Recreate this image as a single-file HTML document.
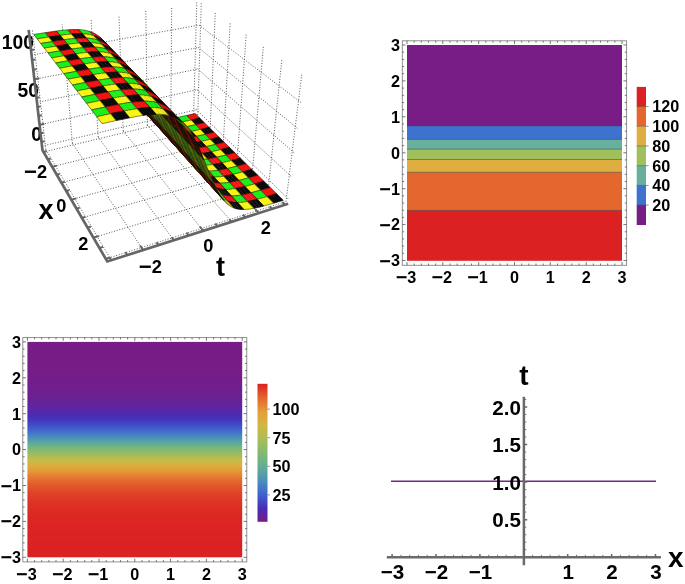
<!DOCTYPE html><html><head><meta charset="utf-8"><title>plots</title><style>html,body{margin:0;padding:0;background:#fff}svg{display:block}text{font-family:"Liberation Sans",Arial,sans-serif;font-weight:bold;fill:#000}</style></head><body>
<svg width="685" height="584" viewBox="0 0 685 584">
<rect width="685" height="584" fill="#fff"/>
<g id="p3d">
<g font-size="19.3" text-anchor="end">
<text x="34" y="48.6">100</text><text x="39" y="96.8">50</text><text x="42" y="141">0</text></g>
<path d="M45.8 149.5L111.3 260.3M43.5 152.0L197.7 115.0M45.8 149.5L32.3 29.2M197.7 115.0L201.3 3.0M72.4 143.2L143.2 250.1M52.1 166.8L210.2 127.2M72.4 143.2L62.2 24.3M210.2 127.2L215.3 12.8M98.2 137.0L173.8 240.3M61.4 182.7L223.4 140.3M98.2 137.0L91.1 19.6M223.4 140.3L230.2 23.2M123.2 131.0L203.3 230.9M71.3 199.6L237.6 154.1M123.2 131.0L118.9 15.1M237.6 154.1L246.2 34.4M147.4 125.3L231.6 221.8M81.9 217.9L252.6 168.9M147.4 125.3L145.8 10.7M252.6 168.9L263.4 46.5M170.8 119.7L258.9 213.1M93.4 237.6L268.7 184.7M170.8 119.7L171.7 6.5M268.7 184.7L281.9 59.5M193.6 114.2L285.1 204.7M105.8 258.9L286.0 201.6M193.6 114.2L196.8 2.4M286.0 201.6L301.9 73.5M42.0 146.1L196.4 109.7M196.4 109.7L288.7 199.3M39.6 124.8L197.0 89.7M197.0 89.7L291.6 176.8M37.0 102.5L197.6 69.0M197.6 69.0L294.6 153.2M34.4 79.3L198.3 47.5M198.3 47.5L297.7 128.4M31.6 55.1L199.0 25.1M199.0 25.1L301.0 102.5" fill="none" stroke="#3a3a3a" stroke-width="0.85" stroke-dasharray="1 1.7"/>
<path d="M186.6 115.5 L195.1 113.6 L199.7 118.1 L191.1 120.1Z" fill="#f41313" stroke="#f41313" stroke-width=".4"/>
<path d="M186.6 115.5L195.1 113.6M191.1 120.1L199.7 118.1M186.6 115.5L191.1 120.1M195.1 113.6L199.7 118.1" stroke="#000" stroke-width=".45" fill="none"/>
<path d="M178.0 117.3 L186.6 115.5 L191.1 120.1 L182.5 121.9Z" fill="#1def1d" stroke="#1def1d" stroke-width=".4"/>
<path d="M178.0 117.3L186.6 115.5M182.5 121.9L191.1 120.1M178.0 117.3L182.5 121.9M186.6 115.5L191.1 120.1" stroke="#000" stroke-width=".45" fill="none"/>
<path d="M175.1 117.8 L178.0 117.3 L182.5 121.9 L179.6 122.4Z" fill="#f41313" stroke="#f41313" stroke-width=".4"/>
<path d="M175.1 117.8L178.0 117.3M179.6 122.4L182.5 121.9M178.0 117.3L182.5 121.9" stroke="#000" stroke-width=".45" fill="none"/>
<path d="M191.1 120.1 L199.7 118.1 L204.3 122.7 L195.7 124.7Z" fill="#0b0b0b" stroke="#0b0b0b" stroke-width=".4"/>
<path d="M191.1 120.1L199.7 118.1M195.7 124.7L204.3 122.7M191.1 120.1L195.7 124.7M199.7 118.1L204.3 122.7" stroke="#000" stroke-width=".45" fill="none"/>
<path d="M172.2 118.2 L175.1 117.8 L179.6 122.4 L176.6 122.8Z" fill="#f41313" stroke="#f41313" stroke-width=".4"/>
<path d="M172.2 118.2L175.1 117.8M176.6 122.8L179.6 122.4" stroke="#000" stroke-width=".45" fill="none"/>
<path d="M169.3 118.6 L172.2 118.2 L176.6 122.8 L173.7 123.2Z" fill="#f41313" stroke="#f41313" stroke-width=".4"/>
<path d="M169.3 118.6L172.2 118.2M173.7 123.2L176.6 122.8M169.3 118.6L173.7 123.2" stroke="#000" stroke-width=".45" fill="none"/>
<path d="M166.4 118.8 L169.3 118.6 L173.7 123.2 L170.8 123.5Z" fill="#1dee1d" stroke="#1dee1d" stroke-width=".4"/>
<path d="M166.4 118.8L169.3 118.6M170.8 123.5L173.7 123.2M169.3 118.6L173.7 123.2" stroke="#000" stroke-width=".45" fill="none"/>
<path d="M182.5 121.9 L191.1 120.1 L195.7 124.7 L187.0 126.6Z" fill="#f9f413" stroke="#f9f413" stroke-width=".4"/>
<path d="M182.5 121.9L191.1 120.1M187.0 126.6L195.7 124.7M182.5 121.9L187.0 126.6M191.1 120.1L195.7 124.7" stroke="#000" stroke-width=".45" fill="none"/>
<path d="M163.5 118.9 L166.4 118.8 L170.8 123.5 L167.8 123.6Z" fill="#1ded1d" stroke="#1ded1d" stroke-width=".4"/>
<path d="M163.5 118.9L166.4 118.8M167.8 123.6L170.8 123.5" stroke="#000" stroke-width=".45" fill="none"/>
<path d="M179.6 122.4 L182.5 121.9 L187.0 126.6 L184.1 127.1Z" fill="#0b0b0b" stroke="#0b0b0b" stroke-width=".4"/>
<path d="M179.6 122.4L182.5 121.9M184.1 127.1L187.0 126.6M182.5 121.9L187.0 126.6" stroke="#000" stroke-width=".45" fill="none"/>
<path d="M160.5 118.8 L163.5 118.9 L167.8 123.6 L164.8 123.5Z" fill="#1deb1d" stroke="#1deb1d" stroke-width=".4"/>
<path d="M160.5 118.8L163.5 118.9M164.8 123.5L167.8 123.6M160.5 118.8L164.8 123.5" stroke="#000" stroke-width=".45" fill="none"/>
<path d="M195.7 124.7 L204.3 122.7 L209.1 127.4 L200.4 129.5Z" fill="#f41313" stroke="#f41313" stroke-width=".4"/>
<path d="M195.7 124.7L204.3 122.7M200.4 129.5L209.1 127.4M195.7 124.7L200.4 129.5M204.3 122.7L209.1 127.4" stroke="#000" stroke-width=".45" fill="none"/>
<path d="M176.6 122.8 L179.6 122.4 L184.1 127.1 L181.1 127.6Z" fill="#0b0b0b" stroke="#0b0b0b" stroke-width=".4"/>
<path d="M176.6 122.8L179.6 122.4M181.1 127.6L184.1 127.1" stroke="#000" stroke-width=".45" fill="none"/>
<path d="M157.6 118.5 L160.5 118.8 L164.8 123.5 L161.9 123.2Z" fill="#ed1313" stroke="#ed1313" stroke-width=".4"/>
<path d="M157.6 118.5L160.5 118.8M161.9 123.2L164.8 123.5M160.5 118.8L164.8 123.5" stroke="#000" stroke-width=".45" fill="none"/>
<path d="M173.7 123.2 L176.6 122.8 L181.1 127.6 L178.2 128.0Z" fill="#0b0b0b" stroke="#0b0b0b" stroke-width=".4"/>
<path d="M173.7 123.2L176.6 122.8M178.2 128.0L181.1 127.6M173.7 123.2L178.2 128.0" stroke="#000" stroke-width=".45" fill="none"/>
<path d="M154.6 117.8 L157.6 118.5 L161.9 123.2 L158.9 122.5Z" fill="#e71212" stroke="#e71212" stroke-width=".4"/>
<path d="M154.6 117.8L157.6 118.5M158.9 122.5L161.9 123.2" stroke="#000" stroke-width=".45" fill="none"/>
<path d="M170.8 123.5 L173.7 123.2 L178.2 128.0 L175.2 128.3Z" fill="#f8f313" stroke="#f8f313" stroke-width=".4"/>
<path d="M170.8 123.5L173.7 123.2M175.2 128.3L178.2 128.0M173.7 123.2L178.2 128.0" stroke="#000" stroke-width=".45" fill="none"/>
<path d="M187.0 126.6 L195.7 124.7 L200.4 129.5 L191.6 131.4Z" fill="#1def1d" stroke="#1def1d" stroke-width=".4"/>
<path d="M187.0 126.6L195.7 124.7M191.6 131.4L200.4 129.5M187.0 126.6L191.6 131.4M195.7 124.7L200.4 129.5" stroke="#000" stroke-width=".45" fill="none"/>
<path d="M167.8 123.6 L170.8 123.5 L175.2 128.3 L172.2 128.4Z" fill="#f7f213" stroke="#f7f213" stroke-width=".4"/>
<path d="M167.8 123.6L170.8 123.5M172.2 128.4L175.2 128.3" stroke="#000" stroke-width=".45" fill="none"/>
<path d="M151.6 116.6 L154.6 117.8 L158.9 122.5 L155.8 121.4Z" fill="#df1212" stroke="#df1212" stroke-width=".4"/>
<path d="M151.6 116.6L154.6 117.8M155.8 121.4L158.9 122.5M151.6 116.6L155.8 121.4" stroke="#000" stroke-width=".45" fill="none"/>
<path d="M184.1 127.1 L187.0 126.6 L191.6 131.4 L188.7 131.9Z" fill="#f41313" stroke="#f41313" stroke-width=".4"/>
<path d="M184.1 127.1L187.0 126.6M188.7 131.9L191.6 131.4M187.0 126.6L191.6 131.4" stroke="#000" stroke-width=".45" fill="none"/>
<path d="M164.8 123.5 L167.8 123.6 L172.2 128.4 L169.2 128.3Z" fill="#f5f013" stroke="#f5f013" stroke-width=".4"/>
<path d="M164.8 123.5L167.8 123.6M169.2 128.3L172.2 128.4M164.8 123.5L169.2 128.3" stroke="#000" stroke-width=".45" fill="none"/>
<path d="M200.4 129.5 L209.1 127.4 L214.0 132.3 L205.3 134.4Z" fill="#0b0b0b" stroke="#0b0b0b" stroke-width=".4"/>
<path d="M200.4 129.5L209.1 127.4M205.3 134.4L214.0 132.3M200.4 129.5L205.3 134.4M209.1 127.4L214.0 132.3" stroke="#000" stroke-width=".45" fill="none"/>
<path d="M149.8 115.7 L151.6 116.6 L155.8 121.4 L154.0 120.4Z" fill="#1bcd1a" stroke="#1bcd1a" stroke-width=".4"/>
<path d="M149.8 115.7L151.6 116.6M154.0 120.4L155.8 121.4M151.6 116.6L155.8 121.4" stroke="#000" stroke-width=".45" fill="none"/>
<path d="M181.1 127.6 L184.1 127.1 L188.7 131.9 L185.7 132.4Z" fill="#f41313" stroke="#f41313" stroke-width=".4"/>
<path d="M181.1 127.6L184.1 127.1M185.7 132.4L188.7 131.9" stroke="#000" stroke-width=".45" fill="none"/>
<path d="M161.9 123.2 L164.8 123.5 L169.2 128.3 L166.2 128.0Z" fill="#0b0b0b" stroke="#0b0b0b" stroke-width=".4"/>
<path d="M161.9 123.2L164.8 123.5M166.2 128.0L169.2 128.3M164.8 123.5L169.2 128.3" stroke="#000" stroke-width=".45" fill="none"/>
<path d="M147.9 114.5 L149.8 115.7 L154.0 120.4 L152.2 119.2Z" fill="#1cc018" stroke="#1cc018" stroke-width=".4"/>
<path d="M147.9 114.5L149.8 115.7M152.2 119.2L154.0 120.4" stroke="#000" stroke-width=".45" fill="none"/>
<path d="M178.2 128.0 L181.1 127.6 L185.7 132.4 L182.8 132.8Z" fill="#f41313" stroke="#f41313" stroke-width=".4"/>
<path d="M178.2 128.0L181.1 127.6M182.8 132.8L185.7 132.4M178.2 128.0L182.8 132.8" stroke="#000" stroke-width=".45" fill="none"/>
<path d="M158.9 122.5 L161.9 123.2 L166.2 128.0 L163.2 127.3Z" fill="#0b0b0b" stroke="#0b0b0b" stroke-width=".4"/>
<path d="M158.9 122.5L161.9 123.2M163.2 127.3L166.2 128.0" stroke="#000" stroke-width=".45" fill="none"/>
<path d="M146.1 113.1 L147.9 114.5 L152.2 119.2 L150.3 117.8Z" fill="#1db217" stroke="#1db217" stroke-width=".4"/>
<path d="M146.1 113.1L147.9 114.5M150.3 117.8L152.2 119.2" stroke="#000" stroke-width=".45" fill="none"/>
<path d="M175.2 128.3 L178.2 128.0 L182.8 132.8 L179.8 133.1Z" fill="#1dee1d" stroke="#1dee1d" stroke-width=".4"/>
<path d="M175.2 128.3L178.2 128.0M179.8 133.1L182.8 132.8M178.2 128.0L182.8 132.8" stroke="#000" stroke-width=".45" fill="none"/>
<path d="M191.6 131.4 L200.4 129.5 L205.3 134.4 L196.4 136.3Z" fill="#f9f413" stroke="#f9f413" stroke-width=".4"/>
<path d="M191.6 131.4L200.4 129.5M196.4 136.3L205.3 134.4M191.6 131.4L196.4 136.3M200.4 129.5L205.3 134.4" stroke="#000" stroke-width=".45" fill="none"/>
<path d="M172.2 128.4 L175.2 128.3 L179.8 133.1 L176.8 133.3Z" fill="#1ded1d" stroke="#1ded1d" stroke-width=".4"/>
<path d="M172.2 128.4L175.2 128.3M176.8 133.3L179.8 133.1" stroke="#000" stroke-width=".45" fill="none"/>
<path d="M144.2 111.4 L146.1 113.1 L150.3 117.8 L148.4 116.1Z" fill="#1fa316" stroke="#1fa316" stroke-width=".4"/>
<path d="M144.2 111.4L146.1 113.1M148.4 116.1L150.3 117.8" stroke="#000" stroke-width=".45" fill="none"/>
<path d="M155.8 121.4 L158.9 122.5 L163.2 127.3 L160.2 126.2Z" fill="#0a0a0a" stroke="#0a0a0a" stroke-width=".4"/>
<path d="M155.8 121.4L158.9 122.5M160.2 126.2L163.2 127.3M155.8 121.4L160.2 126.2" stroke="#000" stroke-width=".45" fill="none"/>
<path d="M188.7 131.9 L191.6 131.4 L196.4 136.3 L193.4 136.9Z" fill="#0b0b0b" stroke="#0b0b0b" stroke-width=".4"/>
<path d="M188.7 131.9L191.6 131.4M193.4 136.9L196.4 136.3M191.6 131.4L196.4 136.3" stroke="#000" stroke-width=".45" fill="none"/>
<path d="M169.2 128.3 L172.2 128.4 L176.8 133.3 L173.8 133.2Z" fill="#1deb1d" stroke="#1deb1d" stroke-width=".4"/>
<path d="M169.2 128.3L172.2 128.4M173.8 133.2L176.8 133.3M169.2 128.3L173.8 133.2" stroke="#000" stroke-width=".45" fill="none"/>
<path d="M205.3 134.4 L214.0 132.3 L219.1 137.2 L210.2 139.4Z" fill="#f41313" stroke="#f41313" stroke-width=".4"/>
<path d="M205.3 134.4L214.0 132.3M210.2 139.4L219.1 137.2M205.3 134.4L210.2 139.4M214.0 132.3L219.1 137.2" stroke="#000" stroke-width=".45" fill="none"/>
<path d="M154.0 120.4 L155.8 121.4 L160.2 126.2 L158.3 125.2Z" fill="#d5d111" stroke="#d5d111" stroke-width=".4"/>
<path d="M154.0 120.4L155.8 121.4M158.3 125.2L160.2 126.2M155.8 121.4L160.2 126.2" stroke="#000" stroke-width=".45" fill="none"/>
<path d="M142.4 109.4 L144.2 111.4 L148.4 116.1 L146.6 114.1Z" fill="#219415" stroke="#219415" stroke-width=".4"/>
<path d="M142.4 109.4L144.2 111.4M146.6 114.1L148.4 116.1M142.4 109.4L146.6 114.1" stroke="#000" stroke-width=".3" fill="none"/>
<path d="M185.7 132.4 L188.7 131.9 L193.4 136.9 L190.4 137.4Z" fill="#0b0b0b" stroke="#0b0b0b" stroke-width=".4"/>
<path d="M185.7 132.4L188.7 131.9M190.4 137.4L193.4 136.9" stroke="#000" stroke-width=".45" fill="none"/>
<path d="M166.2 128.0 L169.2 128.3 L173.8 133.2 L170.7 132.9Z" fill="#ed1313" stroke="#ed1313" stroke-width=".4"/>
<path d="M166.2 128.0L169.2 128.3M170.7 132.9L173.8 133.2M169.2 128.3L173.8 133.2" stroke="#000" stroke-width=".45" fill="none"/>
<path d="M152.2 119.2 L154.0 120.4 L158.3 125.2 L156.5 124.1Z" fill="#c6c411" stroke="#c6c411" stroke-width=".4"/>
<path d="M152.2 119.2L154.0 120.4M156.5 124.1L158.3 125.2" stroke="#000" stroke-width=".45" fill="none"/>
<path d="M182.8 132.8 L185.7 132.4 L190.4 137.4 L187.4 137.8Z" fill="#0b0b0b" stroke="#0b0b0b" stroke-width=".4"/>
<path d="M182.8 132.8L185.7 132.4M187.4 137.8L190.4 137.4M182.8 132.8L187.4 137.8" stroke="#000" stroke-width=".45" fill="none"/>
<path d="M140.5 107.1 L142.4 109.4 L146.6 114.1 L144.6 111.7Z" fill="#80100c" stroke="#80100c" stroke-width=".4"/>
<path d="M140.5 107.1L142.4 109.4M144.6 111.7L146.6 114.1M142.4 109.4L146.6 114.1" stroke="#000" stroke-width=".3" fill="none"/>
<path d="M163.2 127.3 L166.2 128.0 L170.7 132.9 L167.7 132.2Z" fill="#e71212" stroke="#e71212" stroke-width=".4"/>
<path d="M163.2 127.3L166.2 128.0M167.7 132.2L170.7 132.9" stroke="#000" stroke-width=".45" fill="none"/>
<path d="M150.3 117.8 L152.2 119.2 L156.5 124.1 L154.6 122.6Z" fill="#b7b610" stroke="#b7b610" stroke-width=".4"/>
<path d="M150.3 117.8L152.2 119.2M154.6 122.6L156.5 124.1" stroke="#000" stroke-width=".45" fill="none"/>
<path d="M179.8 133.1 L182.8 132.8 L187.4 137.8 L184.4 138.1Z" fill="#f8f313" stroke="#f8f313" stroke-width=".4"/>
<path d="M179.8 133.1L182.8 132.8M184.4 138.1L187.4 137.8M182.8 132.8L187.4 137.8" stroke="#000" stroke-width=".45" fill="none"/>
<path d="M196.4 136.3 L205.3 134.4 L210.2 139.4 L201.3 141.4Z" fill="#1def1d" stroke="#1def1d" stroke-width=".4"/>
<path d="M196.4 136.3L205.3 134.4M201.3 141.4L210.2 139.4M196.4 136.3L201.3 141.4M205.3 134.4L210.2 139.4" stroke="#000" stroke-width=".45" fill="none"/>
<path d="M138.5 104.4 L140.5 107.1 L144.6 111.7 L142.7 109.0Z" fill="#72100b" stroke="#72100b" stroke-width=".4"/>
<path d="M138.5 104.4L140.5 107.1M142.7 109.0L144.6 111.7" stroke="#000" stroke-width=".3" fill="none"/>
<path d="M176.8 133.3 L179.8 133.1 L184.4 138.1 L181.4 138.3Z" fill="#f7f213" stroke="#f7f213" stroke-width=".4"/>
<path d="M176.8 133.3L179.8 133.1M181.4 138.3L184.4 138.1" stroke="#000" stroke-width=".45" fill="none"/>
<path d="M148.4 116.1 L150.3 117.8 L154.6 122.6 L152.7 120.9Z" fill="#a6a610" stroke="#a6a610" stroke-width=".4"/>
<path d="M148.4 116.1L150.3 117.8M152.7 120.9L154.6 122.6" stroke="#000" stroke-width=".45" fill="none"/>
<path d="M160.2 126.2 L163.2 127.3 L167.7 132.2 L164.6 131.1Z" fill="#df1212" stroke="#df1212" stroke-width=".4"/>
<path d="M160.2 126.2L163.2 127.3M164.6 131.1L167.7 132.2M160.2 126.2L164.6 131.1" stroke="#000" stroke-width=".45" fill="none"/>
<path d="M193.4 136.9 L196.4 136.3 L201.3 141.4 L198.3 142.0Z" fill="#f41313" stroke="#f41313" stroke-width=".4"/>
<path d="M193.4 136.9L196.4 136.3M198.3 142.0L201.3 141.4M196.4 136.3L201.3 141.4" stroke="#000" stroke-width=".45" fill="none"/>
<path d="M173.8 133.2 L176.8 133.3 L181.4 138.3 L178.4 138.3Z" fill="#f5f013" stroke="#f5f013" stroke-width=".4"/>
<path d="M173.8 133.2L176.8 133.3M178.4 138.3L181.4 138.3M173.8 133.2L178.4 138.3" stroke="#000" stroke-width=".45" fill="none"/>
<path d="M210.2 139.4 L219.1 137.2 L224.2 142.3 L215.3 144.5Z" fill="#0b0b0b" stroke="#0b0b0b" stroke-width=".4"/>
<path d="M210.2 139.4L219.1 137.2M215.3 144.5L224.2 142.3M210.2 139.4L215.3 144.5M219.1 137.2L224.2 142.3" stroke="#000" stroke-width=".45" fill="none"/>
<path d="M158.3 125.2 L160.2 126.2 L164.6 131.1 L162.8 130.2Z" fill="#1bcd1a" stroke="#1bcd1a" stroke-width=".4"/>
<path d="M158.3 125.2L160.2 126.2M162.8 130.2L164.6 131.1M160.2 126.2L164.6 131.1" stroke="#000" stroke-width=".45" fill="none"/>
<path d="M136.6 101.3 L138.5 104.4 L142.7 109.0 L140.8 106.0Z" fill="#65110a" stroke="#65110a" stroke-width=".4"/>
<path d="M136.6 101.3L138.5 104.4M140.8 106.0L142.7 109.0" stroke="#000" stroke-width=".3" fill="none"/>
<path d="M146.6 114.1 L148.4 116.1 L152.7 120.9 L150.8 118.9Z" fill="#95970f" stroke="#95970f" stroke-width=".4"/>
<path d="M146.6 114.1L148.4 116.1M150.8 118.9L152.7 120.9M146.6 114.1L150.8 118.9" stroke="#000" stroke-width=".3" fill="none"/>
<path d="M190.4 137.4 L193.4 136.9 L198.3 142.0 L195.3 142.5Z" fill="#f41313" stroke="#f41313" stroke-width=".4"/>
<path d="M190.4 137.4L193.4 136.9M195.3 142.5L198.3 142.0" stroke="#000" stroke-width=".45" fill="none"/>
<path d="M170.7 132.9 L173.8 133.2 L178.4 138.3 L175.3 137.9Z" fill="#0b0b0b" stroke="#0b0b0b" stroke-width=".4"/>
<path d="M170.7 132.9L173.8 133.2M175.3 137.9L178.4 138.3M173.8 133.2L178.4 138.3" stroke="#000" stroke-width=".45" fill="none"/>
<path d="M156.5 124.1 L158.3 125.2 L162.8 130.2 L160.9 129.0Z" fill="#1cc018" stroke="#1cc018" stroke-width=".4"/>
<path d="M156.5 124.1L158.3 125.2M160.9 129.0L162.8 130.2" stroke="#000" stroke-width=".45" fill="none"/>
<path d="M187.4 137.8 L190.4 137.4 L195.3 142.5 L192.2 142.9Z" fill="#f41313" stroke="#f41313" stroke-width=".4"/>
<path d="M187.4 137.8L190.4 137.4M192.2 142.9L195.3 142.5M187.4 137.8L192.2 142.9" stroke="#000" stroke-width=".45" fill="none"/>
<path d="M144.6 111.7 L146.6 114.1 L150.8 118.9 L148.9 116.5Z" fill="#190d08" stroke="#190d08" stroke-width=".4"/>
<path d="M144.6 111.7L146.6 114.1M148.9 116.5L150.8 118.9M146.6 114.1L150.8 118.9" stroke="#000" stroke-width=".3" fill="none"/>
<path d="M134.6 97.9 L136.6 101.3 L140.8 106.0 L138.8 102.6Z" fill="#5c110a" stroke="#5c110a" stroke-width=".4"/>
<path d="M134.6 97.9L136.6 101.3M138.8 102.6L140.8 106.0" stroke="#000" stroke-width=".3" fill="none"/>
<path d="M167.7 132.2 L170.7 132.9 L175.3 137.9 L172.3 137.3Z" fill="#0b0b0b" stroke="#0b0b0b" stroke-width=".4"/>
<path d="M167.7 132.2L170.7 132.9M172.3 137.3L175.3 137.9" stroke="#000" stroke-width=".45" fill="none"/>
<path d="M154.6 122.6 L156.5 124.1 L160.9 129.0 L159.0 127.6Z" fill="#1db217" stroke="#1db217" stroke-width=".4"/>
<path d="M154.6 122.6L156.5 124.1M159.0 127.6L160.9 129.0" stroke="#000" stroke-width=".45" fill="none"/>
<path d="M184.4 138.1 L187.4 137.8 L192.2 142.9 L189.2 143.3Z" fill="#1dee1d" stroke="#1dee1d" stroke-width=".4"/>
<path d="M184.4 138.1L187.4 137.8M189.2 143.3L192.2 142.9M187.4 137.8L192.2 142.9" stroke="#000" stroke-width=".45" fill="none"/>
<path d="M201.3 141.4 L210.2 139.4 L215.3 144.5 L206.3 146.5Z" fill="#f9f413" stroke="#f9f413" stroke-width=".4"/>
<path d="M201.3 141.4L210.2 139.4M206.3 146.5L215.3 144.5M201.3 141.4L206.3 146.5M210.2 139.4L215.3 144.5" stroke="#000" stroke-width=".45" fill="none"/>
<path d="M142.7 109.0 L144.6 111.7 L148.9 116.5 L147.0 113.8Z" fill="#1c0d08" stroke="#1c0d08" stroke-width=".4"/>
<path d="M142.7 109.0L144.6 111.7M147.0 113.8L148.9 116.5" stroke="#000" stroke-width=".3" fill="none"/>
<path d="M181.4 138.3 L184.4 138.1 L189.2 143.3 L186.2 143.4Z" fill="#1ded1d" stroke="#1ded1d" stroke-width=".4"/>
<path d="M181.4 138.3L184.4 138.1M186.2 143.4L189.2 143.3" stroke="#000" stroke-width=".45" fill="none"/>
<path d="M152.7 120.9 L154.6 122.6 L159.0 127.6 L157.1 125.8Z" fill="#1fa316" stroke="#1fa316" stroke-width=".4"/>
<path d="M152.7 120.9L154.6 122.6M157.1 125.8L159.0 127.6" stroke="#000" stroke-width=".45" fill="none"/>
<path d="M164.6 131.1 L167.7 132.2 L172.3 137.3 L169.2 136.2Z" fill="#0a0a0a" stroke="#0a0a0a" stroke-width=".4"/>
<path d="M164.6 131.1L167.7 132.2M169.2 136.2L172.3 137.3M164.6 131.1L169.2 136.2" stroke="#000" stroke-width=".45" fill="none"/>
<path d="M132.6 94.2 L134.6 97.9 L138.8 102.6 L136.8 98.8Z" fill="#54110a" stroke="#54110a" stroke-width=".4"/>
<path d="M132.6 94.2L134.6 97.9M136.8 98.8L138.8 102.6M132.6 94.2L136.8 98.8" stroke="#000" stroke-width=".3" fill="none"/>
<path d="M198.3 142.0 L201.3 141.4 L206.3 146.5 L203.2 147.1Z" fill="#0b0b0b" stroke="#0b0b0b" stroke-width=".4"/>
<path d="M198.3 142.0L201.3 141.4M203.2 147.1L206.3 146.5M201.3 141.4L206.3 146.5" stroke="#000" stroke-width=".45" fill="none"/>
<path d="M178.4 138.3 L181.4 138.3 L186.2 143.4 L183.1 143.4Z" fill="#1deb1d" stroke="#1deb1d" stroke-width=".4"/>
<path d="M178.4 138.3L181.4 138.3M183.1 143.4L186.2 143.4M178.4 138.3L183.1 143.4" stroke="#000" stroke-width=".45" fill="none"/>
<path d="M215.3 144.5 L224.2 142.3 L229.5 147.4 L220.5 149.7Z" fill="#f41313" stroke="#f41313" stroke-width=".4"/>
<path d="M215.3 144.5L224.2 142.3M220.5 149.7L229.5 147.4M215.3 144.5L220.5 149.7M224.2 142.3L229.5 147.4" stroke="#000" stroke-width=".45" fill="none"/>
<path d="M162.8 130.2 L164.6 131.1 L169.2 136.2 L167.3 135.2Z" fill="#d5d111" stroke="#d5d111" stroke-width=".4"/>
<path d="M162.8 130.2L164.6 131.1M167.3 135.2L169.2 136.2M164.6 131.1L169.2 136.2" stroke="#000" stroke-width=".45" fill="none"/>
<path d="M140.8 106.0 L142.7 109.0 L147.0 113.8 L145.1 110.7Z" fill="#1f0e08" stroke="#1f0e08" stroke-width=".4"/>
<path d="M140.8 106.0L142.7 109.0M145.1 110.7L147.0 113.8" stroke="#000" stroke-width=".3" fill="none"/>
<path d="M150.8 118.9 L152.7 120.9 L157.1 125.8 L155.2 123.8Z" fill="#219415" stroke="#219415" stroke-width=".4"/>
<path d="M150.8 118.9L152.7 120.9M155.2 123.8L157.1 125.8M150.8 118.9L155.2 123.8" stroke="#000" stroke-width=".3" fill="none"/>
<path d="M195.3 142.5 L198.3 142.0 L203.2 147.1 L200.2 147.7Z" fill="#0b0b0b" stroke="#0b0b0b" stroke-width=".4"/>
<path d="M195.3 142.5L198.3 142.0M200.2 147.7L203.2 147.1" stroke="#000" stroke-width=".45" fill="none"/>
<path d="M175.3 137.9 L178.4 138.3 L183.1 143.4 L180.0 143.1Z" fill="#ed1313" stroke="#ed1313" stroke-width=".4"/>
<path d="M175.3 137.9L178.4 138.3M180.0 143.1L183.1 143.4M178.4 138.3L183.1 143.4" stroke="#000" stroke-width=".45" fill="none"/>
<path d="M130.6 90.2 L132.6 94.2 L136.8 98.8 L134.8 94.8Z" fill="#2e5e11" stroke="#2e5e11" stroke-width=".4"/>
<path d="M130.6 90.2L132.6 94.2M134.8 94.8L136.8 98.8M132.6 94.2L136.8 98.8" stroke="#000" stroke-width=".3" fill="none"/>
<path d="M160.9 129.0 L162.8 130.2 L167.3 135.2 L165.4 134.0Z" fill="#c6c411" stroke="#c6c411" stroke-width=".4"/>
<path d="M160.9 129.0L162.8 130.2M165.4 134.0L167.3 135.2" stroke="#000" stroke-width=".45" fill="none"/>
<path d="M192.2 142.9 L195.3 142.5 L200.2 147.7 L197.2 148.1Z" fill="#0b0b0b" stroke="#0b0b0b" stroke-width=".4"/>
<path d="M192.2 142.9L195.3 142.5M197.2 148.1L200.2 147.7M192.2 142.9L197.2 148.1" stroke="#000" stroke-width=".45" fill="none"/>
<path d="M148.9 116.5 L150.8 118.9 L155.2 123.8 L153.3 121.4Z" fill="#80100c" stroke="#80100c" stroke-width=".4"/>
<path d="M148.9 116.5L150.8 118.9M153.3 121.4L155.2 123.8M150.8 118.9L155.2 123.8" stroke="#000" stroke-width=".3" fill="none"/>
<path d="M138.8 102.6 L140.8 106.0 L145.1 110.7 L143.1 107.3Z" fill="#220f08" stroke="#220f08" stroke-width=".4"/>
<path d="M138.8 102.6L140.8 106.0M143.1 107.3L145.1 110.7" stroke="#000" stroke-width=".3" fill="none"/>
<path d="M172.3 137.3 L175.3 137.9 L180.0 143.1 L176.9 142.4Z" fill="#e71212" stroke="#e71212" stroke-width=".4"/>
<path d="M172.3 137.3L175.3 137.9M176.9 142.4L180.0 143.1" stroke="#000" stroke-width=".45" fill="none"/>
<path d="M159.0 127.6 L160.9 129.0 L165.4 134.0 L163.6 132.6Z" fill="#b7b610" stroke="#b7b610" stroke-width=".4"/>
<path d="M159.0 127.6L160.9 129.0M163.6 132.6L165.4 134.0" stroke="#000" stroke-width=".45" fill="none"/>
<path d="M189.2 143.3 L192.2 142.9 L197.2 148.1 L194.1 148.5Z" fill="#f8f313" stroke="#f8f313" stroke-width=".4"/>
<path d="M189.2 143.3L192.2 142.9M194.1 148.5L197.2 148.1M192.2 142.9L197.2 148.1" stroke="#000" stroke-width=".45" fill="none"/>
<path d="M206.3 146.5 L215.3 144.5 L220.5 149.7 L211.4 151.8Z" fill="#1def1d" stroke="#1def1d" stroke-width=".4"/>
<path d="M206.3 146.5L215.3 144.5M211.4 151.8L220.5 149.7M206.3 146.5L211.4 151.8M215.3 144.5L220.5 149.7" stroke="#000" stroke-width=".45" fill="none"/>
<path d="M147.0 113.8 L148.9 116.5 L153.3 121.4 L151.4 118.7Z" fill="#72100b" stroke="#72100b" stroke-width=".4"/>
<path d="M147.0 113.8L148.9 116.5M151.4 118.7L153.3 121.4" stroke="#000" stroke-width=".3" fill="none"/>
<path d="M128.6 85.9 L130.6 90.2 L134.8 94.8 L132.7 90.4Z" fill="#2f5d12" stroke="#2f5d12" stroke-width=".4"/>
<path d="M128.6 85.9L130.6 90.2M132.7 90.4L134.8 94.8" stroke="#000" stroke-width=".3" fill="none"/>
<path d="M186.2 143.4 L189.2 143.3 L194.1 148.5 L191.0 148.7Z" fill="#f7f213" stroke="#f7f213" stroke-width=".4"/>
<path d="M186.2 143.4L189.2 143.3M191.0 148.7L194.1 148.5" stroke="#000" stroke-width=".45" fill="none"/>
<path d="M157.1 125.8 L159.0 127.6 L163.6 132.6 L161.7 130.9Z" fill="#a6a610" stroke="#a6a610" stroke-width=".4"/>
<path d="M157.1 125.8L159.0 127.6M161.7 130.9L163.6 132.6" stroke="#000" stroke-width=".45" fill="none"/>
<path d="M169.2 136.2 L172.3 137.3 L176.9 142.4 L173.8 141.3Z" fill="#df1212" stroke="#df1212" stroke-width=".4"/>
<path d="M169.2 136.2L172.3 137.3M173.8 141.3L176.9 142.4M169.2 136.2L173.8 141.3" stroke="#000" stroke-width=".45" fill="none"/>
<path d="M136.8 98.8 L138.8 102.6 L143.1 107.3 L141.1 103.5Z" fill="#251008" stroke="#251008" stroke-width=".4"/>
<path d="M136.8 98.8L138.8 102.6M141.1 103.5L143.1 107.3M136.8 98.8L141.1 103.5" stroke="#000" stroke-width=".3" fill="none"/>
<path d="M203.2 147.1 L206.3 146.5 L211.4 151.8 L208.3 152.5Z" fill="#f41313" stroke="#f41313" stroke-width=".4"/>
<path d="M203.2 147.1L206.3 146.5M208.3 152.5L211.4 151.8M206.3 146.5L211.4 151.8" stroke="#000" stroke-width=".45" fill="none"/>
<path d="M183.1 143.4 L186.2 143.4 L191.0 148.7 L187.9 148.7Z" fill="#f5f013" stroke="#f5f013" stroke-width=".4"/>
<path d="M183.1 143.4L186.2 143.4M187.9 148.7L191.0 148.7M183.1 143.4L187.9 148.7" stroke="#000" stroke-width=".45" fill="none"/>
<path d="M220.5 149.7 L229.5 147.4 L234.8 152.7 L225.8 155.1Z" fill="#0b0b0b" stroke="#0b0b0b" stroke-width=".4"/>
<path d="M220.5 149.7L229.5 147.4M225.8 155.1L234.8 152.7M220.5 149.7L225.8 155.1M229.5 147.4L234.8 152.7" stroke="#000" stroke-width=".45" fill="none"/>
<path d="M167.3 135.2 L169.2 136.2 L173.8 141.3 L172.0 140.4Z" fill="#1bcd1a" stroke="#1bcd1a" stroke-width=".4"/>
<path d="M167.3 135.2L169.2 136.2M172.0 140.4L173.8 141.3M169.2 136.2L173.8 141.3" stroke="#000" stroke-width=".45" fill="none"/>
<path d="M145.1 110.7 L147.0 113.8 L151.4 118.7 L149.4 115.6Z" fill="#65110a" stroke="#65110a" stroke-width=".4"/>
<path d="M145.1 110.7L147.0 113.8M149.4 115.6L151.4 118.7" stroke="#000" stroke-width=".3" fill="none"/>
<path d="M155.2 123.8 L157.1 125.8 L161.7 130.9 L159.8 128.8Z" fill="#95970f" stroke="#95970f" stroke-width=".4"/>
<path d="M155.2 123.8L157.1 125.8M159.8 128.8L161.7 130.9M155.2 123.8L159.8 128.8" stroke="#000" stroke-width=".3" fill="none"/>
<path d="M200.2 147.7 L203.2 147.1 L208.3 152.5 L205.3 153.0Z" fill="#f41313" stroke="#f41313" stroke-width=".4"/>
<path d="M200.2 147.7L203.2 147.1M205.3 153.0L208.3 152.5" stroke="#000" stroke-width=".45" fill="none"/>
<path d="M126.5 81.4 L128.6 85.9 L132.7 90.4 L130.7 85.9Z" fill="#2f5d12" stroke="#2f5d12" stroke-width=".4"/>
<path d="M126.5 81.4L128.6 85.9M130.7 85.9L132.7 90.4" stroke="#000" stroke-width=".3" fill="none"/>
<path d="M180.0 143.1 L183.1 143.4 L187.9 148.7 L184.8 148.4Z" fill="#0b0b0b" stroke="#0b0b0b" stroke-width=".4"/>
<path d="M180.0 143.1L183.1 143.4M184.8 148.4L187.9 148.7M183.1 143.4L187.9 148.7" stroke="#000" stroke-width=".45" fill="none"/>
<path d="M134.8 94.8 L136.8 98.8 L141.1 103.5 L139.1 99.4Z" fill="#545f10" stroke="#545f10" stroke-width=".4"/>
<path d="M134.8 94.8L136.8 98.8M139.1 99.4L141.1 103.5M136.8 98.8L141.1 103.5" stroke="#000" stroke-width=".3" fill="none"/>
<path d="M165.4 134.0 L167.3 135.2 L172.0 140.4 L170.1 139.2Z" fill="#1cc018" stroke="#1cc018" stroke-width=".4"/>
<path d="M165.4 134.0L167.3 135.2M170.1 139.2L172.0 140.4" stroke="#000" stroke-width=".45" fill="none"/>
<path d="M197.2 148.1 L200.2 147.7 L205.3 153.0 L202.2 153.5Z" fill="#f41313" stroke="#f41313" stroke-width=".4"/>
<path d="M197.2 148.1L200.2 147.7M202.2 153.5L205.3 153.0M197.2 148.1L202.2 153.5" stroke="#000" stroke-width=".45" fill="none"/>
<path d="M153.3 121.4 L155.2 123.8 L159.8 128.8 L157.8 126.5Z" fill="#190d08" stroke="#190d08" stroke-width=".4"/>
<path d="M153.3 121.4L155.2 123.8M157.8 126.5L159.8 128.8M155.2 123.8L159.8 128.8" stroke="#000" stroke-width=".3" fill="none"/>
<path d="M143.1 107.3 L145.1 110.7 L149.4 115.6 L147.5 112.2Z" fill="#5c110a" stroke="#5c110a" stroke-width=".4"/>
<path d="M143.1 107.3L145.1 110.7M147.5 112.2L149.4 115.6" stroke="#000" stroke-width=".3" fill="none"/>
<path d="M176.9 142.4 L180.0 143.1 L184.8 148.4 L181.7 147.7Z" fill="#0b0b0b" stroke="#0b0b0b" stroke-width=".4"/>
<path d="M176.9 142.4L180.0 143.1M181.7 147.7L184.8 148.4" stroke="#000" stroke-width=".45" fill="none"/>
<path d="M163.6 132.6 L165.4 134.0 L170.1 139.2 L168.2 137.8Z" fill="#1db217" stroke="#1db217" stroke-width=".4"/>
<path d="M163.6 132.6L165.4 134.0M168.2 137.8L170.1 139.2" stroke="#000" stroke-width=".45" fill="none"/>
<path d="M194.1 148.5 L197.2 148.1 L202.2 153.5 L199.1 153.9Z" fill="#1dee1d" stroke="#1dee1d" stroke-width=".4"/>
<path d="M194.1 148.5L197.2 148.1M199.1 153.9L202.2 153.5M197.2 148.1L202.2 153.5" stroke="#000" stroke-width=".45" fill="none"/>
<path d="M211.4 151.8 L220.5 149.7 L225.8 155.1 L216.6 157.2Z" fill="#f9f413" stroke="#f9f413" stroke-width=".4"/>
<path d="M211.4 151.8L220.5 149.7M216.6 157.2L225.8 155.1M211.4 151.8L216.6 157.2M220.5 149.7L225.8 155.1" stroke="#000" stroke-width=".45" fill="none"/>
<path d="M124.4 76.8 L126.5 81.4 L130.7 85.9 L128.6 81.3Z" fill="#2f5d12" stroke="#2f5d12" stroke-width=".4"/>
<path d="M124.4 76.8L126.5 81.4M128.6 81.3L130.7 85.9" stroke="#000" stroke-width=".3" fill="none"/>
<path d="M151.4 118.7 L153.3 121.4 L157.8 126.5 L155.9 123.7Z" fill="#1c0d08" stroke="#1c0d08" stroke-width=".4"/>
<path d="M151.4 118.7L153.3 121.4M155.9 123.7L157.8 126.5" stroke="#000" stroke-width=".3" fill="none"/>
<path d="M132.7 90.4 L134.8 94.8 L139.1 99.4 L137.0 95.1Z" fill="#535e10" stroke="#535e10" stroke-width=".4"/>
<path d="M132.7 90.4L134.8 94.8M137.0 95.1L139.1 99.4" stroke="#000" stroke-width=".3" fill="none"/>
<path d="M191.0 148.7 L194.1 148.5 L199.1 153.9 L196.0 154.1Z" fill="#1ded1d" stroke="#1ded1d" stroke-width=".4"/>
<path d="M191.0 148.7L194.1 148.5M196.0 154.1L199.1 153.9" stroke="#000" stroke-width=".45" fill="none"/>
<path d="M161.7 130.9 L163.6 132.6 L168.2 137.8 L166.3 136.1Z" fill="#1fa316" stroke="#1fa316" stroke-width=".4"/>
<path d="M161.7 130.9L163.6 132.6M166.3 136.1L168.2 137.8" stroke="#000" stroke-width=".45" fill="none"/>
<path d="M173.8 141.3 L176.9 142.4 L181.7 147.7 L178.6 146.6Z" fill="#0a0a0a" stroke="#0a0a0a" stroke-width=".4"/>
<path d="M173.8 141.3L176.9 142.4M178.6 146.6L181.7 147.7M173.8 141.3L178.6 146.6" stroke="#000" stroke-width=".45" fill="none"/>
<path d="M141.1 103.5 L143.1 107.3 L147.5 112.2 L145.5 108.4Z" fill="#54110a" stroke="#54110a" stroke-width=".4"/>
<path d="M141.1 103.5L143.1 107.3M145.5 108.4L147.5 112.2M141.1 103.5L145.5 108.4" stroke="#000" stroke-width=".3" fill="none"/>
<path d="M208.3 152.5 L211.4 151.8 L216.6 157.2 L213.5 157.9Z" fill="#0b0b0b" stroke="#0b0b0b" stroke-width=".4"/>
<path d="M208.3 152.5L211.4 151.8M213.5 157.9L216.6 157.2M211.4 151.8L216.6 157.2" stroke="#000" stroke-width=".45" fill="none"/>
<path d="M187.9 148.7 L191.0 148.7 L196.0 154.1 L192.9 154.1Z" fill="#1deb1d" stroke="#1deb1d" stroke-width=".4"/>
<path d="M187.9 148.7L191.0 148.7M192.9 154.1L196.0 154.1M187.9 148.7L192.9 154.1" stroke="#000" stroke-width=".45" fill="none"/>
<path d="M225.8 155.1 L234.8 152.7 L240.4 158.2 L231.2 160.6Z" fill="#f41313" stroke="#f41313" stroke-width=".4"/>
<path d="M225.8 155.1L234.8 152.7M231.2 160.6L240.4 158.2M225.8 155.1L231.2 160.6M234.8 152.7L240.4 158.2" stroke="#000" stroke-width=".45" fill="none"/>
<path d="M172.0 140.4 L173.8 141.3 L178.6 146.6 L176.7 145.7Z" fill="#d5d111" stroke="#d5d111" stroke-width=".4"/>
<path d="M172.0 140.4L173.8 141.3M176.7 145.7L178.6 146.6M173.8 141.3L178.6 146.6" stroke="#000" stroke-width=".45" fill="none"/>
<path d="M149.4 115.6 L151.4 118.7 L155.9 123.7 L153.9 120.6Z" fill="#1f0e08" stroke="#1f0e08" stroke-width=".4"/>
<path d="M149.4 115.6L151.4 118.7M153.9 120.6L155.9 123.7" stroke="#000" stroke-width=".3" fill="none"/>
<path d="M159.8 128.8 L161.7 130.9 L166.3 136.1 L164.4 134.0Z" fill="#219415" stroke="#219415" stroke-width=".4"/>
<path d="M159.8 128.8L161.7 130.9M164.4 134.0L166.3 136.1M159.8 128.8L164.4 134.0" stroke="#000" stroke-width=".3" fill="none"/>
<path d="M122.3 72.2 L124.4 76.8 L128.6 81.3 L126.4 76.6Z" fill="#2f5d12" stroke="#2f5d12" stroke-width=".4"/>
<path d="M122.3 72.2L124.4 76.8M126.4 76.6L128.6 81.3M122.3 72.2L126.4 76.6" stroke="#000" stroke-width=".3" fill="none"/>
<path d="M205.3 153.0 L208.3 152.5 L213.5 157.9 L210.5 158.5Z" fill="#0b0b0b" stroke="#0b0b0b" stroke-width=".4"/>
<path d="M205.3 153.0L208.3 152.5M210.5 158.5L213.5 157.9" stroke="#000" stroke-width=".45" fill="none"/>
<path d="M130.7 85.9 L132.7 90.4 L137.0 95.1 L134.9 90.6Z" fill="#535e10" stroke="#535e10" stroke-width=".4"/>
<path d="M130.7 85.9L132.7 90.4M134.9 90.6L137.0 95.1" stroke="#000" stroke-width=".3" fill="none"/>
<path d="M184.8 148.4 L187.9 148.7 L192.9 154.1 L189.8 153.8Z" fill="#ed1313" stroke="#ed1313" stroke-width=".4"/>
<path d="M184.8 148.4L187.9 148.7M189.8 153.8L192.9 154.1M187.9 148.7L192.9 154.1" stroke="#000" stroke-width=".45" fill="none"/>
<path d="M139.1 99.4 L141.1 103.5 L145.5 108.4 L143.4 104.3Z" fill="#2e5e11" stroke="#2e5e11" stroke-width=".4"/>
<path d="M139.1 99.4L141.1 103.5M143.4 104.3L145.5 108.4M141.1 103.5L145.5 108.4" stroke="#000" stroke-width=".3" fill="none"/>
<path d="M170.1 139.2 L172.0 140.4 L176.7 145.7 L174.8 144.5Z" fill="#c6c411" stroke="#c6c411" stroke-width=".4"/>
<path d="M170.1 139.2L172.0 140.4M174.8 144.5L176.7 145.7" stroke="#000" stroke-width=".45" fill="none"/>
<path d="M202.2 153.5 L205.3 153.0 L210.5 158.5 L207.4 159.0Z" fill="#0b0b0b" stroke="#0b0b0b" stroke-width=".4"/>
<path d="M202.2 153.5L205.3 153.0M207.4 159.0L210.5 158.5M202.2 153.5L207.4 159.0" stroke="#000" stroke-width=".45" fill="none"/>
<path d="M157.8 126.5 L159.8 128.8 L164.4 134.0 L162.5 131.6Z" fill="#80100c" stroke="#80100c" stroke-width=".4"/>
<path d="M157.8 126.5L159.8 128.8M162.5 131.6L164.4 134.0M159.8 128.8L164.4 134.0" stroke="#000" stroke-width=".3" fill="none"/>
<path d="M147.5 112.2 L149.4 115.6 L153.9 120.6 L152.0 117.1Z" fill="#220f08" stroke="#220f08" stroke-width=".4"/>
<path d="M147.5 112.2L149.4 115.6M152.0 117.1L153.9 120.6" stroke="#000" stroke-width=".3" fill="none"/>
<path d="M181.7 147.7 L184.8 148.4 L189.8 153.8 L186.7 153.2Z" fill="#e71212" stroke="#e71212" stroke-width=".4"/>
<path d="M181.7 147.7L184.8 148.4M186.7 153.2L189.8 153.8" stroke="#000" stroke-width=".45" fill="none"/>
<path d="M168.2 137.8 L170.1 139.2 L174.8 144.5 L172.9 143.1Z" fill="#b7b610" stroke="#b7b610" stroke-width=".4"/>
<path d="M168.2 137.8L170.1 139.2M172.9 143.1L174.8 144.5" stroke="#000" stroke-width=".45" fill="none"/>
<path d="M199.1 153.9 L202.2 153.5 L207.4 159.0 L204.2 159.4Z" fill="#f8f313" stroke="#f8f313" stroke-width=".4"/>
<path d="M199.1 153.9L202.2 153.5M204.2 159.4L207.4 159.0M202.2 153.5L207.4 159.0" stroke="#000" stroke-width=".45" fill="none"/>
<path d="M216.6 157.2 L225.8 155.1 L231.2 160.6 L222.0 162.8Z" fill="#1def1d" stroke="#1def1d" stroke-width=".4"/>
<path d="M216.6 157.2L225.8 155.1M222.0 162.8L231.2 160.6M216.6 157.2L222.0 162.8M225.8 155.1L231.2 160.6" stroke="#000" stroke-width=".45" fill="none"/>
<path d="M120.1 67.6 L122.3 72.2 L126.4 76.6 L124.3 72.0Z" fill="#4e1209" stroke="#4e1209" stroke-width=".4"/>
<path d="M120.1 67.6L122.3 72.2M124.3 72.0L126.4 76.6M122.3 72.2L126.4 76.6" stroke="#000" stroke-width=".3" fill="none"/>
<path d="M128.6 81.3 L130.7 85.9 L134.9 90.6 L132.8 85.9Z" fill="#535e10" stroke="#535e10" stroke-width=".4"/>
<path d="M128.6 81.3L130.7 85.9M132.8 85.9L134.9 90.6" stroke="#000" stroke-width=".3" fill="none"/>
<path d="M155.9 123.7 L157.8 126.5 L162.5 131.6 L160.5 128.9Z" fill="#72100b" stroke="#72100b" stroke-width=".4"/>
<path d="M155.9 123.7L157.8 126.5M160.5 128.9L162.5 131.6" stroke="#000" stroke-width=".3" fill="none"/>
<path d="M137.0 95.1 L139.1 99.4 L143.4 104.3 L141.4 99.9Z" fill="#2f5d12" stroke="#2f5d12" stroke-width=".4"/>
<path d="M137.0 95.1L139.1 99.4M141.4 99.9L143.4 104.3" stroke="#000" stroke-width=".3" fill="none"/>
<path d="M196.0 154.1 L199.1 153.9 L204.2 159.4 L201.1 159.6Z" fill="#f7f213" stroke="#f7f213" stroke-width=".4"/>
<path d="M196.0 154.1L199.1 153.9M201.1 159.6L204.2 159.4" stroke="#000" stroke-width=".45" fill="none"/>
<path d="M166.3 136.1 L168.2 137.8 L172.9 143.1 L171.0 141.4Z" fill="#a6a610" stroke="#a6a610" stroke-width=".4"/>
<path d="M166.3 136.1L168.2 137.8M171.0 141.4L172.9 143.1" stroke="#000" stroke-width=".45" fill="none"/>
<path d="M178.6 146.6 L181.7 147.7 L186.7 153.2 L183.5 152.1Z" fill="#df1212" stroke="#df1212" stroke-width=".4"/>
<path d="M178.6 146.6L181.7 147.7M183.5 152.1L186.7 153.2M178.6 146.6L183.5 152.1" stroke="#000" stroke-width=".45" fill="none"/>
<path d="M145.5 108.4 L147.5 112.2 L152.0 117.1 L150.0 113.3Z" fill="#251008" stroke="#251008" stroke-width=".4"/>
<path d="M145.5 108.4L147.5 112.2M150.0 113.3L152.0 117.1M145.5 108.4L150.0 113.3" stroke="#000" stroke-width=".3" fill="none"/>
<path d="M213.5 157.9 L216.6 157.2 L222.0 162.8 L218.9 163.5Z" fill="#f41313" stroke="#f41313" stroke-width=".4"/>
<path d="M213.5 157.9L216.6 157.2M218.9 163.5L222.0 162.8M216.6 157.2L222.0 162.8" stroke="#000" stroke-width=".45" fill="none"/>
<path d="M192.9 154.1 L196.0 154.1 L201.1 159.6 L198.0 159.6Z" fill="#f5f013" stroke="#f5f013" stroke-width=".4"/>
<path d="M192.9 154.1L196.0 154.1M198.0 159.6L201.1 159.6M192.9 154.1L198.0 159.6" stroke="#000" stroke-width=".45" fill="none"/>
<path d="M118.0 63.1 L120.1 67.6 L124.3 72.0 L122.1 67.5Z" fill="#4e1209" stroke="#4e1209" stroke-width=".4"/>
<path d="M118.0 63.1L120.1 67.6M122.1 67.5L124.3 72.0" stroke="#000" stroke-width=".3" fill="none"/>
<path d="M231.2 160.6 L240.4 158.2 L246.0 163.7 L236.8 166.2Z" fill="#0b0b0b" stroke="#0b0b0b" stroke-width=".4"/>
<path d="M231.2 160.6L240.4 158.2M236.8 166.2L246.0 163.7M231.2 160.6L236.8 166.2M240.4 158.2L246.0 163.7" stroke="#000" stroke-width=".45" fill="none"/>
<path d="M176.7 145.7 L178.6 146.6 L183.5 152.1 L181.6 151.1Z" fill="#1bcd1a" stroke="#1bcd1a" stroke-width=".4"/>
<path d="M176.7 145.7L178.6 146.6M181.6 151.1L183.5 152.1M178.6 146.6L183.5 152.1" stroke="#000" stroke-width=".45" fill="none"/>
<path d="M153.9 120.6 L155.9 123.7 L160.5 128.9 L158.5 125.7Z" fill="#65110a" stroke="#65110a" stroke-width=".4"/>
<path d="M153.9 120.6L155.9 123.7M158.5 125.7L160.5 128.9" stroke="#000" stroke-width=".3" fill="none"/>
<path d="M164.4 134.0 L166.3 136.1 L171.0 141.4 L169.1 139.3Z" fill="#95970f" stroke="#95970f" stroke-width=".4"/>
<path d="M164.4 134.0L166.3 136.1M169.1 139.3L171.0 141.4M164.4 134.0L169.1 139.3" stroke="#000" stroke-width=".3" fill="none"/>
<path d="M126.4 76.6 L128.6 81.3 L132.8 85.9 L130.7 81.2Z" fill="#535e10" stroke="#535e10" stroke-width=".4"/>
<path d="M126.4 76.6L128.6 81.3M130.7 81.2L132.8 85.9M126.4 76.6L130.7 81.2" stroke="#000" stroke-width=".3" fill="none"/>
<path d="M210.5 158.5 L213.5 157.9 L218.9 163.5 L215.8 164.1Z" fill="#f41313" stroke="#f41313" stroke-width=".4"/>
<path d="M210.5 158.5L213.5 157.9M215.8 164.1L218.9 163.5" stroke="#000" stroke-width=".45" fill="none"/>
<path d="M134.9 90.6 L137.0 95.1 L141.4 99.9 L139.3 95.3Z" fill="#2f5d12" stroke="#2f5d12" stroke-width=".4"/>
<path d="M134.9 90.6L137.0 95.1M139.3 95.3L141.4 99.9" stroke="#000" stroke-width=".3" fill="none"/>
<path d="M189.8 153.8 L192.9 154.1 L198.0 159.6 L194.8 159.4Z" fill="#0b0b0b" stroke="#0b0b0b" stroke-width=".4"/>
<path d="M189.8 153.8L192.9 154.1M194.8 159.4L198.0 159.6M192.9 154.1L198.0 159.6" stroke="#000" stroke-width=".45" fill="none"/>
<path d="M143.4 104.3 L145.5 108.4 L150.0 113.3 L147.9 109.2Z" fill="#545f10" stroke="#545f10" stroke-width=".4"/>
<path d="M143.4 104.3L145.5 108.4M147.9 109.2L150.0 113.3M145.5 108.4L150.0 113.3" stroke="#000" stroke-width=".3" fill="none"/>
<path d="M174.8 144.5 L176.7 145.7 L181.6 151.1 L179.7 150.0Z" fill="#1cc018" stroke="#1cc018" stroke-width=".4"/>
<path d="M174.8 144.5L176.7 145.7M179.7 150.0L181.6 151.1" stroke="#000" stroke-width=".45" fill="none"/>
<path d="M207.4 159.0 L210.5 158.5 L215.8 164.1 L212.6 164.6Z" fill="#f41313" stroke="#f41313" stroke-width=".4"/>
<path d="M207.4 159.0L210.5 158.5M212.6 164.6L215.8 164.1M207.4 159.0L212.6 164.6" stroke="#000" stroke-width=".45" fill="none"/>
<path d="M162.5 131.6 L164.4 134.0 L169.1 139.3 L167.2 136.9Z" fill="#190d08" stroke="#190d08" stroke-width=".4"/>
<path d="M162.5 131.6L164.4 134.0M167.2 136.9L169.1 139.3M164.4 134.0L169.1 139.3" stroke="#000" stroke-width=".3" fill="none"/>
<path d="M152.0 117.1 L153.9 120.6 L158.5 125.7 L156.6 122.3Z" fill="#5c110a" stroke="#5c110a" stroke-width=".4"/>
<path d="M152.0 117.1L153.9 120.6M156.6 122.3L158.5 125.7" stroke="#000" stroke-width=".3" fill="none"/>
<path d="M115.8 58.8 L118.0 63.1 L122.1 67.5 L119.9 63.2Z" fill="#501209" stroke="#501209" stroke-width=".4"/>
<path d="M115.8 58.8L118.0 63.1M119.9 63.2L122.1 67.5" stroke="#000" stroke-width=".3" fill="none"/>
<path d="M186.7 153.2 L189.8 153.8 L194.8 159.4 L191.7 158.7Z" fill="#0b0b0b" stroke="#0b0b0b" stroke-width=".4"/>
<path d="M186.7 153.2L189.8 153.8M191.7 158.7L194.8 159.4" stroke="#000" stroke-width=".45" fill="none"/>
<path d="M172.9 143.1 L174.8 144.5 L179.7 150.0 L177.8 148.5Z" fill="#1db217" stroke="#1db217" stroke-width=".4"/>
<path d="M172.9 143.1L174.8 144.5M177.8 148.5L179.7 150.0" stroke="#000" stroke-width=".45" fill="none"/>
<path d="M204.2 159.4 L207.4 159.0 L212.6 164.6 L209.5 165.0Z" fill="#1dee1d" stroke="#1dee1d" stroke-width=".4"/>
<path d="M204.2 159.4L207.4 159.0M209.5 165.0L212.6 164.6M207.4 159.0L212.6 164.6" stroke="#000" stroke-width=".45" fill="none"/>
<path d="M222.0 162.8 L231.2 160.6 L236.8 166.2 L227.5 168.5Z" fill="#f9f413" stroke="#f9f413" stroke-width=".4"/>
<path d="M222.0 162.8L231.2 160.6M227.5 168.5L236.8 166.2M222.0 162.8L227.5 168.5M231.2 160.6L236.8 166.2" stroke="#000" stroke-width=".45" fill="none"/>
<path d="M124.3 72.0 L126.4 76.6 L130.7 81.2 L128.5 76.6Z" fill="#281108" stroke="#281108" stroke-width=".4"/>
<path d="M124.3 72.0L126.4 76.6M128.5 76.6L130.7 81.2M126.4 76.6L130.7 81.2" stroke="#000" stroke-width=".3" fill="none"/>
<path d="M132.8 85.9 L134.9 90.6 L139.3 95.3 L137.2 90.6Z" fill="#2f5d12" stroke="#2f5d12" stroke-width=".4"/>
<path d="M132.8 85.9L134.9 90.6M137.2 90.6L139.3 95.3" stroke="#000" stroke-width=".3" fill="none"/>
<path d="M160.5 128.9 L162.5 131.6 L167.2 136.9 L165.2 134.1Z" fill="#1c0d08" stroke="#1c0d08" stroke-width=".4"/>
<path d="M160.5 128.9L162.5 131.6M165.2 134.1L167.2 136.9" stroke="#000" stroke-width=".3" fill="none"/>
<path d="M141.4 99.9 L143.4 104.3 L147.9 109.2 L145.9 104.8Z" fill="#535e10" stroke="#535e10" stroke-width=".4"/>
<path d="M141.4 99.9L143.4 104.3M145.9 104.8L147.9 109.2" stroke="#000" stroke-width=".3" fill="none"/>
<path d="M201.1 159.6 L204.2 159.4 L209.5 165.0 L206.4 165.3Z" fill="#1ded1d" stroke="#1ded1d" stroke-width=".4"/>
<path d="M201.1 159.6L204.2 159.4M206.4 165.3L209.5 165.0" stroke="#000" stroke-width=".45" fill="none"/>
<path d="M171.0 141.4 L172.9 143.1 L177.8 148.5 L175.9 146.8Z" fill="#1fa316" stroke="#1fa316" stroke-width=".4"/>
<path d="M171.0 141.4L172.9 143.1M175.9 146.8L177.8 148.5" stroke="#000" stroke-width=".45" fill="none"/>
<path d="M183.5 152.1 L186.7 153.2 L191.7 158.7 L188.5 157.6Z" fill="#0a0a0a" stroke="#0a0a0a" stroke-width=".4"/>
<path d="M183.5 152.1L186.7 153.2M188.5 157.6L191.7 158.7M183.5 152.1L188.5 157.6" stroke="#000" stroke-width=".45" fill="none"/>
<path d="M150.0 113.3 L152.0 117.1 L156.6 122.3 L154.6 118.4Z" fill="#54110a" stroke="#54110a" stroke-width=".4"/>
<path d="M150.0 113.3L152.0 117.1M154.6 118.4L156.6 122.3M150.0 113.3L154.6 118.4" stroke="#000" stroke-width=".3" fill="none"/>
<path d="M113.6 54.8 L115.8 58.8 L119.9 63.2 L117.7 59.1Z" fill="#56110a" stroke="#56110a" stroke-width=".4"/>
<path d="M113.6 54.8L115.8 58.8M117.7 59.1L119.9 63.2" stroke="#000" stroke-width=".3" fill="none"/>
<path d="M218.9 163.5 L222.0 162.8 L227.5 168.5 L224.4 169.2Z" fill="#0b0b0b" stroke="#0b0b0b" stroke-width=".4"/>
<path d="M218.9 163.5L222.0 162.8M224.4 169.2L227.5 168.5M222.0 162.8L227.5 168.5" stroke="#000" stroke-width=".45" fill="none"/>
<path d="M198.0 159.6 L201.1 159.6 L206.4 165.3 L203.2 165.3Z" fill="#1deb1d" stroke="#1deb1d" stroke-width=".4"/>
<path d="M198.0 159.6L201.1 159.6M203.2 165.3L206.4 165.3M198.0 159.6L203.2 165.3" stroke="#000" stroke-width=".45" fill="none"/>
<path d="M122.1 67.5 L124.3 72.0 L128.5 76.6 L126.4 72.0Z" fill="#281108" stroke="#281108" stroke-width=".4"/>
<path d="M122.1 67.5L124.3 72.0M126.4 72.0L128.5 76.6" stroke="#000" stroke-width=".3" fill="none"/>
<path d="M236.8 166.2 L246.0 163.7 L251.8 169.4 L242.5 172.0Z" fill="#f41313" stroke="#f41313" stroke-width=".4"/>
<path d="M236.8 166.2L246.0 163.7M242.5 172.0L251.8 169.4M236.8 166.2L242.5 172.0M246.0 163.7L251.8 169.4" stroke="#000" stroke-width=".45" fill="none"/>
<path d="M181.6 151.1 L183.5 152.1 L188.5 157.6 L186.6 156.7Z" fill="#d5d111" stroke="#d5d111" stroke-width=".4"/>
<path d="M181.6 151.1L183.5 152.1M186.6 156.7L188.5 157.6M183.5 152.1L188.5 157.6" stroke="#000" stroke-width=".45" fill="none"/>
<path d="M158.5 125.7 L160.5 128.9 L165.2 134.1 L163.3 131.0Z" fill="#1f0e08" stroke="#1f0e08" stroke-width=".4"/>
<path d="M158.5 125.7L160.5 128.9M163.3 131.0L165.2 134.1" stroke="#000" stroke-width=".3" fill="none"/>
<path d="M169.1 139.3 L171.0 141.4 L175.9 146.8 L174.0 144.7Z" fill="#219415" stroke="#219415" stroke-width=".4"/>
<path d="M169.1 139.3L171.0 141.4M174.0 144.7L175.9 146.8M169.1 139.3L174.0 144.7" stroke="#000" stroke-width=".3" fill="none"/>
<path d="M130.7 81.2 L132.8 85.9 L137.2 90.6 L135.1 85.9Z" fill="#2f5d12" stroke="#2f5d12" stroke-width=".4"/>
<path d="M130.7 81.2L132.8 85.9M135.1 85.9L137.2 90.6M130.7 81.2L135.1 85.9" stroke="#000" stroke-width=".3" fill="none"/>
<path d="M215.8 164.1 L218.9 163.5 L224.4 169.2 L221.2 169.8Z" fill="#0b0b0b" stroke="#0b0b0b" stroke-width=".4"/>
<path d="M215.8 164.1L218.9 163.5M221.2 169.8L224.4 169.2" stroke="#000" stroke-width=".45" fill="none"/>
<path d="M139.3 95.3 L141.4 99.9 L145.9 104.8 L143.8 100.2Z" fill="#535e10" stroke="#535e10" stroke-width=".4"/>
<path d="M139.3 95.3L141.4 99.9M143.8 100.2L145.9 104.8" stroke="#000" stroke-width=".3" fill="none"/>
<path d="M194.8 159.4 L198.0 159.6 L203.2 165.3 L200.0 165.0Z" fill="#ed1313" stroke="#ed1313" stroke-width=".4"/>
<path d="M194.8 159.4L198.0 159.6M200.0 165.0L203.2 165.3M198.0 159.6L203.2 165.3" stroke="#000" stroke-width=".45" fill="none"/>
<path d="M147.9 109.2 L150.0 113.3 L154.6 118.4 L152.5 114.3Z" fill="#2e5e11" stroke="#2e5e11" stroke-width=".4"/>
<path d="M147.9 109.2L150.0 113.3M152.5 114.3L154.6 118.4M150.0 113.3L154.6 118.4" stroke="#000" stroke-width=".3" fill="none"/>
<path d="M179.7 150.0 L181.6 151.1 L186.6 156.7 L184.7 155.5Z" fill="#c6c411" stroke="#c6c411" stroke-width=".4"/>
<path d="M179.7 150.0L181.6 151.1M184.7 155.5L186.6 156.7" stroke="#000" stroke-width=".45" fill="none"/>
<path d="M111.4 51.1 L113.6 54.8 L117.7 59.1 L115.5 55.4Z" fill="#5f110a" stroke="#5f110a" stroke-width=".4"/>
<path d="M111.4 51.1L113.6 54.8M115.5 55.4L117.7 59.1M111.4 51.1L115.5 55.4" stroke="#000" stroke-width=".3" fill="none"/>
<path d="M212.6 164.6 L215.8 164.1 L221.2 169.8 L218.1 170.4Z" fill="#0b0b0b" stroke="#0b0b0b" stroke-width=".4"/>
<path d="M212.6 164.6L215.8 164.1M218.1 170.4L221.2 169.8M212.6 164.6L218.1 170.4" stroke="#000" stroke-width=".45" fill="none"/>
<path d="M167.2 136.9 L169.1 139.3 L174.0 144.7 L172.0 142.3Z" fill="#80100c" stroke="#80100c" stroke-width=".4"/>
<path d="M167.2 136.9L169.1 139.3M172.0 142.3L174.0 144.7M169.1 139.3L174.0 144.7" stroke="#000" stroke-width=".3" fill="none"/>
<path d="M156.6 122.3 L158.5 125.7 L163.3 131.0 L161.3 127.5Z" fill="#220f08" stroke="#220f08" stroke-width=".4"/>
<path d="M156.6 122.3L158.5 125.7M161.3 127.5L163.3 131.0" stroke="#000" stroke-width=".3" fill="none"/>
<path d="M119.9 63.2 L122.1 67.5 L126.4 72.0 L124.2 67.7Z" fill="#261008" stroke="#261008" stroke-width=".4"/>
<path d="M119.9 63.2L122.1 67.5M124.2 67.7L126.4 72.0" stroke="#000" stroke-width=".3" fill="none"/>
<path d="M191.7 158.7 L194.8 159.4 L200.0 165.0 L196.9 164.4Z" fill="#e71212" stroke="#e71212" stroke-width=".4"/>
<path d="M191.7 158.7L194.8 159.4M196.9 164.4L200.0 165.0" stroke="#000" stroke-width=".45" fill="none"/>
<path d="M177.8 148.5 L179.7 150.0 L184.7 155.5 L182.8 154.1Z" fill="#b7b610" stroke="#b7b610" stroke-width=".4"/>
<path d="M177.8 148.5L179.7 150.0M182.8 154.1L184.7 155.5" stroke="#000" stroke-width=".45" fill="none"/>
<path d="M209.5 165.0 L212.6 164.6 L218.1 170.4 L214.9 170.8Z" fill="#f8f313" stroke="#f8f313" stroke-width=".4"/>
<path d="M209.5 165.0L212.6 164.6M214.9 170.8L218.1 170.4M212.6 164.6L218.1 170.4" stroke="#000" stroke-width=".45" fill="none"/>
<path d="M227.5 168.5 L236.8 166.2 L242.5 172.0 L233.1 174.4Z" fill="#1def1d" stroke="#1def1d" stroke-width=".4"/>
<path d="M227.5 168.5L236.8 166.2M233.1 174.4L242.5 172.0M227.5 168.5L233.1 174.4M236.8 166.2L242.5 172.0" stroke="#000" stroke-width=".45" fill="none"/>
<path d="M128.5 76.6 L130.7 81.2 L135.1 85.9 L132.9 81.2Z" fill="#4e1209" stroke="#4e1209" stroke-width=".4"/>
<path d="M128.5 76.6L130.7 81.2M132.9 81.2L135.1 85.9M130.7 81.2L135.1 85.9" stroke="#000" stroke-width=".3" fill="none"/>
<path d="M137.2 90.6 L139.3 95.3 L143.8 100.2 L141.7 95.5Z" fill="#535e10" stroke="#535e10" stroke-width=".4"/>
<path d="M137.2 90.6L139.3 95.3M141.7 95.5L143.8 100.2" stroke="#000" stroke-width=".3" fill="none"/>
<path d="M109.2 47.7 L111.4 51.1 L115.5 55.4 L113.3 52.0Z" fill="#277312" stroke="#277312" stroke-width=".4"/>
<path d="M109.2 47.7L111.4 51.1M113.3 52.0L115.5 55.4M111.4 51.1L115.5 55.4" stroke="#000" stroke-width=".3" fill="none"/>
<path d="M165.2 134.1 L167.2 136.9 L172.0 142.3 L170.1 139.5Z" fill="#72100b" stroke="#72100b" stroke-width=".4"/>
<path d="M165.2 134.1L167.2 136.9M170.1 139.5L172.0 142.3" stroke="#000" stroke-width=".3" fill="none"/>
<path d="M145.9 104.8 L147.9 109.2 L152.5 114.3 L150.5 109.8Z" fill="#2f5d12" stroke="#2f5d12" stroke-width=".4"/>
<path d="M145.9 104.8L147.9 109.2M150.5 109.8L152.5 114.3" stroke="#000" stroke-width=".3" fill="none"/>
<path d="M206.4 165.3 L209.5 165.0 L214.9 170.8 L211.7 171.1Z" fill="#f7f213" stroke="#f7f213" stroke-width=".4"/>
<path d="M206.4 165.3L209.5 165.0M211.7 171.1L214.9 170.8" stroke="#000" stroke-width=".45" fill="none"/>
<path d="M175.9 146.8 L177.8 148.5 L182.8 154.1 L180.9 152.4Z" fill="#a6a610" stroke="#a6a610" stroke-width=".4"/>
<path d="M175.9 146.8L177.8 148.5M180.9 152.4L182.8 154.1" stroke="#000" stroke-width=".45" fill="none"/>
<path d="M188.5 157.6 L191.7 158.7 L196.9 164.4 L193.7 163.4Z" fill="#df1212" stroke="#df1212" stroke-width=".4"/>
<path d="M188.5 157.6L191.7 158.7M193.7 163.4L196.9 164.4M188.5 157.6L193.7 163.4" stroke="#000" stroke-width=".45" fill="none"/>
<path d="M154.6 118.4 L156.6 122.3 L161.3 127.5 L159.3 123.6Z" fill="#251008" stroke="#251008" stroke-width=".4"/>
<path d="M154.6 118.4L156.6 122.3M159.3 123.6L161.3 127.5M154.6 118.4L159.3 123.6" stroke="#000" stroke-width=".3" fill="none"/>
<path d="M117.7 59.1 L119.9 63.2 L124.2 67.7 L122.0 63.6Z" fill="#241008" stroke="#241008" stroke-width=".4"/>
<path d="M117.7 59.1L119.9 63.2M122.0 63.6L124.2 67.7" stroke="#000" stroke-width=".3" fill="none"/>
<path d="M224.4 169.2 L227.5 168.5 L233.1 174.4 L230.0 175.1Z" fill="#f41313" stroke="#f41313" stroke-width=".4"/>
<path d="M224.4 169.2L227.5 168.5M230.0 175.1L233.1 174.4M227.5 168.5L233.1 174.4" stroke="#000" stroke-width=".45" fill="none"/>
<path d="M203.2 165.3 L206.4 165.3 L211.7 171.1 L208.6 171.1Z" fill="#f5f013" stroke="#f5f013" stroke-width=".4"/>
<path d="M203.2 165.3L206.4 165.3M208.6 171.1L211.7 171.1M203.2 165.3L208.6 171.1" stroke="#000" stroke-width=".45" fill="none"/>
<path d="M107.0 44.6 L109.2 47.7 L113.3 52.0 L111.1 48.9Z" fill="#247e13" stroke="#247e13" stroke-width=".4"/>
<path d="M107.0 44.6L109.2 47.7M111.1 48.9L113.3 52.0" stroke="#000" stroke-width=".3" fill="none"/>
<path d="M126.4 72.0 L128.5 76.6 L132.9 81.2 L130.7 76.7Z" fill="#4e1209" stroke="#4e1209" stroke-width=".4"/>
<path d="M126.4 72.0L128.5 76.6M130.7 76.7L132.9 81.2" stroke="#000" stroke-width=".3" fill="none"/>
<path d="M242.5 172.0 L251.8 169.4 L257.8 175.3 L248.4 177.9Z" fill="#0b0b0b" stroke="#0b0b0b" stroke-width=".4"/>
<path d="M242.5 172.0L251.8 169.4M248.4 177.9L257.8 175.3M242.5 172.0L248.4 177.9M251.8 169.4L257.8 175.3" stroke="#000" stroke-width=".45" fill="none"/>
<path d="M186.6 156.7 L188.5 157.6 L193.7 163.4 L191.8 162.4Z" fill="#1bcd1a" stroke="#1bcd1a" stroke-width=".4"/>
<path d="M186.6 156.7L188.5 157.6M191.8 162.4L193.7 163.4M188.5 157.6L193.7 163.4" stroke="#000" stroke-width=".45" fill="none"/>
<path d="M163.3 131.0 L165.2 134.1 L170.1 139.5 L168.1 136.4Z" fill="#65110a" stroke="#65110a" stroke-width=".4"/>
<path d="M163.3 131.0L165.2 134.1M168.1 136.4L170.1 139.5" stroke="#000" stroke-width=".3" fill="none"/>
<path d="M174.0 144.7 L175.9 146.8 L180.9 152.4 L179.0 150.3Z" fill="#95970f" stroke="#95970f" stroke-width=".4"/>
<path d="M174.0 144.7L175.9 146.8M179.0 150.3L180.9 152.4M174.0 144.7L179.0 150.3" stroke="#000" stroke-width=".3" fill="none"/>
<path d="M135.1 85.9 L137.2 90.6 L141.7 95.5 L139.6 90.7Z" fill="#535e10" stroke="#535e10" stroke-width=".4"/>
<path d="M135.1 85.9L137.2 90.6M139.6 90.7L141.7 95.5M135.1 85.9L139.6 90.7" stroke="#000" stroke-width=".3" fill="none"/>
<path d="M221.2 169.8 L224.4 169.2 L230.0 175.1 L226.8 175.7Z" fill="#f41313" stroke="#f41313" stroke-width=".4"/>
<path d="M221.2 169.8L224.4 169.2M226.8 175.7L230.0 175.1" stroke="#000" stroke-width=".45" fill="none"/>
<path d="M143.8 100.2 L145.9 104.8 L150.5 109.8 L148.4 105.2Z" fill="#2f5d12" stroke="#2f5d12" stroke-width=".4"/>
<path d="M143.8 100.2L145.9 104.8M148.4 105.2L150.5 109.8" stroke="#000" stroke-width=".3" fill="none"/>
<path d="M200.0 165.0 L203.2 165.3 L208.6 171.1 L205.4 170.9Z" fill="#0b0b0b" stroke="#0b0b0b" stroke-width=".4"/>
<path d="M200.0 165.0L203.2 165.3M205.4 170.9L208.6 171.1M203.2 165.3L208.6 171.1" stroke="#000" stroke-width=".45" fill="none"/>
<path d="M152.5 114.3 L154.6 118.4 L159.3 123.6 L157.3 119.5Z" fill="#545f10" stroke="#545f10" stroke-width=".4"/>
<path d="M152.5 114.3L154.6 118.4M157.3 119.5L159.3 123.6M154.6 118.4L159.3 123.6" stroke="#000" stroke-width=".3" fill="none"/>
<path d="M184.7 155.5 L186.6 156.7 L191.8 162.4 L189.9 161.3Z" fill="#1cc018" stroke="#1cc018" stroke-width=".4"/>
<path d="M184.7 155.5L186.6 156.7M189.9 161.3L191.8 162.4" stroke="#000" stroke-width=".45" fill="none"/>
<path d="M115.5 55.4 L117.7 59.1 L122.0 63.6 L119.8 59.8Z" fill="#210f08" stroke="#210f08" stroke-width=".4"/>
<path d="M115.5 55.4L117.7 59.1M119.8 59.8L122.0 63.6M115.5 55.4L119.8 59.8" stroke="#000" stroke-width=".3" fill="none"/>
<path d="M218.1 170.4 L221.2 169.8 L226.8 175.7 L223.6 176.3Z" fill="#f41313" stroke="#f41313" stroke-width=".4"/>
<path d="M218.1 170.4L221.2 169.8M223.6 176.3L226.8 175.7M218.1 170.4L223.6 176.3" stroke="#000" stroke-width=".45" fill="none"/>
<path d="M104.8 41.9 L107.0 44.6 L111.1 48.9 L108.9 46.2Z" fill="#228b14" stroke="#228b14" stroke-width=".4"/>
<path d="M104.8 41.9L107.0 44.6M108.9 46.2L111.1 48.9" stroke="#000" stroke-width=".3" fill="none"/>
<path d="M172.0 142.3 L174.0 144.7 L179.0 150.3 L177.0 147.9Z" fill="#190d08" stroke="#190d08" stroke-width=".4"/>
<path d="M172.0 142.3L174.0 144.7M177.0 147.9L179.0 150.3M174.0 144.7L179.0 150.3" stroke="#000" stroke-width=".3" fill="none"/>
<path d="M161.3 127.5 L163.3 131.0 L168.1 136.4 L166.1 132.9Z" fill="#5c110a" stroke="#5c110a" stroke-width=".4"/>
<path d="M161.3 127.5L163.3 131.0M166.1 132.9L168.1 136.4" stroke="#000" stroke-width=".3" fill="none"/>
<path d="M124.2 67.7 L126.4 72.0 L130.7 76.7 L128.6 72.3Z" fill="#501209" stroke="#501209" stroke-width=".4"/>
<path d="M124.2 67.7L126.4 72.0M128.6 72.3L130.7 76.7" stroke="#000" stroke-width=".3" fill="none"/>
<path d="M196.9 164.4 L200.0 165.0 L205.4 170.9 L202.2 170.3Z" fill="#0b0b0b" stroke="#0b0b0b" stroke-width=".4"/>
<path d="M196.9 164.4L200.0 165.0M202.2 170.3L205.4 170.9" stroke="#000" stroke-width=".45" fill="none"/>
<path d="M182.8 154.1 L184.7 155.5 L189.9 161.3 L187.9 159.8Z" fill="#1db217" stroke="#1db217" stroke-width=".4"/>
<path d="M182.8 154.1L184.7 155.5M187.9 159.8L189.9 161.3" stroke="#000" stroke-width=".45" fill="none"/>
<path d="M214.9 170.8 L218.1 170.4 L223.6 176.3 L220.4 176.7Z" fill="#1dee1d" stroke="#1dee1d" stroke-width=".4"/>
<path d="M214.9 170.8L218.1 170.4M220.4 176.7L223.6 176.3M218.1 170.4L223.6 176.3" stroke="#000" stroke-width=".45" fill="none"/>
<path d="M233.1 174.4 L242.5 172.0 L248.4 177.9 L238.9 180.4Z" fill="#f9f413" stroke="#f9f413" stroke-width=".4"/>
<path d="M233.1 174.4L242.5 172.0M238.9 180.4L248.4 177.9M233.1 174.4L238.9 180.4M242.5 172.0L248.4 177.9" stroke="#000" stroke-width=".45" fill="none"/>
<path d="M132.9 81.2 L135.1 85.9 L139.6 90.7 L137.4 86.0Z" fill="#281108" stroke="#281108" stroke-width=".4"/>
<path d="M132.9 81.2L135.1 85.9M137.4 86.0L139.6 90.7M135.1 85.9L139.6 90.7" stroke="#000" stroke-width=".3" fill="none"/>
<path d="M141.7 95.5 L143.8 100.2 L148.4 105.2 L146.3 100.5Z" fill="#2f5d12" stroke="#2f5d12" stroke-width=".4"/>
<path d="M141.7 95.5L143.8 100.2M146.3 100.5L148.4 105.2" stroke="#000" stroke-width=".3" fill="none"/>
<path d="M102.6 39.6 L104.8 41.9 L108.9 46.2 L106.7 43.8Z" fill="#209915" stroke="#209915" stroke-width=".4"/>
<path d="M102.6 39.6L104.8 41.9M106.7 43.8L108.9 46.2" stroke="#000" stroke-width=".45" fill="none"/>
<path d="M113.3 52.0 L115.5 55.4 L119.8 59.8 L117.6 56.4Z" fill="#6e750f" stroke="#6e750f" stroke-width=".4"/>
<path d="M113.3 52.0L115.5 55.4M117.6 56.4L119.8 59.8M115.5 55.4L119.8 59.8" stroke="#000" stroke-width=".3" fill="none"/>
<path d="M170.1 139.5 L172.0 142.3 L177.0 147.9 L175.1 145.1Z" fill="#1c0d08" stroke="#1c0d08" stroke-width=".4"/>
<path d="M170.1 139.5L172.0 142.3M175.1 145.1L177.0 147.9" stroke="#000" stroke-width=".3" fill="none"/>
<path d="M150.5 109.8 L152.5 114.3 L157.3 119.5 L155.2 115.0Z" fill="#535e10" stroke="#535e10" stroke-width=".4"/>
<path d="M150.5 109.8L152.5 114.3M155.2 115.0L157.3 119.5" stroke="#000" stroke-width=".3" fill="none"/>
<path d="M211.7 171.1 L214.9 170.8 L220.4 176.7 L217.3 177.0Z" fill="#1ded1d" stroke="#1ded1d" stroke-width=".4"/>
<path d="M211.7 171.1L214.9 170.8M217.3 177.0L220.4 176.7" stroke="#000" stroke-width=".45" fill="none"/>
<path d="M180.9 152.4 L182.8 154.1 L187.9 159.8 L186.0 158.1Z" fill="#1fa316" stroke="#1fa316" stroke-width=".4"/>
<path d="M180.9 152.4L182.8 154.1M186.0 158.1L187.9 159.8" stroke="#000" stroke-width=".45" fill="none"/>
<path d="M193.7 163.4 L196.9 164.4 L202.2 170.3 L199.0 169.2Z" fill="#0a0a0a" stroke="#0a0a0a" stroke-width=".4"/>
<path d="M193.7 163.4L196.9 164.4M199.0 169.2L202.2 170.3M193.7 163.4L199.0 169.2" stroke="#000" stroke-width=".45" fill="none"/>
<path d="M159.3 123.6 L161.3 127.5 L166.1 132.9 L164.1 129.0Z" fill="#54110a" stroke="#54110a" stroke-width=".4"/>
<path d="M159.3 123.6L161.3 127.5M164.1 129.0L166.1 132.9M159.3 123.6L164.1 129.0" stroke="#000" stroke-width=".3" fill="none"/>
<path d="M122.0 63.6 L124.2 67.7 L128.6 72.3 L126.4 68.2Z" fill="#56110a" stroke="#56110a" stroke-width=".4"/>
<path d="M122.0 63.6L124.2 67.7M126.4 68.2L128.6 72.3" stroke="#000" stroke-width=".3" fill="none"/>
<path d="M100.4 37.5 L102.6 39.6 L106.7 43.8 L104.5 41.8Z" fill="#1ea816" stroke="#1ea816" stroke-width=".4"/>
<path d="M100.4 37.5L102.6 39.6M104.5 41.8L106.7 43.8M100.4 37.5L104.5 41.8" stroke="#000" stroke-width=".45" fill="none"/>
<path d="M230.0 175.1 L233.1 174.4 L238.9 180.4 L235.8 181.1Z" fill="#0b0b0b" stroke="#0b0b0b" stroke-width=".4"/>
<path d="M230.0 175.1L233.1 174.4M235.8 181.1L238.9 180.4M233.1 174.4L238.9 180.4" stroke="#000" stroke-width=".45" fill="none"/>
<path d="M208.6 171.1 L211.7 171.1 L217.3 177.0 L214.0 177.1Z" fill="#1deb1d" stroke="#1deb1d" stroke-width=".4"/>
<path d="M208.6 171.1L211.7 171.1M214.0 177.1L217.3 177.0M208.6 171.1L214.0 177.1" stroke="#000" stroke-width=".45" fill="none"/>
<path d="M111.1 48.9 L113.3 52.0 L117.6 56.4 L115.3 53.3Z" fill="#7b800f" stroke="#7b800f" stroke-width=".4"/>
<path d="M111.1 48.9L113.3 52.0M115.3 53.3L117.6 56.4" stroke="#000" stroke-width=".3" fill="none"/>
<path d="M130.7 76.7 L132.9 81.2 L137.4 86.0 L135.2 81.4Z" fill="#281108" stroke="#281108" stroke-width=".4"/>
<path d="M130.7 76.7L132.9 81.2M135.2 81.4L137.4 86.0" stroke="#000" stroke-width=".3" fill="none"/>
<path d="M248.4 177.9 L257.8 175.3 L263.9 181.3 L254.4 184.0Z" fill="#f41313" stroke="#f41313" stroke-width=".4"/>
<path d="M248.4 177.9L257.8 175.3M254.4 184.0L263.9 181.3M248.4 177.9L254.4 184.0M257.8 175.3L263.9 181.3" stroke="#000" stroke-width=".45" fill="none"/>
<path d="M191.8 162.4 L193.7 163.4 L199.0 169.2 L197.1 168.3Z" fill="#d5d111" stroke="#d5d111" stroke-width=".4"/>
<path d="M191.8 162.4L193.7 163.4M197.1 168.3L199.0 169.2M193.7 163.4L199.0 169.2" stroke="#000" stroke-width=".45" fill="none"/>
<path d="M168.1 136.4 L170.1 139.5 L175.1 145.1 L173.1 141.9Z" fill="#1f0e08" stroke="#1f0e08" stroke-width=".4"/>
<path d="M168.1 136.4L170.1 139.5M173.1 141.9L175.1 145.1" stroke="#000" stroke-width=".3" fill="none"/>
<path d="M179.0 150.3 L180.9 152.4 L186.0 158.1 L184.1 156.0Z" fill="#219415" stroke="#219415" stroke-width=".4"/>
<path d="M179.0 150.3L180.9 152.4M184.1 156.0L186.0 158.1M179.0 150.3L184.1 156.0" stroke="#000" stroke-width=".3" fill="none"/>
<path d="M139.6 90.7 L141.7 95.5 L146.3 100.5 L144.2 95.7Z" fill="#2f5d12" stroke="#2f5d12" stroke-width=".4"/>
<path d="M139.6 90.7L141.7 95.5M144.2 95.7L146.3 100.5M139.6 90.7L144.2 95.7" stroke="#000" stroke-width=".3" fill="none"/>
<path d="M226.8 175.7 L230.0 175.1 L235.8 181.1 L232.6 181.8Z" fill="#0b0b0b" stroke="#0b0b0b" stroke-width=".4"/>
<path d="M226.8 175.7L230.0 175.1M232.6 181.8L235.8 181.1" stroke="#000" stroke-width=".45" fill="none"/>
<path d="M98.2 35.8 L100.4 37.5 L104.5 41.8 L102.2 40.0Z" fill="#b7110f" stroke="#b7110f" stroke-width=".4"/>
<path d="M98.2 35.8L100.4 37.5M102.2 40.0L104.5 41.8M100.4 37.5L104.5 41.8" stroke="#000" stroke-width=".45" fill="none"/>
<path d="M148.4 105.2 L150.5 109.8 L155.2 115.0 L153.1 110.4Z" fill="#535e10" stroke="#535e10" stroke-width=".4"/>
<path d="M148.4 105.2L150.5 109.8M153.1 110.4L155.2 115.0" stroke="#000" stroke-width=".3" fill="none"/>
<path d="M205.4 170.9 L208.6 171.1 L214.0 177.1 L210.8 176.9Z" fill="#ed1313" stroke="#ed1313" stroke-width=".4"/>
<path d="M205.4 170.9L208.6 171.1M210.8 176.9L214.0 177.1M208.6 171.1L214.0 177.1" stroke="#000" stroke-width=".45" fill="none"/>
<path d="M157.3 119.5 L159.3 123.6 L164.1 129.0 L162.1 124.8Z" fill="#2e5e11" stroke="#2e5e11" stroke-width=".4"/>
<path d="M157.3 119.5L159.3 123.6M162.1 124.8L164.1 129.0M159.3 123.6L164.1 129.0" stroke="#000" stroke-width=".3" fill="none"/>
<path d="M189.9 161.3 L191.8 162.4 L197.1 168.3 L195.1 167.1Z" fill="#c6c411" stroke="#c6c411" stroke-width=".4"/>
<path d="M189.9 161.3L191.8 162.4M195.1 167.1L197.1 168.3" stroke="#000" stroke-width=".45" fill="none"/>
<path d="M119.8 59.8 L122.0 63.6 L126.4 68.2 L124.1 64.4Z" fill="#5f110a" stroke="#5f110a" stroke-width=".4"/>
<path d="M119.8 59.8L122.0 63.6M124.1 64.4L126.4 68.2M119.8 59.8L124.1 64.4" stroke="#000" stroke-width=".3" fill="none"/>
<path d="M223.6 176.3 L226.8 175.7 L232.6 181.8 L229.4 182.4Z" fill="#0b0b0b" stroke="#0b0b0b" stroke-width=".4"/>
<path d="M223.6 176.3L226.8 175.7M229.4 182.4L232.6 181.8M223.6 176.3L229.4 182.4" stroke="#000" stroke-width=".45" fill="none"/>
<path d="M108.9 46.2 L111.1 48.9 L115.3 53.3 L113.1 50.6Z" fill="#8a8d0f" stroke="#8a8d0f" stroke-width=".4"/>
<path d="M108.9 46.2L111.1 48.9M113.1 50.6L115.3 53.3" stroke="#000" stroke-width=".3" fill="none"/>
<path d="M177.0 147.9 L179.0 150.3 L184.1 156.0 L182.1 153.6Z" fill="#80100c" stroke="#80100c" stroke-width=".4"/>
<path d="M177.0 147.9L179.0 150.3M182.1 153.6L184.1 156.0M179.0 150.3L184.1 156.0" stroke="#000" stroke-width=".3" fill="none"/>
<path d="M96.0 34.4 L98.2 35.8 L102.2 40.0 L100.0 38.6Z" fill="#c71110" stroke="#c71110" stroke-width=".4"/>
<path d="M96.0 34.4L98.2 35.8M100.0 38.6L102.2 40.0" stroke="#000" stroke-width=".45" fill="none"/>
<path d="M166.1 132.9 L168.1 136.4 L173.1 141.9 L171.1 138.4Z" fill="#220f08" stroke="#220f08" stroke-width=".4"/>
<path d="M166.1 132.9L168.1 136.4M171.1 138.4L173.1 141.9" stroke="#000" stroke-width=".3" fill="none"/>
<path d="M128.6 72.3 L130.7 76.7 L135.2 81.4 L133.0 77.0Z" fill="#261008" stroke="#261008" stroke-width=".4"/>
<path d="M128.6 72.3L130.7 76.7M133.0 77.0L135.2 81.4" stroke="#000" stroke-width=".3" fill="none"/>
<path d="M202.2 170.3 L205.4 170.9 L210.8 176.9 L207.6 176.3Z" fill="#e71212" stroke="#e71212" stroke-width=".4"/>
<path d="M202.2 170.3L205.4 170.9M207.6 176.3L210.8 176.9" stroke="#000" stroke-width=".45" fill="none"/>
<path d="M187.9 159.8 L189.9 161.3 L195.1 167.1 L193.2 165.7Z" fill="#b7b610" stroke="#b7b610" stroke-width=".4"/>
<path d="M187.9 159.8L189.9 161.3M193.2 165.7L195.1 167.1" stroke="#000" stroke-width=".45" fill="none"/>
<path d="M220.4 176.7 L223.6 176.3 L229.4 182.4 L226.1 182.8Z" fill="#f8f313" stroke="#f8f313" stroke-width=".4"/>
<path d="M220.4 176.7L223.6 176.3M226.1 182.8L229.4 182.4M223.6 176.3L229.4 182.4" stroke="#000" stroke-width=".45" fill="none"/>
<path d="M238.9 180.4 L248.4 177.9 L254.4 184.0 L244.9 186.5Z" fill="#1def1d" stroke="#1def1d" stroke-width=".4"/>
<path d="M238.9 180.4L248.4 177.9M244.9 186.5L254.4 184.0M238.9 180.4L244.9 186.5M248.4 177.9L254.4 184.0" stroke="#000" stroke-width=".45" fill="none"/>
<path d="M137.4 86.0 L139.6 90.7 L144.2 95.7 L142.0 90.9Z" fill="#4e1209" stroke="#4e1209" stroke-width=".4"/>
<path d="M137.4 86.0L139.6 90.7M142.0 90.9L144.2 95.7M139.6 90.7L144.2 95.7" stroke="#000" stroke-width=".3" fill="none"/>
<path d="M93.8 33.1 L96.0 34.4 L100.0 38.6 L97.8 37.4Z" fill="#d51111" stroke="#d51111" stroke-width=".4"/>
<path d="M93.8 33.1L96.0 34.4M97.8 37.4L100.0 38.6" stroke="#000" stroke-width=".45" fill="none"/>
<path d="M146.3 100.5 L148.4 105.2 L153.1 110.4 L151.0 105.6Z" fill="#535e10" stroke="#535e10" stroke-width=".4"/>
<path d="M146.3 100.5L148.4 105.2M151.0 105.6L153.1 110.4" stroke="#000" stroke-width=".3" fill="none"/>
<path d="M106.7 43.8 L108.9 46.2 L113.1 50.6 L110.9 48.2Z" fill="#9a9c0f" stroke="#9a9c0f" stroke-width=".4"/>
<path d="M106.7 43.8L108.9 46.2M110.9 48.2L113.1 50.6" stroke="#000" stroke-width=".45" fill="none"/>
<path d="M117.6 56.4 L119.8 59.8 L124.1 64.4 L121.9 60.9Z" fill="#277312" stroke="#277312" stroke-width=".4"/>
<path d="M117.6 56.4L119.8 59.8M121.9 60.9L124.1 64.4M119.8 59.8L124.1 64.4" stroke="#000" stroke-width=".3" fill="none"/>
<path d="M175.1 145.1 L177.0 147.9 L182.1 153.6 L180.2 150.8Z" fill="#72100b" stroke="#72100b" stroke-width=".4"/>
<path d="M175.1 145.1L177.0 147.9M180.2 150.8L182.1 153.6" stroke="#000" stroke-width=".3" fill="none"/>
<path d="M155.2 115.0 L157.3 119.5 L162.1 124.8 L160.1 120.3Z" fill="#2f5d12" stroke="#2f5d12" stroke-width=".4"/>
<path d="M155.2 115.0L157.3 119.5M160.1 120.3L162.1 124.8" stroke="#000" stroke-width=".3" fill="none"/>
<path d="M217.3 177.0 L220.4 176.7 L226.1 182.8 L222.9 183.1Z" fill="#f7f213" stroke="#f7f213" stroke-width=".4"/>
<path d="M217.3 177.0L220.4 176.7M222.9 183.1L226.1 182.8" stroke="#000" stroke-width=".45" fill="none"/>
<path d="M186.0 158.1 L187.9 159.8 L193.2 165.7 L191.3 164.0Z" fill="#a6a610" stroke="#a6a610" stroke-width=".4"/>
<path d="M186.0 158.1L187.9 159.8M191.3 164.0L193.2 165.7" stroke="#000" stroke-width=".45" fill="none"/>
<path d="M199.0 169.2 L202.2 170.3 L207.6 176.3 L204.4 175.2Z" fill="#df1212" stroke="#df1212" stroke-width=".4"/>
<path d="M199.0 169.2L202.2 170.3M204.4 175.2L207.6 176.3M199.0 169.2L204.4 175.2" stroke="#000" stroke-width=".45" fill="none"/>
<path d="M91.6 32.2 L93.8 33.1 L97.8 37.4 L95.6 36.4Z" fill="#df1212" stroke="#df1212" stroke-width=".4"/>
<path d="M91.6 32.2L93.8 33.1M95.6 36.4L97.8 37.4" stroke="#000" stroke-width=".45" fill="none"/>
<path d="M164.1 129.0 L166.1 132.9 L171.1 138.4 L169.1 134.5Z" fill="#251008" stroke="#251008" stroke-width=".4"/>
<path d="M164.1 129.0L166.1 132.9M169.1 134.5L171.1 138.4M164.1 129.0L169.1 134.5" stroke="#000" stroke-width=".3" fill="none"/>
<path d="M126.4 68.2 L128.6 72.3 L133.0 77.0 L130.8 72.9Z" fill="#241008" stroke="#241008" stroke-width=".4"/>
<path d="M126.4 68.2L128.6 72.3M130.8 72.9L133.0 77.0" stroke="#000" stroke-width=".3" fill="none"/>
<path d="M104.5 41.8 L106.7 43.8 L110.9 48.2 L108.6 46.1Z" fill="#abab10" stroke="#abab10" stroke-width=".4"/>
<path d="M104.5 41.8L106.7 43.8M108.6 46.1L110.9 48.2M104.5 41.8L108.6 46.1" stroke="#000" stroke-width=".45" fill="none"/>
<path d="M235.8 181.1 L238.9 180.4 L244.9 186.5 L241.7 187.3Z" fill="#f41313" stroke="#f41313" stroke-width=".4"/>
<path d="M235.8 181.1L238.9 180.4M241.7 187.3L244.9 186.5M238.9 180.4L244.9 186.5" stroke="#000" stroke-width=".45" fill="none"/>
<path d="M214.0 177.1 L217.3 177.0 L222.9 183.1 L219.7 183.2Z" fill="#f5f013" stroke="#f5f013" stroke-width=".4"/>
<path d="M214.0 177.1L217.3 177.0M219.7 183.2L222.9 183.1M214.0 177.1L219.7 183.2" stroke="#000" stroke-width=".45" fill="none"/>
<path d="M89.4 31.4 L91.6 32.2 L95.6 36.4 L93.4 35.6Z" fill="#e41212" stroke="#e41212" stroke-width=".4"/>
<path d="M89.4 31.4L91.6 32.2M93.4 35.6L95.6 36.4M89.4 31.4L93.4 35.6" stroke="#000" stroke-width=".45" fill="none"/>
<path d="M115.3 53.3 L117.6 56.4 L121.9 60.9 L119.7 57.8Z" fill="#247e13" stroke="#247e13" stroke-width=".4"/>
<path d="M115.3 53.3L117.6 56.4M119.7 57.8L121.9 60.9" stroke="#000" stroke-width=".3" fill="none"/>
<path d="M135.2 81.4 L137.4 86.0 L142.0 90.9 L139.8 86.3Z" fill="#4e1209" stroke="#4e1209" stroke-width=".4"/>
<path d="M135.2 81.4L137.4 86.0M139.8 86.3L142.0 90.9" stroke="#000" stroke-width=".3" fill="none"/>
<path d="M254.4 184.0 L263.9 181.3 L270.2 187.5 L260.6 190.2Z" fill="#0b0b0b" stroke="#0b0b0b" stroke-width=".4"/>
<path d="M254.4 184.0L263.9 181.3M260.6 190.2L270.2 187.5M254.4 184.0L260.6 190.2M263.9 181.3L270.2 187.5" stroke="#000" stroke-width=".45" fill="none"/>
<path d="M197.1 168.3 L199.0 169.2 L204.4 175.2 L202.5 174.3Z" fill="#1bcd1a" stroke="#1bcd1a" stroke-width=".4"/>
<path d="M197.1 168.3L199.0 169.2M202.5 174.3L204.4 175.2M199.0 169.2L204.4 175.2" stroke="#000" stroke-width=".45" fill="none"/>
<path d="M173.1 141.9 L175.1 145.1 L180.2 150.8 L178.2 147.6Z" fill="#65110a" stroke="#65110a" stroke-width=".4"/>
<path d="M173.1 141.9L175.1 145.1M178.2 147.6L180.2 150.8" stroke="#000" stroke-width=".3" fill="none"/>
<path d="M184.1 156.0 L186.0 158.1 L191.3 164.0 L189.3 161.9Z" fill="#95970f" stroke="#95970f" stroke-width=".4"/>
<path d="M184.1 156.0L186.0 158.1M189.3 161.9L191.3 164.0M184.1 156.0L189.3 161.9" stroke="#000" stroke-width=".3" fill="none"/>
<path d="M144.2 95.7 L146.3 100.5 L151.0 105.6 L148.9 100.8Z" fill="#535e10" stroke="#535e10" stroke-width=".4"/>
<path d="M144.2 95.7L146.3 100.5M148.9 100.8L151.0 105.6M144.2 95.7L148.9 100.8" stroke="#000" stroke-width=".3" fill="none"/>
<path d="M232.6 181.8 L235.8 181.1 L241.7 187.3 L238.4 188.0Z" fill="#f41313" stroke="#f41313" stroke-width=".4"/>
<path d="M232.6 181.8L235.8 181.1M238.4 188.0L241.7 187.3" stroke="#000" stroke-width=".45" fill="none"/>
<path d="M102.2 40.0 L104.5 41.8 L108.6 46.1 L106.4 44.4Z" fill="#0f0b09" stroke="#0f0b09" stroke-width=".4"/>
<path d="M102.2 40.0L104.5 41.8M106.4 44.4L108.6 46.1M104.5 41.8L108.6 46.1" stroke="#000" stroke-width=".45" fill="none"/>
<path d="M153.1 110.4 L155.2 115.0 L160.1 120.3 L158.0 115.6Z" fill="#2f5d12" stroke="#2f5d12" stroke-width=".4"/>
<path d="M153.1 110.4L155.2 115.0M158.0 115.6L160.1 120.3" stroke="#000" stroke-width=".3" fill="none"/>
<path d="M210.8 176.9 L214.0 177.1 L219.7 183.2 L216.5 183.0Z" fill="#0b0b0b" stroke="#0b0b0b" stroke-width=".4"/>
<path d="M210.8 176.9L214.0 177.1M216.5 183.0L219.7 183.2M214.0 177.1L219.7 183.2" stroke="#000" stroke-width=".45" fill="none"/>
<path d="M85.8 30.4 L89.4 31.4 L93.4 35.6 L89.7 34.6Z" fill="#1ce51c" stroke="#1ce51c" stroke-width=".4"/>
<path d="M85.8 30.4L89.4 31.4M89.7 34.6L93.4 35.6M89.4 31.4L93.4 35.6" stroke="#000" stroke-width=".45" fill="none"/>
<path d="M162.1 124.8 L164.1 129.0 L169.1 134.5 L167.1 130.3Z" fill="#545f10" stroke="#545f10" stroke-width=".4"/>
<path d="M162.1 124.8L164.1 129.0M167.1 130.3L169.1 134.5M164.1 129.0L169.1 134.5" stroke="#000" stroke-width=".3" fill="none"/>
<path d="M195.1 167.1 L197.1 168.3 L202.5 174.3 L200.5 173.2Z" fill="#1cc018" stroke="#1cc018" stroke-width=".4"/>
<path d="M195.1 167.1L197.1 168.3M200.5 173.2L202.5 174.3" stroke="#000" stroke-width=".45" fill="none"/>
<path d="M124.1 64.4 L126.4 68.2 L130.8 72.9 L128.6 69.0Z" fill="#210f08" stroke="#210f08" stroke-width=".4"/>
<path d="M124.1 64.4L126.4 68.2M128.6 69.0L130.8 72.9M124.1 64.4L128.6 69.0" stroke="#000" stroke-width=".3" fill="none"/>
<path d="M229.4 182.4 L232.6 181.8 L238.4 188.0 L235.2 188.6Z" fill="#f41313" stroke="#f41313" stroke-width=".4"/>
<path d="M229.4 182.4L232.6 181.8M235.2 188.6L238.4 188.0M229.4 182.4L235.2 188.6" stroke="#000" stroke-width=".45" fill="none"/>
<path d="M113.1 50.6 L115.3 53.3 L119.7 57.8 L117.4 55.1Z" fill="#228b14" stroke="#228b14" stroke-width=".4"/>
<path d="M113.1 50.6L115.3 53.3M117.4 55.1L119.7 57.8" stroke="#000" stroke-width=".3" fill="none"/>
<path d="M182.1 153.6 L184.1 156.0 L189.3 161.9 L187.4 159.5Z" fill="#190d08" stroke="#190d08" stroke-width=".4"/>
<path d="M182.1 153.6L184.1 156.0M187.4 159.5L189.3 161.9M184.1 156.0L189.3 161.9" stroke="#000" stroke-width=".3" fill="none"/>
<path d="M100.0 38.6 L102.2 40.0 L106.4 44.4 L104.2 42.9Z" fill="#0d0b0a" stroke="#0d0b0a" stroke-width=".4"/>
<path d="M100.0 38.6L102.2 40.0M104.2 42.9L106.4 44.4" stroke="#000" stroke-width=".45" fill="none"/>
<path d="M171.1 138.4 L173.1 141.9 L178.2 147.6 L176.2 144.1Z" fill="#5c110a" stroke="#5c110a" stroke-width=".4"/>
<path d="M171.1 138.4L173.1 141.9M176.2 144.1L178.2 147.6" stroke="#000" stroke-width=".3" fill="none"/>
<path d="M133.0 77.0 L135.2 81.4 L139.8 86.3 L137.6 81.9Z" fill="#501209" stroke="#501209" stroke-width=".4"/>
<path d="M133.0 77.0L135.2 81.4M137.6 81.9L139.8 86.3" stroke="#000" stroke-width=".3" fill="none"/>
<path d="M207.6 176.3 L210.8 176.9 L216.5 183.0 L213.2 182.5Z" fill="#0b0b0b" stroke="#0b0b0b" stroke-width=".4"/>
<path d="M207.6 176.3L210.8 176.9M213.2 182.5L216.5 183.0" stroke="#000" stroke-width=".45" fill="none"/>
<path d="M82.1 29.9 L85.8 30.4 L89.7 34.6 L86.0 34.1Z" fill="#1de91d" stroke="#1de91d" stroke-width=".4"/>
<path d="M82.1 29.9L85.8 30.4M86.0 34.1L89.7 34.6" stroke="#000" stroke-width=".45" fill="none"/>
<path d="M193.2 165.7 L195.1 167.1 L200.5 173.2 L198.6 171.7Z" fill="#1db217" stroke="#1db217" stroke-width=".4"/>
<path d="M193.2 165.7L195.1 167.1M198.6 171.7L200.5 173.2" stroke="#000" stroke-width=".45" fill="none"/>
<path d="M226.1 182.8 L229.4 182.4 L235.2 188.6 L232.0 189.1Z" fill="#1dee1d" stroke="#1dee1d" stroke-width=".4"/>
<path d="M226.1 182.8L229.4 182.4M232.0 189.1L235.2 188.6M229.4 182.4L235.2 188.6" stroke="#000" stroke-width=".45" fill="none"/>
<path d="M244.9 186.5 L254.4 184.0 L260.6 190.2 L251.0 192.8Z" fill="#f9f413" stroke="#f9f413" stroke-width=".4"/>
<path d="M244.9 186.5L254.4 184.0M251.0 192.8L260.6 190.2M244.9 186.5L251.0 192.8M254.4 184.0L260.6 190.2" stroke="#000" stroke-width=".45" fill="none"/>
<path d="M142.0 90.9 L144.2 95.7 L148.9 100.8 L146.7 96.0Z" fill="#281108" stroke="#281108" stroke-width=".4"/>
<path d="M142.0 90.9L144.2 95.7M146.7 96.0L148.9 100.8M144.2 95.7L148.9 100.8" stroke="#000" stroke-width=".3" fill="none"/>
<path d="M97.8 37.4 L100.0 38.6 L104.2 42.9 L102.0 41.7Z" fill="#0b0a0a" stroke="#0b0a0a" stroke-width=".4"/>
<path d="M97.8 37.4L100.0 38.6M102.0 41.7L104.2 42.9" stroke="#000" stroke-width=".45" fill="none"/>
<path d="M151.0 105.6 L153.1 110.4 L158.0 115.6 L155.9 110.8Z" fill="#2f5d12" stroke="#2f5d12" stroke-width=".4"/>
<path d="M151.0 105.6L153.1 110.4M155.9 110.8L158.0 115.6" stroke="#000" stroke-width=".3" fill="none"/>
<path d="M110.9 48.2 L113.1 50.6 L117.4 55.1 L115.2 52.7Z" fill="#209915" stroke="#209915" stroke-width=".4"/>
<path d="M110.9 48.2L113.1 50.6M115.2 52.7L117.4 55.1" stroke="#000" stroke-width=".45" fill="none"/>
<path d="M121.9 60.9 L124.1 64.4 L128.6 69.0 L126.4 65.6Z" fill="#6e750f" stroke="#6e750f" stroke-width=".4"/>
<path d="M121.9 60.9L124.1 64.4M126.4 65.6L128.6 69.0M124.1 64.4L128.6 69.0" stroke="#000" stroke-width=".3" fill="none"/>
<path d="M180.2 150.8 L182.1 153.6 L187.4 159.5 L185.4 156.6Z" fill="#1c0d08" stroke="#1c0d08" stroke-width=".4"/>
<path d="M180.2 150.8L182.1 153.6M185.4 156.6L187.4 159.5" stroke="#000" stroke-width=".3" fill="none"/>
<path d="M160.1 120.3 L162.1 124.8 L167.1 130.3 L165.0 125.8Z" fill="#535e10" stroke="#535e10" stroke-width=".4"/>
<path d="M160.1 120.3L162.1 124.8M165.0 125.8L167.1 130.3" stroke="#000" stroke-width=".3" fill="none"/>
<path d="M78.5 29.6 L82.1 29.9 L86.0 34.1 L82.4 33.8Z" fill="#1dec1d" stroke="#1dec1d" stroke-width=".4"/>
<path d="M78.5 29.6L82.1 29.9M82.4 33.8L86.0 34.1M78.5 29.6L82.4 33.8" stroke="#000" stroke-width=".45" fill="none"/>
<path d="M222.9 183.1 L226.1 182.8 L232.0 189.1 L228.7 189.4Z" fill="#1ded1d" stroke="#1ded1d" stroke-width=".4"/>
<path d="M222.9 183.1L226.1 182.8M228.7 189.4L232.0 189.1" stroke="#000" stroke-width=".45" fill="none"/>
<path d="M191.3 164.0 L193.2 165.7 L198.6 171.7 L196.6 170.0Z" fill="#1fa316" stroke="#1fa316" stroke-width=".4"/>
<path d="M191.3 164.0L193.2 165.7M196.6 170.0L198.6 171.7" stroke="#000" stroke-width=".45" fill="none"/>
<path d="M204.4 175.2 L207.6 176.3 L213.2 182.5 L210.0 181.4Z" fill="#0a0a0a" stroke="#0a0a0a" stroke-width=".4"/>
<path d="M204.4 175.2L207.6 176.3M210.0 181.4L213.2 182.5M204.4 175.2L210.0 181.4" stroke="#000" stroke-width=".45" fill="none"/>
<path d="M95.6 36.4 L97.8 37.4 L102.0 41.7 L99.7 40.7Z" fill="#0a0a0a" stroke="#0a0a0a" stroke-width=".4"/>
<path d="M95.6 36.4L97.8 37.4M99.7 40.7L102.0 41.7" stroke="#000" stroke-width=".45" fill="none"/>
<path d="M169.1 134.5 L171.1 138.4 L176.2 144.1 L174.2 140.1Z" fill="#54110a" stroke="#54110a" stroke-width=".4"/>
<path d="M169.1 134.5L171.1 138.4M174.2 140.1L176.2 144.1M169.1 134.5L174.2 140.1" stroke="#000" stroke-width=".3" fill="none"/>
<path d="M130.8 72.9 L133.0 77.0 L137.6 81.9 L135.4 77.7Z" fill="#56110a" stroke="#56110a" stroke-width=".4"/>
<path d="M130.8 72.9L133.0 77.0M135.4 77.7L137.6 81.9" stroke="#000" stroke-width=".3" fill="none"/>
<path d="M108.6 46.1 L110.9 48.2 L115.2 52.7 L112.9 50.6Z" fill="#1ea816" stroke="#1ea816" stroke-width=".4"/>
<path d="M108.6 46.1L110.9 48.2M112.9 50.6L115.2 52.7M108.6 46.1L112.9 50.6" stroke="#000" stroke-width=".45" fill="none"/>
<path d="M241.7 187.3 L244.9 186.5 L251.0 192.8 L247.7 193.6Z" fill="#0b0b0b" stroke="#0b0b0b" stroke-width=".4"/>
<path d="M241.7 187.3L244.9 186.5M247.7 193.6L251.0 192.8M244.9 186.5L251.0 192.8" stroke="#000" stroke-width=".45" fill="none"/>
<path d="M74.8 29.5 L78.5 29.6 L82.4 33.8 L78.7 33.8Z" fill="#f21313" stroke="#f21313" stroke-width=".4"/>
<path d="M74.8 29.5L78.5 29.6M78.7 33.8L82.4 33.8M78.5 29.6L82.4 33.8" stroke="#000" stroke-width=".45" fill="none"/>
<path d="M219.7 183.2 L222.9 183.1 L228.7 189.4 L225.5 189.5Z" fill="#1deb1d" stroke="#1deb1d" stroke-width=".4"/>
<path d="M219.7 183.2L222.9 183.1M225.5 189.5L228.7 189.4M219.7 183.2L225.5 189.5" stroke="#000" stroke-width=".45" fill="none"/>
<path d="M93.4 35.6 L95.6 36.4 L99.7 40.7 L97.5 39.9Z" fill="#0b0b0b" stroke="#0b0b0b" stroke-width=".4"/>
<path d="M93.4 35.6L95.6 36.4M97.5 39.9L99.7 40.7M93.4 35.6L97.5 39.9" stroke="#000" stroke-width=".45" fill="none"/>
<path d="M119.7 57.8 L121.9 60.9 L126.4 65.6 L124.1 62.4Z" fill="#7b800f" stroke="#7b800f" stroke-width=".4"/>
<path d="M119.7 57.8L121.9 60.9M124.1 62.4L126.4 65.6" stroke="#000" stroke-width=".3" fill="none"/>
<path d="M139.8 86.3 L142.0 90.9 L146.7 96.0 L144.6 91.3Z" fill="#281108" stroke="#281108" stroke-width=".4"/>
<path d="M139.8 86.3L142.0 90.9M144.6 91.3L146.7 96.0" stroke="#000" stroke-width=".3" fill="none"/>
<path d="M260.6 190.2 L270.2 187.5 L276.6 193.8 L267.0 196.6Z" fill="#f41313" stroke="#f41313" stroke-width=".4"/>
<path d="M260.6 190.2L270.2 187.5M267.0 196.6L276.6 193.8M260.6 190.2L267.0 196.6M270.2 187.5L276.6 193.8" stroke="#000" stroke-width=".45" fill="none"/>
<path d="M202.5 174.3 L204.4 175.2 L210.0 181.4 L208.0 180.5Z" fill="#d5d111" stroke="#d5d111" stroke-width=".4"/>
<path d="M202.5 174.3L204.4 175.2M208.0 180.5L210.0 181.4M204.4 175.2L210.0 181.4" stroke="#000" stroke-width=".45" fill="none"/>
<path d="M178.2 147.6 L180.2 150.8 L185.4 156.6 L183.4 153.4Z" fill="#1f0e08" stroke="#1f0e08" stroke-width=".4"/>
<path d="M178.2 147.6L180.2 150.8M183.4 153.4L185.4 156.6" stroke="#000" stroke-width=".3" fill="none"/>
<path d="M189.3 161.9 L191.3 164.0 L196.6 170.0 L194.7 167.9Z" fill="#219415" stroke="#219415" stroke-width=".4"/>
<path d="M189.3 161.9L191.3 164.0M194.7 167.9L196.6 170.0M189.3 161.9L194.7 167.9" stroke="#000" stroke-width=".3" fill="none"/>
<path d="M148.9 100.8 L151.0 105.6 L155.9 110.8 L153.8 106.0Z" fill="#2f5d12" stroke="#2f5d12" stroke-width=".4"/>
<path d="M148.9 100.8L151.0 105.6M153.8 106.0L155.9 110.8M148.9 100.8L153.8 106.0" stroke="#000" stroke-width=".3" fill="none"/>
<path d="M238.4 188.0 L241.7 187.3 L247.7 193.6 L244.5 194.4Z" fill="#0b0b0b" stroke="#0b0b0b" stroke-width=".4"/>
<path d="M238.4 188.0L241.7 187.3M244.5 194.4L247.7 193.6" stroke="#000" stroke-width=".45" fill="none"/>
<path d="M71.2 29.6 L74.8 29.5 L78.7 33.8 L75.0 33.9Z" fill="#f31313" stroke="#f31313" stroke-width=".4"/>
<path d="M71.2 29.6L74.8 29.5M75.0 33.9L78.7 33.8" stroke="#000" stroke-width=".45" fill="none"/>
<path d="M106.4 44.4 L108.6 46.1 L112.9 50.6 L110.7 48.8Z" fill="#b7110f" stroke="#b7110f" stroke-width=".4"/>
<path d="M106.4 44.4L108.6 46.1M110.7 48.8L112.9 50.6M108.6 46.1L112.9 50.6" stroke="#000" stroke-width=".45" fill="none"/>
<path d="M158.0 115.6 L160.1 120.3 L165.0 125.8 L163.0 121.1Z" fill="#535e10" stroke="#535e10" stroke-width=".4"/>
<path d="M158.0 115.6L160.1 120.3M163.0 121.1L165.0 125.8" stroke="#000" stroke-width=".3" fill="none"/>
<path d="M216.5 183.0 L219.7 183.2 L225.5 189.5 L222.2 189.4Z" fill="#ed1313" stroke="#ed1313" stroke-width=".4"/>
<path d="M216.5 183.0L219.7 183.2M222.2 189.4L225.5 189.5M219.7 183.2L225.5 189.5" stroke="#000" stroke-width=".45" fill="none"/>
<path d="M89.7 34.6 L93.4 35.6 L97.5 39.9 L93.8 39.0Z" fill="#efea13" stroke="#efea13" stroke-width=".4"/>
<path d="M89.7 34.6L93.4 35.6M93.8 39.0L97.5 39.9M93.4 35.6L97.5 39.9" stroke="#000" stroke-width=".45" fill="none"/>
<path d="M167.1 130.3 L169.1 134.5 L174.2 140.1 L172.2 135.9Z" fill="#2e5e11" stroke="#2e5e11" stroke-width=".4"/>
<path d="M167.1 130.3L169.1 134.5M172.2 135.9L174.2 140.1M169.1 134.5L174.2 140.1" stroke="#000" stroke-width=".3" fill="none"/>
<path d="M200.5 173.2 L202.5 174.3 L208.0 180.5 L206.1 179.4Z" fill="#c6c411" stroke="#c6c411" stroke-width=".4"/>
<path d="M200.5 173.2L202.5 174.3M206.1 179.4L208.0 180.5" stroke="#000" stroke-width=".45" fill="none"/>
<path d="M128.6 69.0 L130.8 72.9 L135.4 77.7 L133.2 73.8Z" fill="#5f110a" stroke="#5f110a" stroke-width=".4"/>
<path d="M128.6 69.0L130.8 72.9M133.2 73.8L135.4 77.7M128.6 69.0L133.2 73.8" stroke="#000" stroke-width=".3" fill="none"/>
<path d="M235.2 188.6 L238.4 188.0 L244.5 194.4 L241.2 195.0Z" fill="#0b0b0b" stroke="#0b0b0b" stroke-width=".4"/>
<path d="M235.2 188.6L238.4 188.0M241.2 195.0L244.5 194.4M235.2 188.6L241.2 195.0" stroke="#000" stroke-width=".45" fill="none"/>
<path d="M117.4 55.1 L119.7 57.8 L124.1 62.4 L121.9 59.7Z" fill="#8a8d0f" stroke="#8a8d0f" stroke-width=".4"/>
<path d="M117.4 55.1L119.7 57.8M121.9 59.7L124.1 62.4" stroke="#000" stroke-width=".3" fill="none"/>
<path d="M67.5 29.9 L71.2 29.6 L75.0 33.9 L71.3 34.1Z" fill="#f41313" stroke="#f41313" stroke-width=".4"/>
<path d="M67.5 29.9L71.2 29.6M71.3 34.1L75.0 33.9M67.5 29.9L71.3 34.1" stroke="#000" stroke-width=".45" fill="none"/>
<path d="M187.4 159.5 L189.3 161.9 L194.7 167.9 L192.8 165.5Z" fill="#80100c" stroke="#80100c" stroke-width=".4"/>
<path d="M187.4 159.5L189.3 161.9M192.8 165.5L194.7 167.9M189.3 161.9L194.7 167.9" stroke="#000" stroke-width=".3" fill="none"/>
<path d="M104.2 42.9 L106.4 44.4 L110.7 48.8 L108.5 47.3Z" fill="#c71110" stroke="#c71110" stroke-width=".4"/>
<path d="M104.2 42.9L106.4 44.4M108.5 47.3L110.7 48.8" stroke="#000" stroke-width=".45" fill="none"/>
<path d="M176.2 144.1 L178.2 147.6 L183.4 153.4 L181.5 149.9Z" fill="#220f08" stroke="#220f08" stroke-width=".4"/>
<path d="M176.2 144.1L178.2 147.6M181.5 149.9L183.4 153.4" stroke="#000" stroke-width=".3" fill="none"/>
<path d="M137.6 81.9 L139.8 86.3 L144.6 91.3 L142.4 86.8Z" fill="#261008" stroke="#261008" stroke-width=".4"/>
<path d="M137.6 81.9L139.8 86.3M142.4 86.8L144.6 91.3" stroke="#000" stroke-width=".3" fill="none"/>
<path d="M213.2 182.5 L216.5 183.0 L222.2 189.4 L219.0 188.8Z" fill="#e71212" stroke="#e71212" stroke-width=".4"/>
<path d="M213.2 182.5L216.5 183.0M219.0 188.8L222.2 189.4" stroke="#000" stroke-width=".45" fill="none"/>
<path d="M86.0 34.1 L89.7 34.6 L93.8 39.0 L90.1 38.4Z" fill="#f3ee13" stroke="#f3ee13" stroke-width=".4"/>
<path d="M86.0 34.1L89.7 34.6M90.1 38.4L93.8 39.0" stroke="#000" stroke-width=".45" fill="none"/>
<path d="M198.6 171.7 L200.5 173.2 L206.1 179.4 L204.1 177.9Z" fill="#b7b610" stroke="#b7b610" stroke-width=".4"/>
<path d="M198.6 171.7L200.5 173.2M204.1 177.9L206.1 179.4" stroke="#000" stroke-width=".45" fill="none"/>
<path d="M232.0 189.1 L235.2 188.6 L241.2 195.0 L238.0 195.5Z" fill="#f8f313" stroke="#f8f313" stroke-width=".4"/>
<path d="M232.0 189.1L235.2 188.6M238.0 195.5L241.2 195.0M235.2 188.6L241.2 195.0" stroke="#000" stroke-width=".45" fill="none"/>
<path d="M63.8 30.2 L67.5 29.9 L71.3 34.1 L67.5 34.5Z" fill="#1def1d" stroke="#1def1d" stroke-width=".4"/>
<path d="M63.8 30.2L67.5 29.9M67.5 34.5L71.3 34.1M67.5 29.9L71.3 34.1" stroke="#000" stroke-width=".45" fill="none"/>
<path d="M251.0 192.8 L260.6 190.2 L267.0 196.6 L257.3 199.3Z" fill="#1def1d" stroke="#1def1d" stroke-width=".4"/>
<path d="M251.0 192.8L260.6 190.2M257.3 199.3L267.0 196.6M251.0 192.8L257.3 199.3M260.6 190.2L267.0 196.6" stroke="#000" stroke-width=".45" fill="none"/>
<path d="M146.7 96.0 L148.9 100.8 L153.8 106.0 L151.6 101.1Z" fill="#4e1209" stroke="#4e1209" stroke-width=".4"/>
<path d="M146.7 96.0L148.9 100.8M151.6 101.1L153.8 106.0M148.9 100.8L153.8 106.0" stroke="#000" stroke-width=".3" fill="none"/>
<path d="M102.0 41.7 L104.2 42.9 L108.5 47.3 L106.2 46.1Z" fill="#d51111" stroke="#d51111" stroke-width=".4"/>
<path d="M102.0 41.7L104.2 42.9M106.2 46.1L108.5 47.3" stroke="#000" stroke-width=".45" fill="none"/>
<path d="M155.9 110.8 L158.0 115.6 L163.0 121.1 L160.9 116.2Z" fill="#535e10" stroke="#535e10" stroke-width=".4"/>
<path d="M155.9 110.8L158.0 115.6M160.9 116.2L163.0 121.1" stroke="#000" stroke-width=".3" fill="none"/>
<path d="M115.2 52.7 L117.4 55.1 L121.9 59.7 L119.6 57.2Z" fill="#9a9c0f" stroke="#9a9c0f" stroke-width=".4"/>
<path d="M115.2 52.7L117.4 55.1M119.6 57.2L121.9 59.7" stroke="#000" stroke-width=".45" fill="none"/>
<path d="M126.4 65.6 L128.6 69.0 L133.2 73.8 L131.0 70.3Z" fill="#277312" stroke="#277312" stroke-width=".4"/>
<path d="M126.4 65.6L128.6 69.0M131.0 70.3L133.2 73.8M128.6 69.0L133.2 73.8" stroke="#000" stroke-width=".3" fill="none"/>
<path d="M185.4 156.6 L187.4 159.5 L192.8 165.5 L190.8 162.6Z" fill="#72100b" stroke="#72100b" stroke-width=".4"/>
<path d="M185.4 156.6L187.4 159.5M190.8 162.6L192.8 165.5" stroke="#000" stroke-width=".3" fill="none"/>
<path d="M165.0 125.8 L167.1 130.3 L172.2 135.9 L170.2 131.4Z" fill="#2f5d12" stroke="#2f5d12" stroke-width=".4"/>
<path d="M165.0 125.8L167.1 130.3M170.2 131.4L172.2 135.9" stroke="#000" stroke-width=".3" fill="none"/>
<path d="M82.4 33.8 L86.0 34.1 L90.1 38.4 L86.3 38.1Z" fill="#f6f113" stroke="#f6f113" stroke-width=".4"/>
<path d="M82.4 33.8L86.0 34.1M86.3 38.1L90.1 38.4M82.4 33.8L86.3 38.1" stroke="#000" stroke-width=".45" fill="none"/>
<path d="M228.7 189.4 L232.0 189.1 L238.0 195.5 L234.7 195.9Z" fill="#f7f213" stroke="#f7f213" stroke-width=".4"/>
<path d="M228.7 189.4L232.0 189.1M234.7 195.9L238.0 195.5" stroke="#000" stroke-width=".45" fill="none"/>
<path d="M60.1 30.6 L63.8 30.2 L67.5 34.5 L63.8 34.9Z" fill="#1def1d" stroke="#1def1d" stroke-width=".4"/>
<path d="M60.1 30.6L63.8 30.2M63.8 34.9L67.5 34.5" stroke="#000" stroke-width=".45" fill="none"/>
<path d="M196.6 170.0 L198.6 171.7 L204.1 177.9 L202.2 176.2Z" fill="#a6a610" stroke="#a6a610" stroke-width=".4"/>
<path d="M196.6 170.0L198.6 171.7M202.2 176.2L204.1 177.9" stroke="#000" stroke-width=".45" fill="none"/>
<path d="M210.0 181.4 L213.2 182.5 L219.0 188.8 L215.7 187.8Z" fill="#df1212" stroke="#df1212" stroke-width=".4"/>
<path d="M210.0 181.4L213.2 182.5M215.7 187.8L219.0 188.8M210.0 181.4L215.7 187.8" stroke="#000" stroke-width=".45" fill="none"/>
<path d="M99.7 40.7 L102.0 41.7 L106.2 46.1 L104.0 45.1Z" fill="#df1212" stroke="#df1212" stroke-width=".4"/>
<path d="M99.7 40.7L102.0 41.7M104.0 45.1L106.2 46.1" stroke="#000" stroke-width=".45" fill="none"/>
<path d="M174.2 140.1 L176.2 144.1 L181.5 149.9 L179.5 145.9Z" fill="#251008" stroke="#251008" stroke-width=".4"/>
<path d="M174.2 140.1L176.2 144.1M179.5 145.9L181.5 149.9M174.2 140.1L179.5 145.9" stroke="#000" stroke-width=".3" fill="none"/>
<path d="M135.4 77.7 L137.6 81.9 L142.4 86.8 L140.2 82.7Z" fill="#241008" stroke="#241008" stroke-width=".4"/>
<path d="M135.4 77.7L137.6 81.9M140.2 82.7L142.4 86.8" stroke="#000" stroke-width=".3" fill="none"/>
<path d="M112.9 50.6 L115.2 52.7 L119.6 57.2 L117.4 55.2Z" fill="#abab10" stroke="#abab10" stroke-width=".4"/>
<path d="M112.9 50.6L115.2 52.7M117.4 55.2L119.6 57.2M112.9 50.6L117.4 55.2" stroke="#000" stroke-width=".45" fill="none"/>
<path d="M56.4 31.1 L60.1 30.6 L63.8 34.9 L60.1 35.4Z" fill="#1def1d" stroke="#1def1d" stroke-width=".4"/>
<path d="M56.4 31.1L60.1 30.6M60.1 35.4L63.8 34.9M56.4 31.1L60.1 35.4" stroke="#000" stroke-width=".45" fill="none"/>
<path d="M247.7 193.6 L251.0 192.8 L257.3 199.3 L254.0 200.2Z" fill="#f41313" stroke="#f41313" stroke-width=".4"/>
<path d="M247.7 193.6L251.0 192.8M254.0 200.2L257.3 199.3M251.0 192.8L257.3 199.3" stroke="#000" stroke-width=".45" fill="none"/>
<path d="M78.7 33.8 L82.4 33.8 L86.3 38.1 L82.6 38.1Z" fill="#0b0b0b" stroke="#0b0b0b" stroke-width=".4"/>
<path d="M78.7 33.8L82.4 33.8M82.6 38.1L86.3 38.1M82.4 33.8L86.3 38.1" stroke="#000" stroke-width=".45" fill="none"/>
<path d="M225.5 189.5 L228.7 189.4 L234.7 195.9 L231.4 196.0Z" fill="#f5f013" stroke="#f5f013" stroke-width=".4"/>
<path d="M225.5 189.5L228.7 189.4M231.4 196.0L234.7 195.9M225.5 189.5L231.4 196.0" stroke="#000" stroke-width=".45" fill="none"/>
<path d="M97.5 39.9 L99.7 40.7 L104.0 45.1 L101.7 44.3Z" fill="#e41212" stroke="#e41212" stroke-width=".4"/>
<path d="M97.5 39.9L99.7 40.7M101.7 44.3L104.0 45.1M97.5 39.9L101.7 44.3" stroke="#000" stroke-width=".45" fill="none"/>
<path d="M124.1 62.4 L126.4 65.6 L131.0 70.3 L128.7 67.2Z" fill="#247e13" stroke="#247e13" stroke-width=".4"/>
<path d="M124.1 62.4L126.4 65.6M128.7 67.2L131.0 70.3" stroke="#000" stroke-width=".3" fill="none"/>
<path d="M144.6 91.3 L146.7 96.0 L151.6 101.1 L149.4 96.5Z" fill="#4e1209" stroke="#4e1209" stroke-width=".4"/>
<path d="M144.6 91.3L146.7 96.0M149.4 96.5L151.6 101.1" stroke="#000" stroke-width=".3" fill="none"/>
<path d="M267.0 196.6 L276.6 193.8 L283.2 200.3 L273.5 203.2Z" fill="#0b0b0b" stroke="#0b0b0b" stroke-width=".4"/>
<path d="M267.0 196.6L276.6 193.8M273.5 203.2L283.2 200.3M267.0 196.6L273.5 203.2M276.6 193.8L283.2 200.3" stroke="#000" stroke-width=".45" fill="none"/>
<path d="M208.0 180.5 L210.0 181.4 L215.7 187.8 L213.7 186.9Z" fill="#1bcd1a" stroke="#1bcd1a" stroke-width=".4"/>
<path d="M208.0 180.5L210.0 181.4M213.7 186.9L215.7 187.8M210.0 181.4L215.7 187.8" stroke="#000" stroke-width=".45" fill="none"/>
<path d="M183.4 153.4 L185.4 156.6 L190.8 162.6 L188.8 159.4Z" fill="#65110a" stroke="#65110a" stroke-width=".4"/>
<path d="M183.4 153.4L185.4 156.6M188.8 159.4L190.8 162.6" stroke="#000" stroke-width=".3" fill="none"/>
<path d="M194.7 167.9 L196.6 170.0 L202.2 176.2 L200.2 174.1Z" fill="#95970f" stroke="#95970f" stroke-width=".4"/>
<path d="M194.7 167.9L196.6 170.0M200.2 174.1L202.2 176.2M194.7 167.9L200.2 174.1" stroke="#000" stroke-width=".3" fill="none"/>
<path d="M153.8 106.0 L155.9 110.8 L160.9 116.2 L158.7 111.3Z" fill="#535e10" stroke="#535e10" stroke-width=".4"/>
<path d="M153.8 106.0L155.9 110.8M158.7 111.3L160.9 116.2M153.8 106.0L158.7 111.3" stroke="#000" stroke-width=".3" fill="none"/>
<path d="M244.5 194.4 L247.7 193.6 L254.0 200.2 L250.7 200.9Z" fill="#f41313" stroke="#f41313" stroke-width=".4"/>
<path d="M244.5 194.4L247.7 193.6M250.7 200.9L254.0 200.2" stroke="#000" stroke-width=".45" fill="none"/>
<path d="M75.0 33.9 L78.7 33.8 L82.6 38.1 L78.9 38.3Z" fill="#0b0b0b" stroke="#0b0b0b" stroke-width=".4"/>
<path d="M75.0 33.9L78.7 33.8M78.9 38.3L82.6 38.1" stroke="#000" stroke-width=".45" fill="none"/>
<path d="M110.7 48.8 L112.9 50.6 L117.4 55.2 L115.1 53.4Z" fill="#0f0b09" stroke="#0f0b09" stroke-width=".4"/>
<path d="M110.7 48.8L112.9 50.6M115.1 53.4L117.4 55.2M112.9 50.6L117.4 55.2" stroke="#000" stroke-width=".45" fill="none"/>
<path d="M163.0 121.1 L165.0 125.8 L170.2 131.4 L168.1 126.6Z" fill="#2f5d12" stroke="#2f5d12" stroke-width=".4"/>
<path d="M163.0 121.1L165.0 125.8M168.1 126.6L170.2 131.4" stroke="#000" stroke-width=".3" fill="none"/>
<path d="M222.2 189.4 L225.5 189.5 L231.4 196.0 L228.1 195.8Z" fill="#0b0b0b" stroke="#0b0b0b" stroke-width=".4"/>
<path d="M222.2 189.4L225.5 189.5M228.1 195.8L231.4 196.0M225.5 189.5L231.4 196.0" stroke="#000" stroke-width=".45" fill="none"/>
<path d="M93.8 39.0 L97.5 39.9 L101.7 44.3 L98.0 43.4Z" fill="#1ce51c" stroke="#1ce51c" stroke-width=".4"/>
<path d="M93.8 39.0L97.5 39.9M98.0 43.4L101.7 44.3M97.5 39.9L101.7 44.3" stroke="#000" stroke-width=".45" fill="none"/>
<path d="M172.2 135.9 L174.2 140.1 L179.5 145.9 L177.4 141.7Z" fill="#545f10" stroke="#545f10" stroke-width=".4"/>
<path d="M172.2 135.9L174.2 140.1M177.4 141.7L179.5 145.9M174.2 140.1L179.5 145.9" stroke="#000" stroke-width=".3" fill="none"/>
<path d="M206.1 179.4 L208.0 180.5 L213.7 186.9 L211.8 185.7Z" fill="#1cc018" stroke="#1cc018" stroke-width=".4"/>
<path d="M206.1 179.4L208.0 180.5M211.8 185.7L213.7 186.9" stroke="#000" stroke-width=".45" fill="none"/>
<path d="M45.2 32.7 L56.4 31.1 L60.1 35.4 L48.7 37.1Z" fill="#f41313" stroke="#f41313" stroke-width=".4"/>
<path d="M45.2 32.7L56.4 31.1M48.7 37.1L60.1 35.4M45.2 32.7L48.7 37.1M56.4 31.1L60.1 35.4" stroke="#000" stroke-width=".45" fill="none"/>
<path d="M133.2 73.8 L135.4 77.7 L140.2 82.7 L137.9 78.8Z" fill="#210f08" stroke="#210f08" stroke-width=".4"/>
<path d="M133.2 73.8L135.4 77.7M137.9 78.8L140.2 82.7M133.2 73.8L137.9 78.8" stroke="#000" stroke-width=".3" fill="none"/>
<path d="M241.2 195.0 L244.5 194.4 L250.7 200.9 L247.4 201.6Z" fill="#f41313" stroke="#f41313" stroke-width=".4"/>
<path d="M241.2 195.0L244.5 194.4M247.4 201.6L250.7 200.9M241.2 195.0L247.4 201.6" stroke="#000" stroke-width=".45" fill="none"/>
<path d="M121.9 59.7 L124.1 62.4 L128.7 67.2 L126.4 64.4Z" fill="#228b14" stroke="#228b14" stroke-width=".4"/>
<path d="M121.9 59.7L124.1 62.4M126.4 64.4L128.7 67.2" stroke="#000" stroke-width=".3" fill="none"/>
<path d="M71.3 34.1 L75.0 33.9 L78.9 38.3 L75.1 38.5Z" fill="#0b0b0b" stroke="#0b0b0b" stroke-width=".4"/>
<path d="M71.3 34.1L75.0 33.9M75.1 38.5L78.9 38.3M71.3 34.1L75.1 38.5" stroke="#000" stroke-width=".45" fill="none"/>
<path d="M192.8 165.5 L194.7 167.9 L200.2 174.1 L198.3 171.6Z" fill="#190d08" stroke="#190d08" stroke-width=".4"/>
<path d="M192.8 165.5L194.7 167.9M198.3 171.6L200.2 174.1M194.7 167.9L200.2 174.1" stroke="#000" stroke-width=".3" fill="none"/>
<path d="M108.5 47.3 L110.7 48.8 L115.1 53.4 L112.8 51.9Z" fill="#0d0b0a" stroke="#0d0b0a" stroke-width=".4"/>
<path d="M108.5 47.3L110.7 48.8M112.8 51.9L115.1 53.4" stroke="#000" stroke-width=".45" fill="none"/>
<path d="M181.5 149.9 L183.4 153.4 L188.8 159.4 L186.8 155.9Z" fill="#5c110a" stroke="#5c110a" stroke-width=".4"/>
<path d="M181.5 149.9L183.4 153.4M186.8 155.9L188.8 159.4" stroke="#000" stroke-width=".3" fill="none"/>
<path d="M142.4 86.8 L144.6 91.3 L149.4 96.5 L147.2 92.0Z" fill="#501209" stroke="#501209" stroke-width=".4"/>
<path d="M142.4 86.8L144.6 91.3M147.2 92.0L149.4 96.5" stroke="#000" stroke-width=".3" fill="none"/>
<path d="M219.0 188.8 L222.2 189.4 L228.1 195.8 L224.9 195.3Z" fill="#0b0b0b" stroke="#0b0b0b" stroke-width=".4"/>
<path d="M219.0 188.8L222.2 189.4M224.9 195.3L228.1 195.8" stroke="#000" stroke-width=".45" fill="none"/>
<path d="M90.1 38.4 L93.8 39.0 L98.0 43.4 L94.2 42.9Z" fill="#1de91d" stroke="#1de91d" stroke-width=".4"/>
<path d="M90.1 38.4L93.8 39.0M94.2 42.9L98.0 43.4" stroke="#000" stroke-width=".45" fill="none"/>
<path d="M204.1 177.9 L206.1 179.4 L211.8 185.7 L209.8 184.3Z" fill="#1db217" stroke="#1db217" stroke-width=".4"/>
<path d="M204.1 177.9L206.1 179.4M209.8 184.3L211.8 185.7" stroke="#000" stroke-width=".45" fill="none"/>
<path d="M238.0 195.5 L241.2 195.0 L247.4 201.6 L244.1 202.1Z" fill="#1dee1d" stroke="#1dee1d" stroke-width=".4"/>
<path d="M238.0 195.5L241.2 195.0M244.1 202.1L247.4 201.6M241.2 195.0L247.4 201.6" stroke="#000" stroke-width=".45" fill="none"/>
<path d="M67.5 34.5 L71.3 34.1 L75.1 38.5 L71.4 38.9Z" fill="#f9f413" stroke="#f9f413" stroke-width=".4"/>
<path d="M67.5 34.5L71.3 34.1M71.4 38.9L75.1 38.5M71.3 34.1L75.1 38.5" stroke="#000" stroke-width=".45" fill="none"/>
<path d="M257.3 199.3 L267.0 196.6 L273.5 203.2 L263.7 206.0Z" fill="#f9f413" stroke="#f9f413" stroke-width=".4"/>
<path d="M257.3 199.3L267.0 196.6M263.7 206.0L273.5 203.2M257.3 199.3L263.7 206.0M267.0 196.6L273.5 203.2" stroke="#000" stroke-width=".45" fill="none"/>
<path d="M151.6 101.1 L153.8 106.0 L158.7 111.3 L156.6 106.5Z" fill="#281108" stroke="#281108" stroke-width=".4"/>
<path d="M151.6 101.1L153.8 106.0M156.6 106.5L158.7 111.3M153.8 106.0L158.7 111.3" stroke="#000" stroke-width=".3" fill="none"/>
<path d="M106.2 46.1 L108.5 47.3 L112.8 51.9 L110.6 50.7Z" fill="#0b0a0a" stroke="#0b0a0a" stroke-width=".4"/>
<path d="M106.2 46.1L108.5 47.3M110.6 50.7L112.8 51.9" stroke="#000" stroke-width=".45" fill="none"/>
<path d="M160.9 116.2 L163.0 121.1 L168.1 126.6 L166.0 121.7Z" fill="#2f5d12" stroke="#2f5d12" stroke-width=".4"/>
<path d="M160.9 116.2L163.0 121.1M166.0 121.7L168.1 126.6" stroke="#000" stroke-width=".3" fill="none"/>
<path d="M119.6 57.2 L121.9 59.7 L126.4 64.4 L124.2 62.0Z" fill="#209915" stroke="#209915" stroke-width=".4"/>
<path d="M119.6 57.2L121.9 59.7M124.2 62.0L126.4 64.4" stroke="#000" stroke-width=".45" fill="none"/>
<path d="M131.0 70.3 L133.2 73.8 L137.9 78.8 L135.7 75.2Z" fill="#6e750f" stroke="#6e750f" stroke-width=".4"/>
<path d="M131.0 70.3L133.2 73.8M135.7 75.2L137.9 78.8M133.2 73.8L137.9 78.8" stroke="#000" stroke-width=".3" fill="none"/>
<path d="M190.8 162.6 L192.8 165.5 L198.3 171.6 L196.3 168.8Z" fill="#1c0d08" stroke="#1c0d08" stroke-width=".4"/>
<path d="M190.8 162.6L192.8 165.5M196.3 168.8L198.3 171.6" stroke="#000" stroke-width=".3" fill="none"/>
<path d="M170.2 131.4 L172.2 135.9 L177.4 141.7 L175.4 137.1Z" fill="#535e10" stroke="#535e10" stroke-width=".4"/>
<path d="M170.2 131.4L172.2 135.9M175.4 137.1L177.4 141.7" stroke="#000" stroke-width=".3" fill="none"/>
<path d="M86.3 38.1 L90.1 38.4 L94.2 42.9 L90.4 42.6Z" fill="#1dec1d" stroke="#1dec1d" stroke-width=".4"/>
<path d="M86.3 38.1L90.1 38.4M90.4 42.6L94.2 42.9M86.3 38.1L90.4 42.6" stroke="#000" stroke-width=".45" fill="none"/>
<path d="M234.7 195.9 L238.0 195.5 L244.1 202.1 L240.8 202.5Z" fill="#1ded1d" stroke="#1ded1d" stroke-width=".4"/>
<path d="M234.7 195.9L238.0 195.5M240.8 202.5L244.1 202.1" stroke="#000" stroke-width=".45" fill="none"/>
<path d="M63.8 34.9 L67.5 34.5 L71.4 38.9 L67.6 39.3Z" fill="#f9f413" stroke="#f9f413" stroke-width=".4"/>
<path d="M63.8 34.9L67.5 34.5M67.6 39.3L71.4 38.9" stroke="#000" stroke-width=".45" fill="none"/>
<path d="M202.2 176.2 L204.1 177.9 L209.8 184.3 L207.9 182.5Z" fill="#1fa316" stroke="#1fa316" stroke-width=".4"/>
<path d="M202.2 176.2L204.1 177.9M207.9 182.5L209.8 184.3" stroke="#000" stroke-width=".45" fill="none"/>
<path d="M215.7 187.8 L219.0 188.8 L224.9 195.3 L221.6 194.3Z" fill="#0a0a0a" stroke="#0a0a0a" stroke-width=".4"/>
<path d="M215.7 187.8L219.0 188.8M221.6 194.3L224.9 195.3M215.7 187.8L221.6 194.3" stroke="#000" stroke-width=".45" fill="none"/>
<path d="M33.8 34.5 L45.2 32.7 L48.7 37.1 L37.2 38.9Z" fill="#1def1d" stroke="#1def1d" stroke-width=".4"/>
<path d="M33.8 34.5L45.2 32.7M37.2 38.9L48.7 37.1M33.8 34.5L37.2 38.9M45.2 32.7L48.7 37.1" stroke="#000" stroke-width=".45" fill="none"/>
<path d="M104.0 45.1 L106.2 46.1 L110.6 50.7 L108.3 49.7Z" fill="#0a0a0a" stroke="#0a0a0a" stroke-width=".4"/>
<path d="M104.0 45.1L106.2 46.1M108.3 49.7L110.6 50.7" stroke="#000" stroke-width=".45" fill="none"/>
<path d="M179.5 145.9 L181.5 149.9 L186.8 155.9 L184.9 151.9Z" fill="#54110a" stroke="#54110a" stroke-width=".4"/>
<path d="M179.5 145.9L181.5 149.9M184.9 151.9L186.8 155.9M179.5 145.9L184.9 151.9" stroke="#000" stroke-width=".3" fill="none"/>
<path d="M140.2 82.7 L142.4 86.8 L147.2 92.0 L145.0 87.7Z" fill="#56110a" stroke="#56110a" stroke-width=".4"/>
<path d="M140.2 82.7L142.4 86.8M145.0 87.7L147.2 92.0" stroke="#000" stroke-width=".3" fill="none"/>
<path d="M117.4 55.2 L119.6 57.2 L124.2 62.0 L121.9 59.9Z" fill="#1ea816" stroke="#1ea816" stroke-width=".4"/>
<path d="M117.4 55.2L119.6 57.2M121.9 59.9L124.2 62.0M117.4 55.2L121.9 59.9" stroke="#000" stroke-width=".45" fill="none"/>
<path d="M60.1 35.4 L63.8 34.9 L67.6 39.3 L63.8 39.8Z" fill="#f9f413" stroke="#f9f413" stroke-width=".4"/>
<path d="M60.1 35.4L63.8 34.9M63.8 39.8L67.6 39.3M60.1 35.4L63.8 39.8" stroke="#000" stroke-width=".45" fill="none"/>
<path d="M254.0 200.2 L257.3 199.3 L263.7 206.0 L260.4 206.9Z" fill="#0b0b0b" stroke="#0b0b0b" stroke-width=".4"/>
<path d="M254.0 200.2L257.3 199.3M260.4 206.9L263.7 206.0M257.3 199.3L263.7 206.0" stroke="#000" stroke-width=".45" fill="none"/>
<path d="M82.6 38.1 L86.3 38.1 L90.4 42.6 L86.7 42.6Z" fill="#f21313" stroke="#f21313" stroke-width=".4"/>
<path d="M82.6 38.1L86.3 38.1M86.7 42.6L90.4 42.6M86.3 38.1L90.4 42.6" stroke="#000" stroke-width=".45" fill="none"/>
<path d="M231.4 196.0 L234.7 195.9 L240.8 202.5 L237.5 202.6Z" fill="#1deb1d" stroke="#1deb1d" stroke-width=".4"/>
<path d="M231.4 196.0L234.7 195.9M237.5 202.6L240.8 202.5M231.4 196.0L237.5 202.6" stroke="#000" stroke-width=".45" fill="none"/>
<path d="M101.7 44.3 L104.0 45.1 L108.3 49.7 L106.0 48.9Z" fill="#0b0b0b" stroke="#0b0b0b" stroke-width=".4"/>
<path d="M101.7 44.3L104.0 45.1M106.0 48.9L108.3 49.7M101.7 44.3L106.0 48.9" stroke="#000" stroke-width=".45" fill="none"/>
<path d="M128.7 67.2 L131.0 70.3 L135.7 75.2 L133.4 72.1Z" fill="#7b800f" stroke="#7b800f" stroke-width=".4"/>
<path d="M128.7 67.2L131.0 70.3M133.4 72.1L135.7 75.2" stroke="#000" stroke-width=".3" fill="none"/>
<path d="M149.4 96.5 L151.6 101.1 L156.6 106.5 L154.4 101.7Z" fill="#281108" stroke="#281108" stroke-width=".4"/>
<path d="M149.4 96.5L151.6 101.1M154.4 101.7L156.6 106.5" stroke="#000" stroke-width=".3" fill="none"/>
<path d="M213.7 186.9 L215.7 187.8 L221.6 194.3 L219.6 193.4Z" fill="#d5d111" stroke="#d5d111" stroke-width=".4"/>
<path d="M213.7 186.9L215.7 187.8M219.6 193.4L221.6 194.3M215.7 187.8L221.6 194.3" stroke="#000" stroke-width=".45" fill="none"/>
<path d="M188.8 159.4 L190.8 162.6 L196.3 168.8 L194.4 165.6Z" fill="#1f0e08" stroke="#1f0e08" stroke-width=".4"/>
<path d="M188.8 159.4L190.8 162.6M194.4 165.6L196.3 168.8" stroke="#000" stroke-width=".3" fill="none"/>
<path d="M200.2 174.1 L202.2 176.2 L207.9 182.5 L205.9 180.4Z" fill="#219415" stroke="#219415" stroke-width=".4"/>
<path d="M200.2 174.1L202.2 176.2M205.9 180.4L207.9 182.5M200.2 174.1L205.9 180.4" stroke="#000" stroke-width=".3" fill="none"/>
<path d="M158.7 111.3 L160.9 116.2 L166.0 121.7 L163.9 116.8Z" fill="#2f5d12" stroke="#2f5d12" stroke-width=".4"/>
<path d="M158.7 111.3L160.9 116.2M163.9 116.8L166.0 121.7M158.7 111.3L163.9 116.8" stroke="#000" stroke-width=".3" fill="none"/>
<path d="M250.7 200.9 L254.0 200.2 L260.4 206.9 L257.1 207.6Z" fill="#0b0b0b" stroke="#0b0b0b" stroke-width=".4"/>
<path d="M250.7 200.9L254.0 200.2M257.1 207.6L260.4 206.9" stroke="#000" stroke-width=".45" fill="none"/>
<path d="M78.9 38.3 L82.6 38.1 L86.7 42.6 L82.9 42.7Z" fill="#f31313" stroke="#f31313" stroke-width=".4"/>
<path d="M78.9 38.3L82.6 38.1M82.9 42.7L86.7 42.6" stroke="#000" stroke-width=".45" fill="none"/>
<path d="M115.1 53.4 L117.4 55.2 L121.9 59.9 L119.6 58.1Z" fill="#b7110f" stroke="#b7110f" stroke-width=".4"/>
<path d="M115.1 53.4L117.4 55.2M119.6 58.1L121.9 59.9M117.4 55.2L121.9 59.9" stroke="#000" stroke-width=".45" fill="none"/>
<path d="M168.1 126.6 L170.2 131.4 L175.4 137.1 L173.3 132.3Z" fill="#535e10" stroke="#535e10" stroke-width=".4"/>
<path d="M168.1 126.6L170.2 131.4M173.3 132.3L175.4 137.1" stroke="#000" stroke-width=".3" fill="none"/>
<path d="M228.1 195.8 L231.4 196.0 L237.5 202.6 L234.2 202.5Z" fill="#ed1313" stroke="#ed1313" stroke-width=".4"/>
<path d="M228.1 195.8L231.4 196.0M234.2 202.5L237.5 202.6M231.4 196.0L237.5 202.6" stroke="#000" stroke-width=".45" fill="none"/>
<path d="M98.0 43.4 L101.7 44.3 L106.0 48.9 L102.3 48.0Z" fill="#efea13" stroke="#efea13" stroke-width=".4"/>
<path d="M98.0 43.4L101.7 44.3M102.3 48.0L106.0 48.9M101.7 44.3L106.0 48.9" stroke="#000" stroke-width=".45" fill="none"/>
<path d="M177.4 141.7 L179.5 145.9 L184.9 151.9 L182.8 147.6Z" fill="#2e5e11" stroke="#2e5e11" stroke-width=".4"/>
<path d="M177.4 141.7L179.5 145.9M182.8 147.6L184.9 151.9M179.5 145.9L184.9 151.9" stroke="#000" stroke-width=".3" fill="none"/>
<path d="M211.8 185.7 L213.7 186.9 L219.6 193.4 L217.6 192.2Z" fill="#c6c411" stroke="#c6c411" stroke-width=".4"/>
<path d="M211.8 185.7L213.7 186.9M217.6 192.2L219.6 193.4" stroke="#000" stroke-width=".45" fill="none"/>
<path d="M48.7 37.1 L60.1 35.4 L63.8 39.8 L52.3 41.6Z" fill="#0b0b0b" stroke="#0b0b0b" stroke-width=".4"/>
<path d="M48.7 37.1L60.1 35.4M52.3 41.6L63.8 39.8M48.7 37.1L52.3 41.6M60.1 35.4L63.8 39.8" stroke="#000" stroke-width=".45" fill="none"/>
<path d="M137.9 78.8 L140.2 82.7 L145.0 87.7 L142.8 83.8Z" fill="#5f110a" stroke="#5f110a" stroke-width=".4"/>
<path d="M137.9 78.8L140.2 82.7M142.8 83.8L145.0 87.7M137.9 78.8L142.8 83.8" stroke="#000" stroke-width=".3" fill="none"/>
<path d="M247.4 201.6 L250.7 200.9 L257.1 207.6 L253.8 208.3Z" fill="#0b0b0b" stroke="#0b0b0b" stroke-width=".4"/>
<path d="M247.4 201.6L250.7 200.9M253.8 208.3L257.1 207.6M247.4 201.6L253.8 208.3" stroke="#000" stroke-width=".45" fill="none"/>
<path d="M126.4 64.4 L128.7 67.2 L133.4 72.1 L131.1 69.3Z" fill="#8a8d0f" stroke="#8a8d0f" stroke-width=".4"/>
<path d="M126.4 64.4L128.7 67.2M131.1 69.3L133.4 72.1" stroke="#000" stroke-width=".3" fill="none"/>
<path d="M75.1 38.5 L78.9 38.3 L82.9 42.7 L79.1 43.0Z" fill="#f41313" stroke="#f41313" stroke-width=".4"/>
<path d="M75.1 38.5L78.9 38.3M79.1 43.0L82.9 42.7M75.1 38.5L79.1 43.0" stroke="#000" stroke-width=".45" fill="none"/>
<path d="M198.3 171.6 L200.2 174.1 L205.9 180.4 L204.0 178.0Z" fill="#80100c" stroke="#80100c" stroke-width=".4"/>
<path d="M198.3 171.6L200.2 174.1M204.0 178.0L205.9 180.4M200.2 174.1L205.9 180.4" stroke="#000" stroke-width=".3" fill="none"/>
<path d="M112.8 51.9 L115.1 53.4 L119.6 58.1 L117.3 56.6Z" fill="#c71110" stroke="#c71110" stroke-width=".4"/>
<path d="M112.8 51.9L115.1 53.4M117.3 56.6L119.6 58.1" stroke="#000" stroke-width=".45" fill="none"/>
<path d="M186.8 155.9 L188.8 159.4 L194.4 165.6 L192.4 162.0Z" fill="#220f08" stroke="#220f08" stroke-width=".4"/>
<path d="M186.8 155.9L188.8 159.4M192.4 162.0L194.4 165.6" stroke="#000" stroke-width=".3" fill="none"/>
<path d="M147.2 92.0 L149.4 96.5 L154.4 101.7 L152.2 97.2Z" fill="#261008" stroke="#261008" stroke-width=".4"/>
<path d="M147.2 92.0L149.4 96.5M152.2 97.2L154.4 101.7" stroke="#000" stroke-width=".3" fill="none"/>
<path d="M224.9 195.3 L228.1 195.8 L234.2 202.5 L230.9 202.0Z" fill="#e71212" stroke="#e71212" stroke-width=".4"/>
<path d="M224.9 195.3L228.1 195.8M230.9 202.0L234.2 202.5" stroke="#000" stroke-width=".45" fill="none"/>
<path d="M94.2 42.9 L98.0 43.4 L102.3 48.0 L98.5 47.4Z" fill="#f3ee13" stroke="#f3ee13" stroke-width=".4"/>
<path d="M94.2 42.9L98.0 43.4M98.5 47.4L102.3 48.0" stroke="#000" stroke-width=".45" fill="none"/>
<path d="M209.8 184.3 L211.8 185.7 L217.6 192.2 L215.7 190.8Z" fill="#b7b610" stroke="#b7b610" stroke-width=".4"/>
<path d="M209.8 184.3L211.8 185.7M215.7 190.8L217.6 192.2" stroke="#000" stroke-width=".45" fill="none"/>
<path d="M244.1 202.1 L247.4 201.6 L253.8 208.3 L250.5 208.9Z" fill="#f8f313" stroke="#f8f313" stroke-width=".4"/>
<path d="M244.1 202.1L247.4 201.6M250.5 208.9L253.8 208.3M247.4 201.6L253.8 208.3" stroke="#000" stroke-width=".45" fill="none"/>
<path d="M71.4 38.9 L75.1 38.5 L79.1 43.0 L75.3 43.4Z" fill="#1def1d" stroke="#1def1d" stroke-width=".4"/>
<path d="M71.4 38.9L75.1 38.5M75.3 43.4L79.1 43.0M75.1 38.5L79.1 43.0" stroke="#000" stroke-width=".45" fill="none"/>
<path d="M156.6 106.5 L158.7 111.3 L163.9 116.8 L161.7 111.9Z" fill="#4e1209" stroke="#4e1209" stroke-width=".4"/>
<path d="M156.6 106.5L158.7 111.3M161.7 111.9L163.9 116.8M158.7 111.3L163.9 116.8" stroke="#000" stroke-width=".3" fill="none"/>
<path d="M110.6 50.7 L112.8 51.9 L117.3 56.6 L115.1 55.4Z" fill="#d51111" stroke="#d51111" stroke-width=".4"/>
<path d="M110.6 50.7L112.8 51.9M115.1 55.4L117.3 56.6" stroke="#000" stroke-width=".45" fill="none"/>
<path d="M166.0 121.7 L168.1 126.6 L173.3 132.3 L171.3 127.4Z" fill="#535e10" stroke="#535e10" stroke-width=".4"/>
<path d="M166.0 121.7L168.1 126.6M171.3 127.4L173.3 132.3" stroke="#000" stroke-width=".3" fill="none"/>
<path d="M124.2 62.0 L126.4 64.4 L131.1 69.3 L128.8 66.8Z" fill="#9a9c0f" stroke="#9a9c0f" stroke-width=".4"/>
<path d="M124.2 62.0L126.4 64.4M128.8 66.8L131.1 69.3" stroke="#000" stroke-width=".45" fill="none"/>
<path d="M135.7 75.2 L137.9 78.8 L142.8 83.8 L140.5 80.3Z" fill="#277312" stroke="#277312" stroke-width=".4"/>
<path d="M135.7 75.2L137.9 78.8M140.5 80.3L142.8 83.8M137.9 78.8L142.8 83.8" stroke="#000" stroke-width=".3" fill="none"/>
<path d="M196.3 168.8 L198.3 171.6 L204.0 178.0 L202.0 175.2Z" fill="#72100b" stroke="#72100b" stroke-width=".4"/>
<path d="M196.3 168.8L198.3 171.6M202.0 175.2L204.0 178.0" stroke="#000" stroke-width=".3" fill="none"/>
<path d="M175.4 137.1 L177.4 141.7 L182.8 147.6 L180.8 143.0Z" fill="#2f5d12" stroke="#2f5d12" stroke-width=".4"/>
<path d="M175.4 137.1L177.4 141.7M180.8 143.0L182.8 147.6" stroke="#000" stroke-width=".3" fill="none"/>
<path d="M90.4 42.6 L94.2 42.9 L98.5 47.4 L94.7 47.2Z" fill="#f6f113" stroke="#f6f113" stroke-width=".4"/>
<path d="M90.4 42.6L94.2 42.9M94.7 47.2L98.5 47.4M90.4 42.6L94.7 47.2" stroke="#000" stroke-width=".45" fill="none"/>
<path d="M240.8 202.5 L244.1 202.1 L250.5 208.9 L247.1 209.3Z" fill="#f7f213" stroke="#f7f213" stroke-width=".4"/>
<path d="M240.8 202.5L244.1 202.1M247.1 209.3L250.5 208.9" stroke="#000" stroke-width=".45" fill="none"/>
<path d="M67.6 39.3 L71.4 38.9 L75.3 43.4 L71.5 43.9Z" fill="#1def1d" stroke="#1def1d" stroke-width=".4"/>
<path d="M67.6 39.3L71.4 38.9M71.5 43.9L75.3 43.4" stroke="#000" stroke-width=".45" fill="none"/>
<path d="M207.9 182.5 L209.8 184.3 L215.7 190.8 L213.7 189.1Z" fill="#a6a610" stroke="#a6a610" stroke-width=".4"/>
<path d="M207.9 182.5L209.8 184.3M213.7 189.1L215.7 190.8" stroke="#000" stroke-width=".45" fill="none"/>
<path d="M221.6 194.3 L224.9 195.3 L230.9 202.0 L227.6 201.0Z" fill="#df1212" stroke="#df1212" stroke-width=".4"/>
<path d="M221.6 194.3L224.9 195.3M227.6 201.0L230.9 202.0M221.6 194.3L227.6 201.0" stroke="#000" stroke-width=".45" fill="none"/>
<path d="M37.2 38.9 L48.7 37.1 L52.3 41.6 L40.7 43.5Z" fill="#f9f413" stroke="#f9f413" stroke-width=".4"/>
<path d="M37.2 38.9L48.7 37.1M40.7 43.5L52.3 41.6M37.2 38.9L40.7 43.5M48.7 37.1L52.3 41.6" stroke="#000" stroke-width=".45" fill="none"/>
<path d="M108.3 49.7 L110.6 50.7 L115.1 55.4 L112.8 54.4Z" fill="#df1212" stroke="#df1212" stroke-width=".4"/>
<path d="M108.3 49.7L110.6 50.7M112.8 54.4L115.1 55.4" stroke="#000" stroke-width=".45" fill="none"/>
<path d="M184.9 151.9 L186.8 155.9 L192.4 162.0 L190.4 158.0Z" fill="#251008" stroke="#251008" stroke-width=".4"/>
<path d="M184.9 151.9L186.8 155.9M190.4 158.0L192.4 162.0M184.9 151.9L190.4 158.0" stroke="#000" stroke-width=".3" fill="none"/>
<path d="M145.0 87.7 L147.2 92.0 L152.2 97.2 L150.0 93.0Z" fill="#241008" stroke="#241008" stroke-width=".4"/>
<path d="M145.0 87.7L147.2 92.0M150.0 93.0L152.2 97.2" stroke="#000" stroke-width=".3" fill="none"/>
<path d="M121.9 59.9 L124.2 62.0 L128.8 66.8 L126.6 64.7Z" fill="#abab10" stroke="#abab10" stroke-width=".4"/>
<path d="M121.9 59.9L124.2 62.0M126.6 64.7L128.8 66.8M121.9 59.9L126.6 64.7" stroke="#000" stroke-width=".45" fill="none"/>
<path d="M63.8 39.8 L67.6 39.3 L71.5 43.9 L67.6 44.4Z" fill="#1def1d" stroke="#1def1d" stroke-width=".4"/>
<path d="M63.8 39.8L67.6 39.3M67.6 44.4L71.5 43.9M63.8 39.8L67.6 44.4" stroke="#000" stroke-width=".45" fill="none"/>
<path d="M86.7 42.6 L90.4 42.6 L94.7 47.2 L90.8 47.2Z" fill="#0b0b0b" stroke="#0b0b0b" stroke-width=".4"/>
<path d="M86.7 42.6L90.4 42.6M90.8 47.2L94.7 47.2M90.4 42.6L94.7 47.2" stroke="#000" stroke-width=".45" fill="none"/>
<path d="M237.5 202.6 L240.8 202.5 L247.1 209.3 L243.8 209.5Z" fill="#f5f013" stroke="#f5f013" stroke-width=".4"/>
<path d="M237.5 202.6L240.8 202.5M243.8 209.5L247.1 209.3M237.5 202.6L243.8 209.5" stroke="#000" stroke-width=".45" fill="none"/>
<path d="M106.0 48.9 L108.3 49.7 L112.8 54.4 L110.5 53.6Z" fill="#e41212" stroke="#e41212" stroke-width=".4"/>
<path d="M106.0 48.9L108.3 49.7M110.5 53.6L112.8 54.4M106.0 48.9L110.5 53.6" stroke="#000" stroke-width=".45" fill="none"/>
<path d="M133.4 72.1 L135.7 75.2 L140.5 80.3 L138.2 77.1Z" fill="#247e13" stroke="#247e13" stroke-width=".4"/>
<path d="M133.4 72.1L135.7 75.2M138.2 77.1L140.5 80.3" stroke="#000" stroke-width=".3" fill="none"/>
<path d="M154.4 101.7 L156.6 106.5 L161.7 111.9 L159.5 107.2Z" fill="#4e1209" stroke="#4e1209" stroke-width=".4"/>
<path d="M154.4 101.7L156.6 106.5M159.5 107.2L161.7 111.9" stroke="#000" stroke-width=".3" fill="none"/>
<path d="M219.6 193.4 L221.6 194.3 L227.6 201.0 L225.6 200.1Z" fill="#1bcd1a" stroke="#1bcd1a" stroke-width=".4"/>
<path d="M219.6 193.4L221.6 194.3M225.6 200.1L227.6 201.0M221.6 194.3L227.6 201.0" stroke="#000" stroke-width=".45" fill="none"/>
<path d="M194.4 165.6 L196.3 168.8 L202.0 175.2 L200.0 171.9Z" fill="#65110a" stroke="#65110a" stroke-width=".4"/>
<path d="M194.4 165.6L196.3 168.8M200.0 171.9L202.0 175.2" stroke="#000" stroke-width=".3" fill="none"/>
<path d="M205.9 180.4 L207.9 182.5 L213.7 189.1 L211.8 187.0Z" fill="#95970f" stroke="#95970f" stroke-width=".4"/>
<path d="M205.9 180.4L207.9 182.5M211.8 187.0L213.7 189.1M205.9 180.4L211.8 187.0" stroke="#000" stroke-width=".3" fill="none"/>
<path d="M163.9 116.8 L166.0 121.7 L171.3 127.4 L169.1 122.5Z" fill="#535e10" stroke="#535e10" stroke-width=".4"/>
<path d="M163.9 116.8L166.0 121.7M169.1 122.5L171.3 127.4M163.9 116.8L169.1 122.5" stroke="#000" stroke-width=".3" fill="none"/>
<path d="M82.9 42.7 L86.7 42.6 L90.8 47.2 L87.0 47.4Z" fill="#0b0b0b" stroke="#0b0b0b" stroke-width=".4"/>
<path d="M82.9 42.7L86.7 42.6M87.0 47.4L90.8 47.2" stroke="#000" stroke-width=".45" fill="none"/>
<path d="M119.6 58.1 L121.9 59.9 L126.6 64.7 L124.3 62.9Z" fill="#0f0b09" stroke="#0f0b09" stroke-width=".4"/>
<path d="M119.6 58.1L121.9 59.9M124.3 62.9L126.6 64.7M121.9 59.9L126.6 64.7" stroke="#000" stroke-width=".45" fill="none"/>
<path d="M173.3 132.3 L175.4 137.1 L180.8 143.0 L178.8 138.2Z" fill="#2f5d12" stroke="#2f5d12" stroke-width=".4"/>
<path d="M173.3 132.3L175.4 137.1M178.8 138.2L180.8 143.0" stroke="#000" stroke-width=".3" fill="none"/>
<path d="M234.2 202.5 L237.5 202.6 L243.8 209.5 L240.5 209.4Z" fill="#0b0b0b" stroke="#0b0b0b" stroke-width=".4"/>
<path d="M234.2 202.5L237.5 202.6M240.5 209.4L243.8 209.5M237.5 202.6L243.8 209.5" stroke="#000" stroke-width=".45" fill="none"/>
<path d="M102.3 48.0 L106.0 48.9 L110.5 53.6 L106.7 52.7Z" fill="#1ce51c" stroke="#1ce51c" stroke-width=".4"/>
<path d="M102.3 48.0L106.0 48.9M106.7 52.7L110.5 53.6M106.0 48.9L110.5 53.6" stroke="#000" stroke-width=".45" fill="none"/>
<path d="M182.8 147.6 L184.9 151.9 L190.4 158.0 L188.4 153.7Z" fill="#545f10" stroke="#545f10" stroke-width=".4"/>
<path d="M182.8 147.6L184.9 151.9M188.4 153.7L190.4 158.0M184.9 151.9L190.4 158.0" stroke="#000" stroke-width=".3" fill="none"/>
<path d="M217.6 192.2 L219.6 193.4 L225.6 200.1 L223.7 199.0Z" fill="#1cc018" stroke="#1cc018" stroke-width=".4"/>
<path d="M217.6 192.2L219.6 193.4M223.7 199.0L225.6 200.1" stroke="#000" stroke-width=".45" fill="none"/>
<path d="M52.3 41.6 L63.8 39.8 L67.6 44.4 L56.0 46.2Z" fill="#f41313" stroke="#f41313" stroke-width=".4"/>
<path d="M52.3 41.6L63.8 39.8M56.0 46.2L67.6 44.4M52.3 41.6L56.0 46.2M63.8 39.8L67.6 44.4" stroke="#000" stroke-width=".45" fill="none"/>
<path d="M142.8 83.8 L145.0 87.7 L150.0 93.0 L147.7 89.0Z" fill="#210f08" stroke="#210f08" stroke-width=".4"/>
<path d="M142.8 83.8L145.0 87.7M147.7 89.0L150.0 93.0M142.8 83.8L147.7 89.0" stroke="#000" stroke-width=".3" fill="none"/>
<path d="M131.1 69.3 L133.4 72.1 L138.2 77.1 L136.0 74.3Z" fill="#228b14" stroke="#228b14" stroke-width=".4"/>
<path d="M131.1 69.3L133.4 72.1M136.0 74.3L138.2 77.1" stroke="#000" stroke-width=".3" fill="none"/>
<path d="M79.1 43.0 L82.9 42.7 L87.0 47.4 L83.2 47.7Z" fill="#0b0b0b" stroke="#0b0b0b" stroke-width=".4"/>
<path d="M79.1 43.0L82.9 42.7M83.2 47.7L87.0 47.4M79.1 43.0L83.2 47.7" stroke="#000" stroke-width=".45" fill="none"/>
<path d="M204.0 178.0 L205.9 180.4 L211.8 187.0 L209.8 184.5Z" fill="#190d08" stroke="#190d08" stroke-width=".4"/>
<path d="M204.0 178.0L205.9 180.4M209.8 184.5L211.8 187.0M205.9 180.4L211.8 187.0" stroke="#000" stroke-width=".3" fill="none"/>
<path d="M117.3 56.6 L119.6 58.1 L124.3 62.9 L122.0 61.4Z" fill="#0d0b0a" stroke="#0d0b0a" stroke-width=".4"/>
<path d="M117.3 56.6L119.6 58.1M122.0 61.4L124.3 62.9" stroke="#000" stroke-width=".45" fill="none"/>
<path d="M192.4 162.0 L194.4 165.6 L200.0 171.9 L198.1 168.3Z" fill="#5c110a" stroke="#5c110a" stroke-width=".4"/>
<path d="M192.4 162.0L194.4 165.6M198.1 168.3L200.0 171.9" stroke="#000" stroke-width=".3" fill="none"/>
<path d="M152.2 97.2 L154.4 101.7 L159.5 107.2 L157.3 102.6Z" fill="#501209" stroke="#501209" stroke-width=".4"/>
<path d="M152.2 97.2L154.4 101.7M157.3 102.6L159.5 107.2" stroke="#000" stroke-width=".3" fill="none"/>
<path d="M230.9 202.0 L234.2 202.5 L240.5 209.4 L237.2 208.9Z" fill="#0b0b0b" stroke="#0b0b0b" stroke-width=".4"/>
<path d="M230.9 202.0L234.2 202.5M237.2 208.9L240.5 209.4" stroke="#000" stroke-width=".45" fill="none"/>
<path d="M98.5 47.4 L102.3 48.0 L106.7 52.7 L102.8 52.1Z" fill="#1de91d" stroke="#1de91d" stroke-width=".4"/>
<path d="M98.5 47.4L102.3 48.0M102.8 52.1L106.7 52.7" stroke="#000" stroke-width=".45" fill="none"/>
<path d="M215.7 190.8 L217.6 192.2 L223.7 199.0 L221.7 197.5Z" fill="#1db217" stroke="#1db217" stroke-width=".4"/>
<path d="M215.7 190.8L217.6 192.2M221.7 197.5L223.7 199.0" stroke="#000" stroke-width=".45" fill="none"/>
<path d="M75.3 43.4 L79.1 43.0 L83.2 47.7 L79.3 48.1Z" fill="#f9f413" stroke="#f9f413" stroke-width=".4"/>
<path d="M75.3 43.4L79.1 43.0M79.3 48.1L83.2 47.7M79.1 43.0L83.2 47.7" stroke="#000" stroke-width=".45" fill="none"/>
<path d="M161.7 111.9 L163.9 116.8 L169.1 122.5 L167.0 117.6Z" fill="#281108" stroke="#281108" stroke-width=".4"/>
<path d="M161.7 111.9L163.9 116.8M167.0 117.6L169.1 122.5M163.9 116.8L169.1 122.5" stroke="#000" stroke-width=".3" fill="none"/>
<path d="M115.1 55.4 L117.3 56.6 L122.0 61.4 L119.7 60.2Z" fill="#0b0a0a" stroke="#0b0a0a" stroke-width=".4"/>
<path d="M115.1 55.4L117.3 56.6M119.7 60.2L122.0 61.4" stroke="#000" stroke-width=".45" fill="none"/>
<path d="M171.3 127.4 L173.3 132.3 L178.8 138.2 L176.7 133.3Z" fill="#2f5d12" stroke="#2f5d12" stroke-width=".4"/>
<path d="M171.3 127.4L173.3 132.3M176.7 133.3L178.8 138.2" stroke="#000" stroke-width=".3" fill="none"/>
<path d="M128.8 66.8 L131.1 69.3 L136.0 74.3 L133.7 71.8Z" fill="#209915" stroke="#209915" stroke-width=".4"/>
<path d="M128.8 66.8L131.1 69.3M133.7 71.8L136.0 74.3" stroke="#000" stroke-width=".45" fill="none"/>
<path d="M140.5 80.3 L142.8 83.8 L147.7 89.0 L145.5 85.5Z" fill="#6e750f" stroke="#6e750f" stroke-width=".4"/>
<path d="M140.5 80.3L142.8 83.8M145.5 85.5L147.7 89.0M142.8 83.8L147.7 89.0" stroke="#000" stroke-width=".3" fill="none"/>
<path d="M202.0 175.2 L204.0 178.0 L209.8 184.5 L207.9 181.7Z" fill="#1c0d08" stroke="#1c0d08" stroke-width=".4"/>
<path d="M202.0 175.2L204.0 178.0M207.9 181.7L209.8 184.5" stroke="#000" stroke-width=".3" fill="none"/>
<path d="M180.8 143.0 L182.8 147.6 L188.4 153.7 L186.4 149.1Z" fill="#535e10" stroke="#535e10" stroke-width=".4"/>
<path d="M180.8 143.0L182.8 147.6M186.4 149.1L188.4 153.7" stroke="#000" stroke-width=".3" fill="none"/>
<path d="M94.7 47.2 L98.5 47.4 L102.8 52.1 L99.0 51.9Z" fill="#1dec1d" stroke="#1dec1d" stroke-width=".4"/>
<path d="M94.7 47.2L98.5 47.4M99.0 51.9L102.8 52.1M94.7 47.2L99.0 51.9" stroke="#000" stroke-width=".45" fill="none"/>
<path d="M71.5 43.9 L75.3 43.4 L79.3 48.1 L75.5 48.5Z" fill="#f9f413" stroke="#f9f413" stroke-width=".4"/>
<path d="M71.5 43.9L75.3 43.4M75.5 48.5L79.3 48.1" stroke="#000" stroke-width=".45" fill="none"/>
<path d="M213.7 189.1 L215.7 190.8 L221.7 197.5 L219.7 195.8Z" fill="#1fa316" stroke="#1fa316" stroke-width=".4"/>
<path d="M213.7 189.1L215.7 190.8M219.7 195.8L221.7 197.5" stroke="#000" stroke-width=".45" fill="none"/>
<path d="M227.6 201.0 L230.9 202.0 L237.2 208.9 L233.8 207.9Z" fill="#0a0a0a" stroke="#0a0a0a" stroke-width=".4"/>
<path d="M227.6 201.0L230.9 202.0M233.8 207.9L237.2 208.9M227.6 201.0L233.8 207.9" stroke="#000" stroke-width=".45" fill="none"/>
<path d="M40.7 43.5 L52.3 41.6 L56.0 46.2 L44.3 48.1Z" fill="#1def1d" stroke="#1def1d" stroke-width=".4"/>
<path d="M40.7 43.5L52.3 41.6M44.3 48.1L56.0 46.2M40.7 43.5L44.3 48.1M52.3 41.6L56.0 46.2" stroke="#000" stroke-width=".45" fill="none"/>
<path d="M112.8 54.4 L115.1 55.4 L119.7 60.2 L117.4 59.2Z" fill="#0a0a0a" stroke="#0a0a0a" stroke-width=".4"/>
<path d="M112.8 54.4L115.1 55.4M117.4 59.2L119.7 60.2" stroke="#000" stroke-width=".45" fill="none"/>
<path d="M190.4 158.0 L192.4 162.0 L198.1 168.3 L196.1 164.3Z" fill="#54110a" stroke="#54110a" stroke-width=".4"/>
<path d="M190.4 158.0L192.4 162.0M196.1 164.3L198.1 168.3M190.4 158.0L196.1 164.3" stroke="#000" stroke-width=".3" fill="none"/>
<path d="M150.0 93.0 L152.2 97.2 L157.3 102.6 L155.1 98.4Z" fill="#56110a" stroke="#56110a" stroke-width=".4"/>
<path d="M150.0 93.0L152.2 97.2M155.1 98.4L157.3 102.6" stroke="#000" stroke-width=".3" fill="none"/>
<path d="M126.6 64.7 L128.8 66.8 L133.7 71.8 L131.4 69.7Z" fill="#1ea816" stroke="#1ea816" stroke-width=".4"/>
<path d="M126.6 64.7L128.8 66.8M131.4 69.7L133.7 71.8M126.6 64.7L131.4 69.7" stroke="#000" stroke-width=".45" fill="none"/>
<path d="M67.6 44.4 L71.5 43.9 L75.5 48.5 L71.6 49.1Z" fill="#f9f413" stroke="#f9f413" stroke-width=".4"/>
<path d="M67.6 44.4L71.5 43.9M71.6 49.1L75.5 48.5M67.6 44.4L71.6 49.1" stroke="#000" stroke-width=".45" fill="none"/>
<path d="M90.8 47.2 L94.7 47.2 L99.0 51.9 L95.1 51.9Z" fill="#f21313" stroke="#f21313" stroke-width=".4"/>
<path d="M90.8 47.2L94.7 47.2M95.1 51.9L99.0 51.9M94.7 47.2L99.0 51.9" stroke="#000" stroke-width=".45" fill="none"/>
<path d="M110.5 53.6 L112.8 54.4 L117.4 59.2 L115.1 58.4Z" fill="#0b0b0b" stroke="#0b0b0b" stroke-width=".4"/>
<path d="M110.5 53.6L112.8 54.4M115.1 58.4L117.4 59.2M110.5 53.6L115.1 58.4" stroke="#000" stroke-width=".45" fill="none"/>
<path d="M138.2 77.1 L140.5 80.3 L145.5 85.5 L143.2 82.2Z" fill="#7b800f" stroke="#7b800f" stroke-width=".4"/>
<path d="M138.2 77.1L140.5 80.3M143.2 82.2L145.5 85.5" stroke="#000" stroke-width=".3" fill="none"/>
<path d="M159.5 107.2 L161.7 111.9 L167.0 117.6 L164.8 112.8Z" fill="#281108" stroke="#281108" stroke-width=".4"/>
<path d="M159.5 107.2L161.7 111.9M164.8 112.8L167.0 117.6" stroke="#000" stroke-width=".3" fill="none"/>
<path d="M225.6 200.1 L227.6 201.0 L233.8 207.9 L231.9 207.0Z" fill="#d5d111" stroke="#d5d111" stroke-width=".4"/>
<path d="M225.6 200.1L227.6 201.0M231.9 207.0L233.8 207.9M227.6 201.0L233.8 207.9" stroke="#000" stroke-width=".45" fill="none"/>
<path d="M200.0 171.9 L202.0 175.2 L207.9 181.7 L205.9 178.4Z" fill="#1f0e08" stroke="#1f0e08" stroke-width=".4"/>
<path d="M200.0 171.9L202.0 175.2M205.9 178.4L207.9 181.7" stroke="#000" stroke-width=".3" fill="none"/>
<path d="M211.8 187.0 L213.7 189.1 L219.7 195.8 L217.8 193.7Z" fill="#219415" stroke="#219415" stroke-width=".4"/>
<path d="M211.8 187.0L213.7 189.1M217.8 193.7L219.7 195.8M211.8 187.0L217.8 193.7" stroke="#000" stroke-width=".3" fill="none"/>
<path d="M169.1 122.5 L171.3 127.4 L176.7 133.3 L174.6 128.3Z" fill="#2f5d12" stroke="#2f5d12" stroke-width=".4"/>
<path d="M169.1 122.5L171.3 127.4M174.6 128.3L176.7 133.3M169.1 122.5L174.6 128.3" stroke="#000" stroke-width=".3" fill="none"/>
<path d="M87.0 47.4 L90.8 47.2 L95.1 51.9 L91.3 52.1Z" fill="#f31313" stroke="#f31313" stroke-width=".4"/>
<path d="M87.0 47.4L90.8 47.2M91.3 52.1L95.1 51.9" stroke="#000" stroke-width=".45" fill="none"/>
<path d="M124.3 62.9 L126.6 64.7 L131.4 69.7 L129.0 67.9Z" fill="#b7110f" stroke="#b7110f" stroke-width=".4"/>
<path d="M124.3 62.9L126.6 64.7M129.0 67.9L131.4 69.7M126.6 64.7L131.4 69.7" stroke="#000" stroke-width=".45" fill="none"/>
<path d="M178.8 138.2 L180.8 143.0 L186.4 149.1 L184.3 144.3Z" fill="#535e10" stroke="#535e10" stroke-width=".4"/>
<path d="M178.8 138.2L180.8 143.0M184.3 144.3L186.4 149.1" stroke="#000" stroke-width=".3" fill="none"/>
<path d="M106.7 52.7 L110.5 53.6 L115.1 58.4 L111.2 57.5Z" fill="#efea13" stroke="#efea13" stroke-width=".4"/>
<path d="M106.7 52.7L110.5 53.6M111.2 57.5L115.1 58.4M110.5 53.6L115.1 58.4" stroke="#000" stroke-width=".45" fill="none"/>
<path d="M188.4 153.7 L190.4 158.0 L196.1 164.3 L194.1 160.0Z" fill="#2e5e11" stroke="#2e5e11" stroke-width=".4"/>
<path d="M188.4 153.7L190.4 158.0M194.1 160.0L196.1 164.3M190.4 158.0L196.1 164.3" stroke="#000" stroke-width=".3" fill="none"/>
<path d="M223.7 199.0 L225.6 200.1 L231.9 207.0 L229.9 205.9Z" fill="#c6c411" stroke="#c6c411" stroke-width=".4"/>
<path d="M223.7 199.0L225.6 200.1M229.9 205.9L231.9 207.0" stroke="#000" stroke-width=".45" fill="none"/>
<path d="M56.0 46.2 L67.6 44.4 L71.6 49.1 L59.9 50.9Z" fill="#0b0b0b" stroke="#0b0b0b" stroke-width=".4"/>
<path d="M56.0 46.2L67.6 44.4M59.9 50.9L71.6 49.1M56.0 46.2L59.9 50.9M67.6 44.4L71.6 49.1" stroke="#000" stroke-width=".45" fill="none"/>
<path d="M147.7 89.0 L150.0 93.0 L155.1 98.4 L152.9 94.4Z" fill="#5f110a" stroke="#5f110a" stroke-width=".4"/>
<path d="M147.7 89.0L150.0 93.0M152.9 94.4L155.1 98.4M147.7 89.0L152.9 94.4" stroke="#000" stroke-width=".3" fill="none"/>
<path d="M136.0 74.3 L138.2 77.1 L143.2 82.2 L140.9 79.4Z" fill="#8a8d0f" stroke="#8a8d0f" stroke-width=".4"/>
<path d="M136.0 74.3L138.2 77.1M140.9 79.4L143.2 82.2" stroke="#000" stroke-width=".3" fill="none"/>
<path d="M83.2 47.7 L87.0 47.4 L91.3 52.1 L87.4 52.4Z" fill="#f41313" stroke="#f41313" stroke-width=".4"/>
<path d="M83.2 47.7L87.0 47.4M87.4 52.4L91.3 52.1M83.2 47.7L87.4 52.4" stroke="#000" stroke-width=".45" fill="none"/>
<path d="M209.8 184.5 L211.8 187.0 L217.8 193.7 L215.8 191.2Z" fill="#80100c" stroke="#80100c" stroke-width=".4"/>
<path d="M209.8 184.5L211.8 187.0M215.8 191.2L217.8 193.7M211.8 187.0L217.8 193.7" stroke="#000" stroke-width=".3" fill="none"/>
<path d="M122.0 61.4 L124.3 62.9 L129.0 67.9 L126.7 66.4Z" fill="#c71110" stroke="#c71110" stroke-width=".4"/>
<path d="M122.0 61.4L124.3 62.9M126.7 66.4L129.0 67.9" stroke="#000" stroke-width=".45" fill="none"/>
<path d="M198.1 168.3 L200.0 171.9 L205.9 178.4 L203.9 174.8Z" fill="#220f08" stroke="#220f08" stroke-width=".4"/>
<path d="M198.1 168.3L200.0 171.9M203.9 174.8L205.9 178.4" stroke="#000" stroke-width=".3" fill="none"/>
<path d="M157.3 102.6 L159.5 107.2 L164.8 112.8 L162.6 108.2Z" fill="#261008" stroke="#261008" stroke-width=".4"/>
<path d="M157.3 102.6L159.5 107.2M162.6 108.2L164.8 112.8" stroke="#000" stroke-width=".3" fill="none"/>
<path d="M102.8 52.1 L106.7 52.7 L111.2 57.5 L107.3 57.0Z" fill="#f3ee13" stroke="#f3ee13" stroke-width=".4"/>
<path d="M102.8 52.1L106.7 52.7M107.3 57.0L111.2 57.5" stroke="#000" stroke-width=".45" fill="none"/>
<path d="M221.7 197.5 L223.7 199.0 L229.9 205.9 L227.9 204.4Z" fill="#b7b610" stroke="#b7b610" stroke-width=".4"/>
<path d="M221.7 197.5L223.7 199.0M227.9 204.4L229.9 205.9" stroke="#000" stroke-width=".45" fill="none"/>
<path d="M79.3 48.1 L83.2 47.7 L87.4 52.4 L83.5 52.8Z" fill="#1def1d" stroke="#1def1d" stroke-width=".4"/>
<path d="M79.3 48.1L83.2 47.7M83.5 52.8L87.4 52.4M83.2 47.7L87.4 52.4" stroke="#000" stroke-width=".45" fill="none"/>
<path d="M167.0 117.6 L169.1 122.5 L174.6 128.3 L172.4 123.4Z" fill="#4e1209" stroke="#4e1209" stroke-width=".4"/>
<path d="M167.0 117.6L169.1 122.5M172.4 123.4L174.6 128.3M169.1 122.5L174.6 128.3" stroke="#000" stroke-width=".3" fill="none"/>
<path d="M119.7 60.2 L122.0 61.4 L126.7 66.4 L124.4 65.2Z" fill="#d51111" stroke="#d51111" stroke-width=".4"/>
<path d="M119.7 60.2L122.0 61.4M124.4 65.2L126.7 66.4" stroke="#000" stroke-width=".45" fill="none"/>
<path d="M176.7 133.3 L178.8 138.2 L184.3 144.3 L182.2 139.3Z" fill="#535e10" stroke="#535e10" stroke-width=".4"/>
<path d="M176.7 133.3L178.8 138.2M182.2 139.3L184.3 144.3" stroke="#000" stroke-width=".3" fill="none"/>
<path d="M133.7 71.8 L136.0 74.3 L140.9 79.4 L138.6 76.9Z" fill="#9a9c0f" stroke="#9a9c0f" stroke-width=".4"/>
<path d="M133.7 71.8L136.0 74.3M138.6 76.9L140.9 79.4" stroke="#000" stroke-width=".45" fill="none"/>
<path d="M145.5 85.5 L147.7 89.0 L152.9 94.4 L150.6 90.8Z" fill="#277312" stroke="#277312" stroke-width=".4"/>
<path d="M145.5 85.5L147.7 89.0M150.6 90.8L152.9 94.4M147.7 89.0L152.9 94.4" stroke="#000" stroke-width=".3" fill="none"/>
<path d="M207.9 181.7 L209.8 184.5 L215.8 191.2 L213.9 188.4Z" fill="#72100b" stroke="#72100b" stroke-width=".4"/>
<path d="M207.9 181.7L209.8 184.5M213.9 188.4L215.8 191.2" stroke="#000" stroke-width=".3" fill="none"/>
<path d="M186.4 149.1 L188.4 153.7 L194.1 160.0 L192.1 155.3Z" fill="#2f5d12" stroke="#2f5d12" stroke-width=".4"/>
<path d="M186.4 149.1L188.4 153.7M192.1 155.3L194.1 160.0" stroke="#000" stroke-width=".3" fill="none"/>
<path d="M99.0 51.9 L102.8 52.1 L107.3 57.0 L103.4 56.8Z" fill="#f6f113" stroke="#f6f113" stroke-width=".4"/>
<path d="M99.0 51.9L102.8 52.1M103.4 56.8L107.3 57.0M99.0 51.9L103.4 56.8" stroke="#000" stroke-width=".45" fill="none"/>
<path d="M75.5 48.5 L79.3 48.1 L83.5 52.8 L79.6 53.3Z" fill="#1def1d" stroke="#1def1d" stroke-width=".4"/>
<path d="M75.5 48.5L79.3 48.1M79.6 53.3L83.5 52.8" stroke="#000" stroke-width=".45" fill="none"/>
<path d="M219.7 195.8 L221.7 197.5 L227.9 204.4 L225.9 202.7Z" fill="#a6a610" stroke="#a6a610" stroke-width=".4"/>
<path d="M219.7 195.8L221.7 197.5M225.9 202.7L227.9 204.4" stroke="#000" stroke-width=".45" fill="none"/>
<path d="M44.3 48.1 L56.0 46.2 L59.9 50.9 L48.0 52.9Z" fill="#f9f413" stroke="#f9f413" stroke-width=".4"/>
<path d="M44.3 48.1L56.0 46.2M48.0 52.9L59.9 50.9M44.3 48.1L48.0 52.9M56.0 46.2L59.9 50.9" stroke="#000" stroke-width=".45" fill="none"/>
<path d="M117.4 59.2 L119.7 60.2 L124.4 65.2 L122.1 64.2Z" fill="#df1212" stroke="#df1212" stroke-width=".4"/>
<path d="M117.4 59.2L119.7 60.2M122.1 64.2L124.4 65.2" stroke="#000" stroke-width=".45" fill="none"/>
<path d="M196.1 164.3 L198.1 168.3 L203.9 174.8 L202.0 170.8Z" fill="#251008" stroke="#251008" stroke-width=".4"/>
<path d="M196.1 164.3L198.1 168.3M202.0 170.8L203.9 174.8M196.1 164.3L202.0 170.8" stroke="#000" stroke-width=".3" fill="none"/>
<path d="M155.1 98.4 L157.3 102.6 L162.6 108.2 L160.4 103.9Z" fill="#241008" stroke="#241008" stroke-width=".4"/>
<path d="M155.1 98.4L157.3 102.6M160.4 103.9L162.6 108.2" stroke="#000" stroke-width=".3" fill="none"/>
<path d="M131.4 69.7 L133.7 71.8 L138.6 76.9 L136.3 74.8Z" fill="#abab10" stroke="#abab10" stroke-width=".4"/>
<path d="M131.4 69.7L133.7 71.8M136.3 74.8L138.6 76.9M131.4 69.7L136.3 74.8" stroke="#000" stroke-width=".45" fill="none"/>
<path d="M71.6 49.1 L75.5 48.5 L79.6 53.3 L75.7 53.9Z" fill="#1def1d" stroke="#1def1d" stroke-width=".4"/>
<path d="M71.6 49.1L75.5 48.5M75.7 53.9L79.6 53.3M71.6 49.1L75.7 53.9" stroke="#000" stroke-width=".45" fill="none"/>
<path d="M95.1 51.9 L99.0 51.9 L103.4 56.8 L99.6 56.8Z" fill="#0b0b0b" stroke="#0b0b0b" stroke-width=".4"/>
<path d="M95.1 51.9L99.0 51.9M99.6 56.8L103.4 56.8M99.0 51.9L103.4 56.8" stroke="#000" stroke-width=".45" fill="none"/>
<path d="M115.1 58.4 L117.4 59.2 L122.1 64.2 L119.8 63.4Z" fill="#e41212" stroke="#e41212" stroke-width=".4"/>
<path d="M115.1 58.4L117.4 59.2M119.8 63.4L122.1 64.2M115.1 58.4L119.8 63.4" stroke="#000" stroke-width=".45" fill="none"/>
<path d="M143.2 82.2 L145.5 85.5 L150.6 90.8 L148.3 87.6Z" fill="#247e13" stroke="#247e13" stroke-width=".4"/>
<path d="M143.2 82.2L145.5 85.5M148.3 87.6L150.6 90.8" stroke="#000" stroke-width=".3" fill="none"/>
<path d="M164.8 112.8 L167.0 117.6 L172.4 123.4 L170.3 118.5Z" fill="#4e1209" stroke="#4e1209" stroke-width=".4"/>
<path d="M164.8 112.8L167.0 117.6M170.3 118.5L172.4 123.4" stroke="#000" stroke-width=".3" fill="none"/>
<path d="M205.9 178.4 L207.9 181.7 L213.9 188.4 L211.9 185.1Z" fill="#65110a" stroke="#65110a" stroke-width=".4"/>
<path d="M205.9 178.4L207.9 181.7M211.9 185.1L213.9 188.4" stroke="#000" stroke-width=".3" fill="none"/>
<path d="M217.8 193.7 L219.7 195.8 L225.9 202.7 L224.0 200.6Z" fill="#95970f" stroke="#95970f" stroke-width=".4"/>
<path d="M217.8 193.7L219.7 195.8M224.0 200.6L225.9 202.7M217.8 193.7L224.0 200.6" stroke="#000" stroke-width=".3" fill="none"/>
<path d="M174.6 128.3 L176.7 133.3 L182.2 139.3 L180.1 134.3Z" fill="#535e10" stroke="#535e10" stroke-width=".4"/>
<path d="M174.6 128.3L176.7 133.3M180.1 134.3L182.2 139.3M174.6 128.3L180.1 134.3" stroke="#000" stroke-width=".3" fill="none"/>
<path d="M91.3 52.1 L95.1 51.9 L99.6 56.8 L95.6 57.0Z" fill="#0b0b0b" stroke="#0b0b0b" stroke-width=".4"/>
<path d="M91.3 52.1L95.1 51.9M95.6 57.0L99.6 56.8" stroke="#000" stroke-width=".45" fill="none"/>
<path d="M129.0 67.9 L131.4 69.7 L136.3 74.8 L134.0 73.0Z" fill="#0f0b09" stroke="#0f0b09" stroke-width=".4"/>
<path d="M129.0 67.9L131.4 69.7M134.0 73.0L136.3 74.8M131.4 69.7L136.3 74.8" stroke="#000" stroke-width=".45" fill="none"/>
<path d="M184.3 144.3 L186.4 149.1 L192.1 155.3 L190.0 150.5Z" fill="#2f5d12" stroke="#2f5d12" stroke-width=".4"/>
<path d="M184.3 144.3L186.4 149.1M190.0 150.5L192.1 155.3" stroke="#000" stroke-width=".3" fill="none"/>
<path d="M111.2 57.5 L115.1 58.4 L119.8 63.4 L115.9 62.5Z" fill="#1ce51c" stroke="#1ce51c" stroke-width=".4"/>
<path d="M111.2 57.5L115.1 58.4M115.9 62.5L119.8 63.4M115.1 58.4L119.8 63.4" stroke="#000" stroke-width=".45" fill="none"/>
<path d="M194.1 160.0 L196.1 164.3 L202.0 170.8 L200.0 166.4Z" fill="#545f10" stroke="#545f10" stroke-width=".4"/>
<path d="M194.1 160.0L196.1 164.3M200.0 166.4L202.0 170.8M196.1 164.3L202.0 170.8" stroke="#000" stroke-width=".3" fill="none"/>
<path d="M59.9 50.9 L71.6 49.1 L75.7 53.9 L63.8 55.8Z" fill="#f41313" stroke="#f41313" stroke-width=".4"/>
<path d="M59.9 50.9L71.6 49.1M63.8 55.8L75.7 53.9M59.9 50.9L63.8 55.8M71.6 49.1L75.7 53.9" stroke="#000" stroke-width=".45" fill="none"/>
<path d="M152.9 94.4 L155.1 98.4 L160.4 103.9 L158.1 99.9Z" fill="#210f08" stroke="#210f08" stroke-width=".4"/>
<path d="M152.9 94.4L155.1 98.4M158.1 99.9L160.4 103.9M152.9 94.4L158.1 99.9" stroke="#000" stroke-width=".3" fill="none"/>
<path d="M140.9 79.4 L143.2 82.2 L148.3 87.6 L146.0 84.7Z" fill="#228b14" stroke="#228b14" stroke-width=".4"/>
<path d="M140.9 79.4L143.2 82.2M146.0 84.7L148.3 87.6" stroke="#000" stroke-width=".3" fill="none"/>
<path d="M87.4 52.4 L91.3 52.1 L95.6 57.0 L91.7 57.3Z" fill="#0b0b0b" stroke="#0b0b0b" stroke-width=".4"/>
<path d="M87.4 52.4L91.3 52.1M91.7 57.3L95.6 57.0M87.4 52.4L91.7 57.3" stroke="#000" stroke-width=".45" fill="none"/>
<path d="M215.8 191.2 L217.8 193.7 L224.0 200.6 L222.0 198.2Z" fill="#190d08" stroke="#190d08" stroke-width=".4"/>
<path d="M215.8 191.2L217.8 193.7M222.0 198.2L224.0 200.6M217.8 193.7L224.0 200.6" stroke="#000" stroke-width=".3" fill="none"/>
<path d="M126.7 66.4 L129.0 67.9 L134.0 73.0 L131.6 71.5Z" fill="#0d0b0a" stroke="#0d0b0a" stroke-width=".4"/>
<path d="M126.7 66.4L129.0 67.9M131.6 71.5L134.0 73.0" stroke="#000" stroke-width=".45" fill="none"/>
<path d="M203.9 174.8 L205.9 178.4 L211.9 185.1 L210.0 181.5Z" fill="#5c110a" stroke="#5c110a" stroke-width=".4"/>
<path d="M203.9 174.8L205.9 178.4M210.0 181.5L211.9 185.1" stroke="#000" stroke-width=".3" fill="none"/>
<path d="M162.6 108.2 L164.8 112.8 L170.3 118.5 L168.1 113.9Z" fill="#501209" stroke="#501209" stroke-width=".4"/>
<path d="M162.6 108.2L164.8 112.8M168.1 113.9L170.3 118.5" stroke="#000" stroke-width=".3" fill="none"/>
<path d="M107.3 57.0 L111.2 57.5 L115.9 62.5 L111.9 62.0Z" fill="#1de91d" stroke="#1de91d" stroke-width=".4"/>
<path d="M107.3 57.0L111.2 57.5M111.9 62.0L115.9 62.5" stroke="#000" stroke-width=".45" fill="none"/>
<path d="M83.5 52.8 L87.4 52.4 L91.7 57.3 L87.8 57.8Z" fill="#f9f413" stroke="#f9f413" stroke-width=".4"/>
<path d="M83.5 52.8L87.4 52.4M87.8 57.8L91.7 57.3M87.4 52.4L91.7 57.3" stroke="#000" stroke-width=".45" fill="none"/>
<path d="M172.4 123.4 L174.6 128.3 L180.1 134.3 L178.0 129.3Z" fill="#281108" stroke="#281108" stroke-width=".4"/>
<path d="M172.4 123.4L174.6 128.3M178.0 129.3L180.1 134.3M174.6 128.3L180.1 134.3" stroke="#000" stroke-width=".3" fill="none"/>
<path d="M124.4 65.2 L126.7 66.4 L131.6 71.5 L129.3 70.3Z" fill="#0b0a0a" stroke="#0b0a0a" stroke-width=".4"/>
<path d="M124.4 65.2L126.7 66.4M129.3 70.3L131.6 71.5" stroke="#000" stroke-width=".45" fill="none"/>
<path d="M182.2 139.3 L184.3 144.3 L190.0 150.5 L188.0 145.5Z" fill="#2f5d12" stroke="#2f5d12" stroke-width=".4"/>
<path d="M182.2 139.3L184.3 144.3M188.0 145.5L190.0 150.5" stroke="#000" stroke-width=".3" fill="none"/>
<path d="M138.6 76.9 L140.9 79.4 L146.0 84.7 L143.7 82.2Z" fill="#209915" stroke="#209915" stroke-width=".4"/>
<path d="M138.6 76.9L140.9 79.4M143.7 82.2L146.0 84.7" stroke="#000" stroke-width=".45" fill="none"/>
<path d="M150.6 90.8 L152.9 94.4 L158.1 99.9 L155.9 96.3Z" fill="#6e750f" stroke="#6e750f" stroke-width=".4"/>
<path d="M150.6 90.8L152.9 94.4M155.9 96.3L158.1 99.9M152.9 94.4L158.1 99.9" stroke="#000" stroke-width=".3" fill="none"/>
<path d="M213.9 188.4 L215.8 191.2 L222.0 198.2 L220.1 195.3Z" fill="#1c0d08" stroke="#1c0d08" stroke-width=".4"/>
<path d="M213.9 188.4L215.8 191.2M220.1 195.3L222.0 198.2" stroke="#000" stroke-width=".3" fill="none"/>
<path d="M192.1 155.3 L194.1 160.0 L200.0 166.4 L198.0 161.8Z" fill="#535e10" stroke="#535e10" stroke-width=".4"/>
<path d="M192.1 155.3L194.1 160.0M198.0 161.8L200.0 166.4" stroke="#000" stroke-width=".3" fill="none"/>
<path d="M103.4 56.8 L107.3 57.0 L111.9 62.0 L108.0 61.8Z" fill="#1dec1d" stroke="#1dec1d" stroke-width=".4"/>
<path d="M103.4 56.8L107.3 57.0M108.0 61.8L111.9 62.0M103.4 56.8L108.0 61.8" stroke="#000" stroke-width=".45" fill="none"/>
<path d="M79.6 53.3 L83.5 52.8 L87.8 57.8 L83.8 58.3Z" fill="#f9f413" stroke="#f9f413" stroke-width=".4"/>
<path d="M79.6 53.3L83.5 52.8M83.8 58.3L87.8 57.8" stroke="#000" stroke-width=".45" fill="none"/>
<path d="M48.0 52.9 L59.9 50.9 L63.8 55.8 L51.8 57.9Z" fill="#1def1d" stroke="#1def1d" stroke-width=".4"/>
<path d="M48.0 52.9L59.9 50.9M51.8 57.9L63.8 55.8M48.0 52.9L51.8 57.9M59.9 50.9L63.8 55.8" stroke="#000" stroke-width=".45" fill="none"/>
<path d="M122.1 64.2 L124.4 65.2 L129.3 70.3 L126.9 69.3Z" fill="#0a0a0a" stroke="#0a0a0a" stroke-width=".4"/>
<path d="M122.1 64.2L124.4 65.2M126.9 69.3L129.3 70.3" stroke="#000" stroke-width=".45" fill="none"/>
<path d="M202.0 170.8 L203.9 174.8 L210.0 181.5 L208.0 177.5Z" fill="#54110a" stroke="#54110a" stroke-width=".4"/>
<path d="M202.0 170.8L203.9 174.8M208.0 177.5L210.0 181.5M202.0 170.8L208.0 177.5" stroke="#000" stroke-width=".3" fill="none"/>
<path d="M160.4 103.9 L162.6 108.2 L168.1 113.9 L165.8 109.6Z" fill="#56110a" stroke="#56110a" stroke-width=".4"/>
<path d="M160.4 103.9L162.6 108.2M165.8 109.6L168.1 113.9" stroke="#000" stroke-width=".3" fill="none"/>
<path d="M136.3 74.8 L138.6 76.9 L143.7 82.2 L141.4 80.1Z" fill="#1ea816" stroke="#1ea816" stroke-width=".4"/>
<path d="M136.3 74.8L138.6 76.9M141.4 80.1L143.7 82.2M136.3 74.8L141.4 80.1" stroke="#000" stroke-width=".45" fill="none"/>
<path d="M75.7 53.9 L79.6 53.3 L83.8 58.3 L79.9 58.9Z" fill="#f9f413" stroke="#f9f413" stroke-width=".4"/>
<path d="M75.7 53.9L79.6 53.3M79.9 58.9L83.8 58.3M75.7 53.9L79.9 58.9" stroke="#000" stroke-width=".45" fill="none"/>
<path d="M99.6 56.8 L103.4 56.8 L108.0 61.8 L104.1 61.8Z" fill="#f21313" stroke="#f21313" stroke-width=".4"/>
<path d="M99.6 56.8L103.4 56.8M104.1 61.8L108.0 61.8M103.4 56.8L108.0 61.8" stroke="#000" stroke-width=".45" fill="none"/>
<path d="M119.8 63.4 L122.1 64.2 L126.9 69.3 L124.6 68.5Z" fill="#0b0b0b" stroke="#0b0b0b" stroke-width=".4"/>
<path d="M119.8 63.4L122.1 64.2M124.6 68.5L126.9 69.3M119.8 63.4L124.6 68.5" stroke="#000" stroke-width=".45" fill="none"/>
<path d="M148.3 87.6 L150.6 90.8 L155.9 96.3 L153.6 93.0Z" fill="#7b800f" stroke="#7b800f" stroke-width=".4"/>
<path d="M148.3 87.6L150.6 90.8M153.6 93.0L155.9 96.3" stroke="#000" stroke-width=".3" fill="none"/>
<path d="M170.3 118.5 L172.4 123.4 L178.0 129.3 L175.8 124.5Z" fill="#281108" stroke="#281108" stroke-width=".4"/>
<path d="M170.3 118.5L172.4 123.4M175.8 124.5L178.0 129.3" stroke="#000" stroke-width=".3" fill="none"/>
<path d="M211.9 185.1 L213.9 188.4 L220.1 195.3 L218.1 192.0Z" fill="#1f0e08" stroke="#1f0e08" stroke-width=".4"/>
<path d="M211.9 185.1L213.9 188.4M218.1 192.0L220.1 195.3" stroke="#000" stroke-width=".3" fill="none"/>
<path d="M180.1 134.3 L182.2 139.3 L188.0 145.5 L185.9 140.4Z" fill="#2f5d12" stroke="#2f5d12" stroke-width=".4"/>
<path d="M180.1 134.3L182.2 139.3M185.9 140.4L188.0 145.5M180.1 134.3L185.9 140.4" stroke="#000" stroke-width=".3" fill="none"/>
<path d="M95.6 57.0 L99.6 56.8 L104.1 61.8 L100.1 62.0Z" fill="#f31313" stroke="#f31313" stroke-width=".4"/>
<path d="M95.6 57.0L99.6 56.8M100.1 62.0L104.1 61.8" stroke="#000" stroke-width=".45" fill="none"/>
<path d="M134.0 73.0 L136.3 74.8 L141.4 80.1 L139.0 78.3Z" fill="#b7110f" stroke="#b7110f" stroke-width=".4"/>
<path d="M134.0 73.0L136.3 74.8M139.0 78.3L141.4 80.1M136.3 74.8L141.4 80.1" stroke="#000" stroke-width=".45" fill="none"/>
<path d="M190.0 150.5 L192.1 155.3 L198.0 161.8 L195.9 156.9Z" fill="#535e10" stroke="#535e10" stroke-width=".4"/>
<path d="M190.0 150.5L192.1 155.3M195.9 156.9L198.0 161.8" stroke="#000" stroke-width=".3" fill="none"/>
<path d="M115.9 62.5 L119.8 63.4 L124.6 68.5 L120.7 67.6Z" fill="#efea13" stroke="#efea13" stroke-width=".4"/>
<path d="M115.9 62.5L119.8 63.4M120.7 67.6L124.6 68.5M119.8 63.4L124.6 68.5" stroke="#000" stroke-width=".45" fill="none"/>
<path d="M200.0 166.4 L202.0 170.8 L208.0 177.5 L206.0 173.1Z" fill="#2e5e11" stroke="#2e5e11" stroke-width=".4"/>
<path d="M200.0 166.4L202.0 170.8M206.0 173.1L208.0 177.5M202.0 170.8L208.0 177.5" stroke="#000" stroke-width=".3" fill="none"/>
<path d="M63.8 55.8 L75.7 53.9 L79.9 58.9 L67.9 60.8Z" fill="#0b0b0b" stroke="#0b0b0b" stroke-width=".4"/>
<path d="M63.8 55.8L75.7 53.9M67.9 60.8L79.9 58.9M63.8 55.8L67.9 60.8M75.7 53.9L79.9 58.9" stroke="#000" stroke-width=".45" fill="none"/>
<path d="M158.1 99.9 L160.4 103.9 L165.8 109.6 L163.6 105.6Z" fill="#5f110a" stroke="#5f110a" stroke-width=".4"/>
<path d="M158.1 99.9L160.4 103.9M163.6 105.6L165.8 109.6M158.1 99.9L163.6 105.6" stroke="#000" stroke-width=".3" fill="none"/>
<path d="M146.0 84.7 L148.3 87.6 L153.6 93.0 L151.3 90.1Z" fill="#8a8d0f" stroke="#8a8d0f" stroke-width=".4"/>
<path d="M146.0 84.7L148.3 87.6M151.3 90.1L153.6 93.0" stroke="#000" stroke-width=".3" fill="none"/>
<path d="M91.7 57.3 L95.6 57.0 L100.1 62.0 L96.2 62.4Z" fill="#f41313" stroke="#f41313" stroke-width=".4"/>
<path d="M91.7 57.3L95.6 57.0M96.2 62.4L100.1 62.0M91.7 57.3L96.2 62.4" stroke="#000" stroke-width=".45" fill="none"/>
<path d="M131.6 71.5 L134.0 73.0 L139.0 78.3 L136.7 76.8Z" fill="#c71110" stroke="#c71110" stroke-width=".4"/>
<path d="M131.6 71.5L134.0 73.0M136.7 76.8L139.0 78.3" stroke="#000" stroke-width=".45" fill="none"/>
<path d="M210.0 181.5 L211.9 185.1 L218.1 192.0 L216.2 188.4Z" fill="#220f08" stroke="#220f08" stroke-width=".4"/>
<path d="M210.0 181.5L211.9 185.1M216.2 188.4L218.1 192.0" stroke="#000" stroke-width=".3" fill="none"/>
<path d="M168.1 113.9 L170.3 118.5 L175.8 124.5 L173.6 119.8Z" fill="#261008" stroke="#261008" stroke-width=".4"/>
<path d="M168.1 113.9L170.3 118.5M173.6 119.8L175.8 124.5" stroke="#000" stroke-width=".3" fill="none"/>
<path d="M111.9 62.0 L115.9 62.5 L120.7 67.6 L116.7 67.1Z" fill="#f3ee13" stroke="#f3ee13" stroke-width=".4"/>
<path d="M111.9 62.0L115.9 62.5M116.7 67.1L120.7 67.6" stroke="#000" stroke-width=".45" fill="none"/>
<path d="M87.8 57.8 L91.7 57.3 L96.2 62.4 L92.2 62.8Z" fill="#1def1d" stroke="#1def1d" stroke-width=".4"/>
<path d="M87.8 57.8L91.7 57.3M92.2 62.8L96.2 62.4M91.7 57.3L96.2 62.4" stroke="#000" stroke-width=".45" fill="none"/>
<path d="M178.0 129.3 L180.1 134.3 L185.9 140.4 L183.8 135.4Z" fill="#4e1209" stroke="#4e1209" stroke-width=".4"/>
<path d="M178.0 129.3L180.1 134.3M183.8 135.4L185.9 140.4M180.1 134.3L185.9 140.4" stroke="#000" stroke-width=".3" fill="none"/>
<path d="M129.3 70.3 L131.6 71.5 L136.7 76.8 L134.3 75.5Z" fill="#d51111" stroke="#d51111" stroke-width=".4"/>
<path d="M129.3 70.3L131.6 71.5M134.3 75.5L136.7 76.8" stroke="#000" stroke-width=".45" fill="none"/>
<path d="M188.0 145.5 L190.0 150.5 L195.9 156.9 L193.9 151.9Z" fill="#535e10" stroke="#535e10" stroke-width=".4"/>
<path d="M188.0 145.5L190.0 150.5M193.9 151.9L195.9 156.9" stroke="#000" stroke-width=".3" fill="none"/>
<path d="M143.7 82.2 L146.0 84.7 L151.3 90.1 L148.9 87.6Z" fill="#9a9c0f" stroke="#9a9c0f" stroke-width=".4"/>
<path d="M143.7 82.2L146.0 84.7M148.9 87.6L151.3 90.1" stroke="#000" stroke-width=".45" fill="none"/>
<path d="M155.9 96.3 L158.1 99.9 L163.6 105.6 L161.3 101.9Z" fill="#277312" stroke="#277312" stroke-width=".4"/>
<path d="M155.9 96.3L158.1 99.9M161.3 101.9L163.6 105.6M158.1 99.9L163.6 105.6" stroke="#000" stroke-width=".3" fill="none"/>
<path d="M198.0 161.8 L200.0 166.4 L206.0 173.1 L204.0 168.4Z" fill="#2f5d12" stroke="#2f5d12" stroke-width=".4"/>
<path d="M198.0 161.8L200.0 166.4M204.0 168.4L206.0 173.1" stroke="#000" stroke-width=".3" fill="none"/>
<path d="M108.0 61.8 L111.9 62.0 L116.7 67.1 L112.7 66.9Z" fill="#f6f113" stroke="#f6f113" stroke-width=".4"/>
<path d="M108.0 61.8L111.9 62.0M112.7 66.9L116.7 67.1M108.0 61.8L112.7 66.9" stroke="#000" stroke-width=".45" fill="none"/>
<path d="M83.8 58.3 L87.8 57.8 L92.2 62.8 L88.2 63.4Z" fill="#1def1d" stroke="#1def1d" stroke-width=".4"/>
<path d="M83.8 58.3L87.8 57.8M88.2 63.4L92.2 62.8" stroke="#000" stroke-width=".45" fill="none"/>
<path d="M51.8 57.9 L63.8 55.8 L67.9 60.8 L55.7 63.0Z" fill="#f9f413" stroke="#f9f413" stroke-width=".4"/>
<path d="M51.8 57.9L63.8 55.8M55.7 63.0L67.9 60.8M51.8 57.9L55.7 63.0M63.8 55.8L67.9 60.8" stroke="#000" stroke-width=".45" fill="none"/>
<path d="M126.9 69.3 L129.3 70.3 L134.3 75.5 L131.9 74.5Z" fill="#df1212" stroke="#df1212" stroke-width=".4"/>
<path d="M126.9 69.3L129.3 70.3M131.9 74.5L134.3 75.5" stroke="#000" stroke-width=".45" fill="none"/>
<path d="M208.0 177.5 L210.0 181.5 L216.2 188.4 L214.2 184.3Z" fill="#251008" stroke="#251008" stroke-width=".4"/>
<path d="M208.0 177.5L210.0 181.5M214.2 184.3L216.2 188.4M208.0 177.5L214.2 184.3" stroke="#000" stroke-width=".3" fill="none"/>
<path d="M165.8 109.6 L168.1 113.9 L173.6 119.8 L171.4 115.4Z" fill="#241008" stroke="#241008" stroke-width=".4"/>
<path d="M165.8 109.6L168.1 113.9M171.4 115.4L173.6 119.8" stroke="#000" stroke-width=".3" fill="none"/>
<path d="M141.4 80.1 L143.7 82.2 L148.9 87.6 L146.6 85.5Z" fill="#abab10" stroke="#abab10" stroke-width=".4"/>
<path d="M141.4 80.1L143.7 82.2M146.6 85.5L148.9 87.6M141.4 80.1L146.6 85.5" stroke="#000" stroke-width=".45" fill="none"/>
<path d="M79.9 58.9 L83.8 58.3 L88.2 63.4 L84.2 64.0Z" fill="#1def1d" stroke="#1def1d" stroke-width=".4"/>
<path d="M79.9 58.9L83.8 58.3M84.2 64.0L88.2 63.4M79.9 58.9L84.2 64.0" stroke="#000" stroke-width=".45" fill="none"/>
<path d="M104.1 61.8 L108.0 61.8 L112.7 66.9 L108.8 66.9Z" fill="#0b0b0b" stroke="#0b0b0b" stroke-width=".4"/>
<path d="M104.1 61.8L108.0 61.8M108.8 66.9L112.7 66.9M108.0 61.8L112.7 66.9" stroke="#000" stroke-width=".45" fill="none"/>
<path d="M124.6 68.5 L126.9 69.3 L131.9 74.5 L129.6 73.7Z" fill="#e41212" stroke="#e41212" stroke-width=".4"/>
<path d="M124.6 68.5L126.9 69.3M129.6 73.7L131.9 74.5M124.6 68.5L129.6 73.7" stroke="#000" stroke-width=".45" fill="none"/>
<path d="M153.6 93.0 L155.9 96.3 L161.3 101.9 L159.0 98.6Z" fill="#247e13" stroke="#247e13" stroke-width=".4"/>
<path d="M153.6 93.0L155.9 96.3M159.0 98.6L161.3 101.9" stroke="#000" stroke-width=".3" fill="none"/>
<path d="M175.8 124.5 L178.0 129.3 L183.8 135.4 L181.6 130.6Z" fill="#4e1209" stroke="#4e1209" stroke-width=".4"/>
<path d="M175.8 124.5L178.0 129.3M181.6 130.6L183.8 135.4" stroke="#000" stroke-width=".3" fill="none"/>
<path d="M185.9 140.4 L188.0 145.5 L193.9 151.9 L191.8 146.8Z" fill="#535e10" stroke="#535e10" stroke-width=".4"/>
<path d="M185.9 140.4L188.0 145.5M191.8 146.8L193.9 151.9M185.9 140.4L191.8 146.8" stroke="#000" stroke-width=".3" fill="none"/>
<path d="M100.1 62.0 L104.1 61.8 L108.8 66.9 L104.8 67.2Z" fill="#0b0b0b" stroke="#0b0b0b" stroke-width=".4"/>
<path d="M100.1 62.0L104.1 61.8M104.8 67.2L108.8 66.9" stroke="#000" stroke-width=".45" fill="none"/>
<path d="M139.0 78.3 L141.4 80.1 L146.6 85.5 L144.2 83.7Z" fill="#0f0b09" stroke="#0f0b09" stroke-width=".4"/>
<path d="M139.0 78.3L141.4 80.1M144.2 83.7L146.6 85.5M141.4 80.1L146.6 85.5" stroke="#000" stroke-width=".45" fill="none"/>
<path d="M195.9 156.9 L198.0 161.8 L204.0 168.4 L202.0 163.5Z" fill="#2f5d12" stroke="#2f5d12" stroke-width=".4"/>
<path d="M195.9 156.9L198.0 161.8M202.0 163.5L204.0 168.4" stroke="#000" stroke-width=".3" fill="none"/>
<path d="M120.7 67.6 L124.6 68.5 L129.6 73.7 L125.6 72.8Z" fill="#1ce51c" stroke="#1ce51c" stroke-width=".4"/>
<path d="M120.7 67.6L124.6 68.5M125.6 72.8L129.6 73.7M124.6 68.5L129.6 73.7" stroke="#000" stroke-width=".45" fill="none"/>
<path d="M206.0 173.1 L208.0 177.5 L214.2 184.3 L212.2 179.9Z" fill="#545f10" stroke="#545f10" stroke-width=".4"/>
<path d="M206.0 173.1L208.0 177.5M212.2 179.9L214.2 184.3M208.0 177.5L214.2 184.3" stroke="#000" stroke-width=".3" fill="none"/>
<path d="M67.9 60.8 L79.9 58.9 L84.2 64.0 L72.0 66.0Z" fill="#f41313" stroke="#f41313" stroke-width=".4"/>
<path d="M67.9 60.8L79.9 58.9M72.0 66.0L84.2 64.0M67.9 60.8L72.0 66.0M79.9 58.9L84.2 64.0" stroke="#000" stroke-width=".45" fill="none"/>
<path d="M163.6 105.6 L165.8 109.6 L171.4 115.4 L169.2 111.4Z" fill="#210f08" stroke="#210f08" stroke-width=".4"/>
<path d="M163.6 105.6L165.8 109.6M169.2 111.4L171.4 115.4M163.6 105.6L169.2 111.4" stroke="#000" stroke-width=".3" fill="none"/>
<path d="M151.3 90.1 L153.6 93.0 L159.0 98.6 L156.7 95.8Z" fill="#228b14" stroke="#228b14" stroke-width=".4"/>
<path d="M151.3 90.1L153.6 93.0M156.7 95.8L159.0 98.6" stroke="#000" stroke-width=".3" fill="none"/>
<path d="M96.2 62.4 L100.1 62.0 L104.8 67.2 L100.8 67.6Z" fill="#0b0b0b" stroke="#0b0b0b" stroke-width=".4"/>
<path d="M96.2 62.4L100.1 62.0M100.8 67.6L104.8 67.2M96.2 62.4L100.8 67.6" stroke="#000" stroke-width=".45" fill="none"/>
<path d="M136.7 76.8 L139.0 78.3 L144.2 83.7 L141.9 82.2Z" fill="#0d0b0a" stroke="#0d0b0a" stroke-width=".4"/>
<path d="M136.7 76.8L139.0 78.3M141.9 82.2L144.2 83.7" stroke="#000" stroke-width=".45" fill="none"/>
<path d="M173.6 119.8 L175.8 124.5 L181.6 130.6 L179.4 125.9Z" fill="#501209" stroke="#501209" stroke-width=".4"/>
<path d="M173.6 119.8L175.8 124.5M179.4 125.9L181.6 130.6" stroke="#000" stroke-width=".3" fill="none"/>
<path d="M116.7 67.1 L120.7 67.6 L125.6 72.8 L121.6 72.4Z" fill="#1de91d" stroke="#1de91d" stroke-width=".4"/>
<path d="M116.7 67.1L120.7 67.6M121.6 72.4L125.6 72.8" stroke="#000" stroke-width=".45" fill="none"/>
<path d="M92.2 62.8 L96.2 62.4 L100.8 67.6 L96.7 68.0Z" fill="#f9f413" stroke="#f9f413" stroke-width=".4"/>
<path d="M92.2 62.8L96.2 62.4M96.7 68.0L100.8 67.6M96.2 62.4L100.8 67.6" stroke="#000" stroke-width=".45" fill="none"/>
<path d="M183.8 135.4 L185.9 140.4 L191.8 146.8 L189.7 141.7Z" fill="#281108" stroke="#281108" stroke-width=".4"/>
<path d="M183.8 135.4L185.9 140.4M189.7 141.7L191.8 146.8M185.9 140.4L191.8 146.8" stroke="#000" stroke-width=".3" fill="none"/>
<path d="M134.3 75.5 L136.7 76.8 L141.9 82.2 L139.5 80.9Z" fill="#0b0a0a" stroke="#0b0a0a" stroke-width=".4"/>
<path d="M134.3 75.5L136.7 76.8M139.5 80.9L141.9 82.2" stroke="#000" stroke-width=".45" fill="none"/>
<path d="M193.9 151.9 L195.9 156.9 L202.0 163.5 L199.9 158.4Z" fill="#2f5d12" stroke="#2f5d12" stroke-width=".4"/>
<path d="M193.9 151.9L195.9 156.9M199.9 158.4L202.0 163.5" stroke="#000" stroke-width=".3" fill="none"/>
<path d="M148.9 87.6 L151.3 90.1 L156.7 95.8 L154.3 93.2Z" fill="#209915" stroke="#209915" stroke-width=".4"/>
<path d="M148.9 87.6L151.3 90.1M154.3 93.2L156.7 95.8" stroke="#000" stroke-width=".45" fill="none"/>
<path d="M161.3 101.9 L163.6 105.6 L169.2 111.4 L166.9 107.7Z" fill="#6e750f" stroke="#6e750f" stroke-width=".4"/>
<path d="M161.3 101.9L163.6 105.6M166.9 107.7L169.2 111.4M163.6 105.6L169.2 111.4" stroke="#000" stroke-width=".3" fill="none"/>
<path d="M204.0 168.4 L206.0 173.1 L212.2 179.9 L210.2 175.2Z" fill="#535e10" stroke="#535e10" stroke-width=".4"/>
<path d="M204.0 168.4L206.0 173.1M210.2 175.2L212.2 179.9" stroke="#000" stroke-width=".3" fill="none"/>
<path d="M112.7 66.9 L116.7 67.1 L121.6 72.4 L117.6 72.2Z" fill="#1dec1d" stroke="#1dec1d" stroke-width=".4"/>
<path d="M112.7 66.9L116.7 67.1M117.6 72.2L121.6 72.4M112.7 66.9L117.6 72.2" stroke="#000" stroke-width=".45" fill="none"/>
<path d="M88.2 63.4 L92.2 62.8 L96.7 68.0 L92.7 68.6Z" fill="#f9f413" stroke="#f9f413" stroke-width=".4"/>
<path d="M88.2 63.4L92.2 62.8M92.7 68.6L96.7 68.0" stroke="#000" stroke-width=".45" fill="none"/>
<path d="M55.7 63.0 L67.9 60.8 L72.0 66.0 L59.7 68.2Z" fill="#1def1d" stroke="#1def1d" stroke-width=".4"/>
<path d="M55.7 63.0L67.9 60.8M59.7 68.2L72.0 66.0M55.7 63.0L59.7 68.2M67.9 60.8L72.0 66.0" stroke="#000" stroke-width=".45" fill="none"/>
<path d="M131.9 74.5 L134.3 75.5 L139.5 80.9 L137.1 79.9Z" fill="#0a0a0a" stroke="#0a0a0a" stroke-width=".4"/>
<path d="M131.9 74.5L134.3 75.5M137.1 79.9L139.5 80.9" stroke="#000" stroke-width=".45" fill="none"/>
<path d="M171.4 115.4 L173.6 119.8 L179.4 125.9 L177.2 121.5Z" fill="#56110a" stroke="#56110a" stroke-width=".4"/>
<path d="M171.4 115.4L173.6 119.8M177.2 121.5L179.4 125.9" stroke="#000" stroke-width=".3" fill="none"/>
<path d="M146.6 85.5 L148.9 87.6 L154.3 93.2 L152.0 91.1Z" fill="#1ea816" stroke="#1ea816" stroke-width=".4"/>
<path d="M146.6 85.5L148.9 87.6M152.0 91.1L154.3 93.2M146.6 85.5L152.0 91.1" stroke="#000" stroke-width=".45" fill="none"/>
<path d="M84.2 64.0 L88.2 63.4 L92.7 68.6 L88.6 69.2Z" fill="#f9f413" stroke="#f9f413" stroke-width=".4"/>
<path d="M84.2 64.0L88.2 63.4M88.6 69.2L92.7 68.6M84.2 64.0L88.6 69.2" stroke="#000" stroke-width=".45" fill="none"/>
<path d="M108.8 66.9 L112.7 66.9 L117.6 72.2 L113.6 72.3Z" fill="#f21313" stroke="#f21313" stroke-width=".4"/>
<path d="M108.8 66.9L112.7 66.9M113.6 72.3L117.6 72.2M112.7 66.9L117.6 72.2" stroke="#000" stroke-width=".45" fill="none"/>
<path d="M129.6 73.7 L131.9 74.5 L137.1 79.9 L134.7 79.2Z" fill="#0b0b0b" stroke="#0b0b0b" stroke-width=".4"/>
<path d="M129.6 73.7L131.9 74.5M134.7 79.2L137.1 79.9M129.6 73.7L134.7 79.2" stroke="#000" stroke-width=".45" fill="none"/>
<path d="M159.0 98.6 L161.3 101.9 L166.9 107.7 L164.6 104.4Z" fill="#7b800f" stroke="#7b800f" stroke-width=".4"/>
<path d="M159.0 98.6L161.3 101.9M164.6 104.4L166.9 107.7" stroke="#000" stroke-width=".3" fill="none"/>
<path d="M181.6 130.6 L183.8 135.4 L189.7 141.7 L187.5 136.8Z" fill="#281108" stroke="#281108" stroke-width=".4"/>
<path d="M181.6 130.6L183.8 135.4M187.5 136.8L189.7 141.7" stroke="#000" stroke-width=".3" fill="none"/>
<path d="M191.8 146.8 L193.9 151.9 L199.9 158.4 L197.9 153.3Z" fill="#2f5d12" stroke="#2f5d12" stroke-width=".4"/>
<path d="M191.8 146.8L193.9 151.9M197.9 153.3L199.9 158.4M191.8 146.8L197.9 153.3" stroke="#000" stroke-width=".3" fill="none"/>
<path d="M104.8 67.2 L108.8 66.9 L113.6 72.3 L109.5 72.5Z" fill="#f31313" stroke="#f31313" stroke-width=".4"/>
<path d="M104.8 67.2L108.8 66.9M109.5 72.5L113.6 72.3" stroke="#000" stroke-width=".45" fill="none"/>
<path d="M144.2 83.7 L146.6 85.5 L152.0 91.1 L149.6 89.3Z" fill="#b7110f" stroke="#b7110f" stroke-width=".4"/>
<path d="M144.2 83.7L146.6 85.5M149.6 89.3L152.0 91.1M146.6 85.5L152.0 91.1" stroke="#000" stroke-width=".45" fill="none"/>
<path d="M202.0 163.5 L204.0 168.4 L210.2 175.2 L208.2 170.3Z" fill="#535e10" stroke="#535e10" stroke-width=".4"/>
<path d="M202.0 163.5L204.0 168.4M208.2 170.3L210.2 175.2" stroke="#000" stroke-width=".3" fill="none"/>
<path d="M125.6 72.8 L129.6 73.7 L134.7 79.2 L130.7 78.3Z" fill="#efea13" stroke="#efea13" stroke-width=".4"/>
<path d="M125.6 72.8L129.6 73.7M130.7 78.3L134.7 79.2M129.6 73.7L134.7 79.2" stroke="#000" stroke-width=".45" fill="none"/>
<path d="M72.0 66.0 L84.2 64.0 L88.6 69.2 L76.3 71.3Z" fill="#0b0b0b" stroke="#0b0b0b" stroke-width=".4"/>
<path d="M72.0 66.0L84.2 64.0M76.3 71.3L88.6 69.2M72.0 66.0L76.3 71.3M84.2 64.0L88.6 69.2" stroke="#000" stroke-width=".45" fill="none"/>
<path d="M169.2 111.4 L171.4 115.4 L177.2 121.5 L174.9 117.4Z" fill="#5f110a" stroke="#5f110a" stroke-width=".4"/>
<path d="M169.2 111.4L171.4 115.4M174.9 117.4L177.2 121.5M169.2 111.4L174.9 117.4" stroke="#000" stroke-width=".3" fill="none"/>
<path d="M156.7 95.8 L159.0 98.6 L164.6 104.4 L162.2 101.5Z" fill="#8a8d0f" stroke="#8a8d0f" stroke-width=".4"/>
<path d="M156.7 95.8L159.0 98.6M162.2 101.5L164.6 104.4" stroke="#000" stroke-width=".3" fill="none"/>
<path d="M100.8 67.6 L104.8 67.2 L109.5 72.5 L105.5 72.9Z" fill="#f41313" stroke="#f41313" stroke-width=".4"/>
<path d="M100.8 67.6L104.8 67.2M105.5 72.9L109.5 72.5M100.8 67.6L105.5 72.9" stroke="#000" stroke-width=".45" fill="none"/>
<path d="M141.9 82.2 L144.2 83.7 L149.6 89.3 L147.2 87.7Z" fill="#c71110" stroke="#c71110" stroke-width=".4"/>
<path d="M141.9 82.2L144.2 83.7M147.2 87.7L149.6 89.3" stroke="#000" stroke-width=".45" fill="none"/>
<path d="M179.4 125.9 L181.6 130.6 L187.5 136.8 L185.3 132.1Z" fill="#261008" stroke="#261008" stroke-width=".4"/>
<path d="M179.4 125.9L181.6 130.6M185.3 132.1L187.5 136.8" stroke="#000" stroke-width=".3" fill="none"/>
<path d="M121.6 72.4 L125.6 72.8 L130.7 78.3 L126.7 77.8Z" fill="#f3ee13" stroke="#f3ee13" stroke-width=".4"/>
<path d="M121.6 72.4L125.6 72.8M126.7 77.8L130.7 78.3" stroke="#000" stroke-width=".45" fill="none"/>
<path d="M96.7 68.0 L100.8 67.6 L105.5 72.9 L101.4 73.4Z" fill="#1def1d" stroke="#1def1d" stroke-width=".4"/>
<path d="M96.7 68.0L100.8 67.6M101.4 73.4L105.5 72.9M100.8 67.6L105.5 72.9" stroke="#000" stroke-width=".45" fill="none"/>
<path d="M189.7 141.7 L191.8 146.8 L197.9 153.3 L195.8 148.3Z" fill="#4e1209" stroke="#4e1209" stroke-width=".4"/>
<path d="M189.7 141.7L191.8 146.8M195.8 148.3L197.9 153.3M191.8 146.8L197.9 153.3" stroke="#000" stroke-width=".3" fill="none"/>
<path d="M139.5 80.9 L141.9 82.2 L147.2 87.7 L144.8 86.5Z" fill="#d51111" stroke="#d51111" stroke-width=".4"/>
<path d="M139.5 80.9L141.9 82.2M144.8 86.5L147.2 87.7" stroke="#000" stroke-width=".45" fill="none"/>
<path d="M199.9 158.4 L202.0 163.5 L208.2 170.3 L206.2 165.2Z" fill="#535e10" stroke="#535e10" stroke-width=".4"/>
<path d="M199.9 158.4L202.0 163.5M206.2 165.2L208.2 170.3" stroke="#000" stroke-width=".3" fill="none"/>
<path d="M154.3 93.2 L156.7 95.8 L162.2 101.5 L159.9 99.0Z" fill="#9a9c0f" stroke="#9a9c0f" stroke-width=".4"/>
<path d="M154.3 93.2L156.7 95.8M159.9 99.0L162.2 101.5" stroke="#000" stroke-width=".45" fill="none"/>
<path d="M166.9 107.7 L169.2 111.4 L174.9 117.4 L172.6 113.7Z" fill="#277312" stroke="#277312" stroke-width=".4"/>
<path d="M166.9 107.7L169.2 111.4M172.6 113.7L174.9 117.4M169.2 111.4L174.9 117.4" stroke="#000" stroke-width=".3" fill="none"/>
<path d="M117.6 72.2 L121.6 72.4 L126.7 77.8 L122.6 77.6Z" fill="#f6f113" stroke="#f6f113" stroke-width=".4"/>
<path d="M117.6 72.2L121.6 72.4M122.6 77.6L126.7 77.8M117.6 72.2L122.6 77.6" stroke="#000" stroke-width=".45" fill="none"/>
<path d="M92.7 68.6 L96.7 68.0 L101.4 73.4 L97.3 74.0Z" fill="#1def1d" stroke="#1def1d" stroke-width=".4"/>
<path d="M92.7 68.6L96.7 68.0M97.3 74.0L101.4 73.4" stroke="#000" stroke-width=".45" fill="none"/>
<path d="M59.7 68.2 L72.0 66.0 L76.3 71.3 L63.8 73.7Z" fill="#f9f413" stroke="#f9f413" stroke-width=".4"/>
<path d="M59.7 68.2L72.0 66.0M63.8 73.7L76.3 71.3M59.7 68.2L63.8 73.7M72.0 66.0L76.3 71.3" stroke="#000" stroke-width=".45" fill="none"/>
<path d="M137.1 79.9 L139.5 80.9 L144.8 86.5 L142.4 85.5Z" fill="#df1212" stroke="#df1212" stroke-width=".4"/>
<path d="M137.1 79.9L139.5 80.9M142.4 85.5L144.8 86.5" stroke="#000" stroke-width=".45" fill="none"/>
<path d="M177.2 121.5 L179.4 125.9 L185.3 132.1 L183.1 127.7Z" fill="#241008" stroke="#241008" stroke-width=".4"/>
<path d="M177.2 121.5L179.4 125.9M183.1 127.7L185.3 132.1" stroke="#000" stroke-width=".3" fill="none"/>
<path d="M152.0 91.1 L154.3 93.2 L159.9 99.0 L157.5 96.8Z" fill="#abab10" stroke="#abab10" stroke-width=".4"/>
<path d="M152.0 91.1L154.3 93.2M157.5 96.8L159.9 99.0M152.0 91.1L157.5 96.8" stroke="#000" stroke-width=".45" fill="none"/>
<path d="M88.6 69.2 L92.7 68.6 L97.3 74.0 L93.2 74.7Z" fill="#1def1d" stroke="#1def1d" stroke-width=".4"/>
<path d="M88.6 69.2L92.7 68.6M93.2 74.7L97.3 74.0M88.6 69.2L93.2 74.7" stroke="#000" stroke-width=".45" fill="none"/>
<path d="M113.6 72.3 L117.6 72.2 L122.6 77.6 L118.5 77.7Z" fill="#0b0b0b" stroke="#0b0b0b" stroke-width=".4"/>
<path d="M113.6 72.3L117.6 72.2M118.5 77.7L122.6 77.6M117.6 72.2L122.6 77.6" stroke="#000" stroke-width=".45" fill="none"/>
<path d="M134.7 79.2 L137.1 79.9 L142.4 85.5 L140.0 84.7Z" fill="#e41212" stroke="#e41212" stroke-width=".4"/>
<path d="M134.7 79.2L137.1 79.9M140.0 84.7L142.4 85.5M134.7 79.2L140.0 84.7" stroke="#000" stroke-width=".45" fill="none"/>
<path d="M164.6 104.4 L166.9 107.7 L172.6 113.7 L170.3 110.4Z" fill="#247e13" stroke="#247e13" stroke-width=".4"/>
<path d="M164.6 104.4L166.9 107.7M170.3 110.4L172.6 113.7" stroke="#000" stroke-width=".3" fill="none"/>
<path d="M187.5 136.8 L189.7 141.7 L195.8 148.3 L193.6 143.3Z" fill="#4e1209" stroke="#4e1209" stroke-width=".4"/>
<path d="M187.5 136.8L189.7 141.7M193.6 143.3L195.8 148.3" stroke="#000" stroke-width=".3" fill="none"/>
<path d="M197.9 153.3 L199.9 158.4 L206.2 165.2 L204.1 160.1Z" fill="#535e10" stroke="#535e10" stroke-width=".4"/>
<path d="M197.9 153.3L199.9 158.4M204.1 160.1L206.2 165.2M197.9 153.3L204.1 160.1" stroke="#000" stroke-width=".3" fill="none"/>
<path d="M109.5 72.5 L113.6 72.3 L118.5 77.7 L114.5 78.0Z" fill="#0b0b0b" stroke="#0b0b0b" stroke-width=".4"/>
<path d="M109.5 72.5L113.6 72.3M114.5 78.0L118.5 77.7" stroke="#000" stroke-width=".45" fill="none"/>
<path d="M149.6 89.3 L152.0 91.1 L157.5 96.8 L155.1 95.0Z" fill="#0f0b09" stroke="#0f0b09" stroke-width=".4"/>
<path d="M149.6 89.3L152.0 91.1M155.1 95.0L157.5 96.8M152.0 91.1L157.5 96.8" stroke="#000" stroke-width=".45" fill="none"/>
<path d="M130.7 78.3 L134.7 79.2 L140.0 84.7 L135.9 83.9Z" fill="#1ce51c" stroke="#1ce51c" stroke-width=".4"/>
<path d="M130.7 78.3L134.7 79.2M135.9 83.9L140.0 84.7M134.7 79.2L140.0 84.7" stroke="#000" stroke-width=".45" fill="none"/>
<path d="M76.3 71.3 L88.6 69.2 L93.2 74.7 L80.8 76.8Z" fill="#f41313" stroke="#f41313" stroke-width=".4"/>
<path d="M76.3 71.3L88.6 69.2M80.8 76.8L93.2 74.7M76.3 71.3L80.8 76.8M88.6 69.2L93.2 74.7" stroke="#000" stroke-width=".45" fill="none"/>
<path d="M174.9 117.4 L177.2 121.5 L183.1 127.7 L180.9 123.6Z" fill="#210f08" stroke="#210f08" stroke-width=".4"/>
<path d="M174.9 117.4L177.2 121.5M180.9 123.6L183.1 127.7M174.9 117.4L180.9 123.6" stroke="#000" stroke-width=".3" fill="none"/>
<path d="M162.2 101.5 L164.6 104.4 L170.3 110.4 L168.0 107.5Z" fill="#228b14" stroke="#228b14" stroke-width=".4"/>
<path d="M162.2 101.5L164.6 104.4M168.0 107.5L170.3 110.4" stroke="#000" stroke-width=".3" fill="none"/>
<path d="M105.5 72.9 L109.5 72.5 L114.5 78.0 L110.4 78.4Z" fill="#0b0b0b" stroke="#0b0b0b" stroke-width=".4"/>
<path d="M105.5 72.9L109.5 72.5M110.4 78.4L114.5 78.0M105.5 72.9L110.4 78.4" stroke="#000" stroke-width=".45" fill="none"/>
<path d="M147.2 87.7 L149.6 89.3 L155.1 95.0 L152.7 93.5Z" fill="#0d0b0a" stroke="#0d0b0a" stroke-width=".4"/>
<path d="M147.2 87.7L149.6 89.3M152.7 93.5L155.1 95.0" stroke="#000" stroke-width=".45" fill="none"/>
<path d="M185.3 132.1 L187.5 136.8 L193.6 143.3 L191.4 138.6Z" fill="#501209" stroke="#501209" stroke-width=".4"/>
<path d="M185.3 132.1L187.5 136.8M191.4 138.6L193.6 143.3" stroke="#000" stroke-width=".3" fill="none"/>
<path d="M126.7 77.8 L130.7 78.3 L135.9 83.9 L131.9 83.4Z" fill="#1de91d" stroke="#1de91d" stroke-width=".4"/>
<path d="M126.7 77.8L130.7 78.3M131.9 83.4L135.9 83.9" stroke="#000" stroke-width=".45" fill="none"/>
<path d="M101.4 73.4 L105.5 72.9 L110.4 78.4 L106.2 79.0Z" fill="#f9f413" stroke="#f9f413" stroke-width=".4"/>
<path d="M101.4 73.4L105.5 72.9M106.2 79.0L110.4 78.4M105.5 72.9L110.4 78.4" stroke="#000" stroke-width=".45" fill="none"/>
<path d="M195.8 148.3 L197.9 153.3 L204.1 160.1 L202.1 155.0Z" fill="#281108" stroke="#281108" stroke-width=".4"/>
<path d="M195.8 148.3L197.9 153.3M202.1 155.0L204.1 160.1M197.9 153.3L204.1 160.1" stroke="#000" stroke-width=".3" fill="none"/>
<path d="M144.8 86.5 L147.2 87.7 L152.7 93.5 L150.3 92.3Z" fill="#0b0a0a" stroke="#0b0a0a" stroke-width=".4"/>
<path d="M144.8 86.5L147.2 87.7M150.3 92.3L152.7 93.5" stroke="#000" stroke-width=".45" fill="none"/>
<path d="M159.9 99.0 L162.2 101.5 L168.0 107.5 L165.6 105.0Z" fill="#209915" stroke="#209915" stroke-width=".4"/>
<path d="M159.9 99.0L162.2 101.5M165.6 105.0L168.0 107.5" stroke="#000" stroke-width=".45" fill="none"/>
<path d="M172.6 113.7 L174.9 117.4 L180.9 123.6 L178.6 119.9Z" fill="#6e750f" stroke="#6e750f" stroke-width=".4"/>
<path d="M172.6 113.7L174.9 117.4M178.6 119.9L180.9 123.6M174.9 117.4L180.9 123.6" stroke="#000" stroke-width=".3" fill="none"/>
<path d="M122.6 77.6 L126.7 77.8 L131.9 83.4 L127.8 83.3Z" fill="#1dec1d" stroke="#1dec1d" stroke-width=".4"/>
<path d="M122.6 77.6L126.7 77.8M127.8 83.3L131.9 83.4M122.6 77.6L127.8 83.3" stroke="#000" stroke-width=".45" fill="none"/>
<path d="M97.3 74.0 L101.4 73.4 L106.2 79.0 L102.1 79.6Z" fill="#f9f413" stroke="#f9f413" stroke-width=".4"/>
<path d="M97.3 74.0L101.4 73.4M102.1 79.6L106.2 79.0" stroke="#000" stroke-width=".45" fill="none"/>
<path d="M63.8 73.7 L76.3 71.3 L80.8 76.8 L68.1 79.2Z" fill="#1def1d" stroke="#1def1d" stroke-width=".4"/>
<path d="M63.8 73.7L76.3 71.3M68.1 79.2L80.8 76.8M63.8 73.7L68.1 79.2M76.3 71.3L80.8 76.8" stroke="#000" stroke-width=".45" fill="none"/>
<path d="M142.4 85.5 L144.8 86.5 L150.3 92.3 L147.9 91.3Z" fill="#0a0a0a" stroke="#0a0a0a" stroke-width=".4"/>
<path d="M142.4 85.5L144.8 86.5M147.9 91.3L150.3 92.3" stroke="#000" stroke-width=".45" fill="none"/>
<path d="M183.1 127.7 L185.3 132.1 L191.4 138.6 L189.2 134.1Z" fill="#56110a" stroke="#56110a" stroke-width=".4"/>
<path d="M183.1 127.7L185.3 132.1M189.2 134.1L191.4 138.6" stroke="#000" stroke-width=".3" fill="none"/>
<path d="M157.5 96.8 L159.9 99.0 L165.6 105.0 L163.2 102.8Z" fill="#1ea816" stroke="#1ea816" stroke-width=".4"/>
<path d="M157.5 96.8L159.9 99.0M163.2 102.8L165.6 105.0M157.5 96.8L163.2 102.8" stroke="#000" stroke-width=".45" fill="none"/>
<path d="M93.2 74.7 L97.3 74.0 L102.1 79.6 L97.9 80.2Z" fill="#f9f413" stroke="#f9f413" stroke-width=".4"/>
<path d="M93.2 74.7L97.3 74.0M97.9 80.2L102.1 79.6M93.2 74.7L97.9 80.2" stroke="#000" stroke-width=".45" fill="none"/>
<path d="M118.5 77.7 L122.6 77.6 L127.8 83.3 L123.7 83.4Z" fill="#f21313" stroke="#f21313" stroke-width=".4"/>
<path d="M118.5 77.7L122.6 77.6M123.7 83.4L127.8 83.3M122.6 77.6L127.8 83.3" stroke="#000" stroke-width=".45" fill="none"/>
<path d="M140.0 84.7 L142.4 85.5 L147.9 91.3 L145.4 90.5Z" fill="#0b0b0b" stroke="#0b0b0b" stroke-width=".4"/>
<path d="M140.0 84.7L142.4 85.5M145.4 90.5L147.9 91.3M140.0 84.7L145.4 90.5" stroke="#000" stroke-width=".45" fill="none"/>
<path d="M170.3 110.4 L172.6 113.7 L178.6 119.9 L176.3 116.6Z" fill="#7b800f" stroke="#7b800f" stroke-width=".4"/>
<path d="M170.3 110.4L172.6 113.7M176.3 116.6L178.6 119.9" stroke="#000" stroke-width=".3" fill="none"/>
<path d="M193.6 143.3 L195.8 148.3 L202.1 155.0 L199.9 150.0Z" fill="#281108" stroke="#281108" stroke-width=".4"/>
<path d="M193.6 143.3L195.8 148.3M199.9 150.0L202.1 155.0" stroke="#000" stroke-width=".3" fill="none"/>
<path d="M114.5 78.0 L118.5 77.7 L123.7 83.4 L119.5 83.7Z" fill="#f31313" stroke="#f31313" stroke-width=".4"/>
<path d="M114.5 78.0L118.5 77.7M119.5 83.7L123.7 83.4" stroke="#000" stroke-width=".45" fill="none"/>
<path d="M155.1 95.0 L157.5 96.8 L163.2 102.8 L160.8 100.9Z" fill="#b7110f" stroke="#b7110f" stroke-width=".4"/>
<path d="M155.1 95.0L157.5 96.8M160.8 100.9L163.2 102.8M157.5 96.8L163.2 102.8" stroke="#000" stroke-width=".45" fill="none"/>
<path d="M135.9 83.9 L140.0 84.7 L145.4 90.5 L141.4 89.6Z" fill="#efea13" stroke="#efea13" stroke-width=".4"/>
<path d="M135.9 83.9L140.0 84.7M141.4 89.6L145.4 90.5M140.0 84.7L145.4 90.5" stroke="#000" stroke-width=".45" fill="none"/>
<path d="M80.8 76.8 L93.2 74.7 L97.9 80.2 L85.3 82.5Z" fill="#0b0b0b" stroke="#0b0b0b" stroke-width=".4"/>
<path d="M80.8 76.8L93.2 74.7M85.3 82.5L97.9 80.2M80.8 76.8L85.3 82.5M93.2 74.7L97.9 80.2" stroke="#000" stroke-width=".45" fill="none"/>
<path d="M180.9 123.6 L183.1 127.7 L189.2 134.1 L187.0 130.0Z" fill="#5f110a" stroke="#5f110a" stroke-width=".4"/>
<path d="M180.9 123.6L183.1 127.7M187.0 130.0L189.2 134.1M180.9 123.6L187.0 130.0" stroke="#000" stroke-width=".3" fill="none"/>
<path d="M168.0 107.5 L170.3 110.4 L176.3 116.6 L173.9 113.6Z" fill="#8a8d0f" stroke="#8a8d0f" stroke-width=".4"/>
<path d="M168.0 107.5L170.3 110.4M173.9 113.6L176.3 116.6" stroke="#000" stroke-width=".3" fill="none"/>
<path d="M110.4 78.4 L114.5 78.0 L119.5 83.7 L115.4 84.1Z" fill="#f41313" stroke="#f41313" stroke-width=".4"/>
<path d="M110.4 78.4L114.5 78.0M115.4 84.1L119.5 83.7M110.4 78.4L115.4 84.1" stroke="#000" stroke-width=".45" fill="none"/>
<path d="M152.7 93.5 L155.1 95.0 L160.8 100.9 L158.4 99.4Z" fill="#c71110" stroke="#c71110" stroke-width=".4"/>
<path d="M152.7 93.5L155.1 95.0M158.4 99.4L160.8 100.9" stroke="#000" stroke-width=".45" fill="none"/>
<path d="M191.4 138.6 L193.6 143.3 L199.9 150.0 L197.8 145.2Z" fill="#261008" stroke="#261008" stroke-width=".4"/>
<path d="M191.4 138.6L193.6 143.3M197.8 145.2L199.9 150.0" stroke="#000" stroke-width=".3" fill="none"/>
<path d="M131.9 83.4 L135.9 83.9 L141.4 89.6 L137.2 89.2Z" fill="#f3ee13" stroke="#f3ee13" stroke-width=".4"/>
<path d="M131.9 83.4L135.9 83.9M137.2 89.2L141.4 89.6" stroke="#000" stroke-width=".45" fill="none"/>
<path d="M106.2 79.0 L110.4 78.4 L115.4 84.1 L111.2 84.7Z" fill="#1def1d" stroke="#1def1d" stroke-width=".4"/>
<path d="M106.2 79.0L110.4 78.4M111.2 84.7L115.4 84.1M110.4 78.4L115.4 84.1" stroke="#000" stroke-width=".45" fill="none"/>
<path d="M150.3 92.3 L152.7 93.5 L158.4 99.4 L156.0 98.2Z" fill="#d51111" stroke="#d51111" stroke-width=".4"/>
<path d="M150.3 92.3L152.7 93.5M156.0 98.2L158.4 99.4" stroke="#000" stroke-width=".45" fill="none"/>
<path d="M165.6 105.0 L168.0 107.5 L173.9 113.6 L171.5 111.1Z" fill="#9a9c0f" stroke="#9a9c0f" stroke-width=".4"/>
<path d="M165.6 105.0L168.0 107.5M171.5 111.1L173.9 113.6" stroke="#000" stroke-width=".45" fill="none"/>
<path d="M178.6 119.9 L180.9 123.6 L187.0 130.0 L184.7 126.3Z" fill="#277312" stroke="#277312" stroke-width=".4"/>
<path d="M178.6 119.9L180.9 123.6M184.7 126.3L187.0 130.0M180.9 123.6L187.0 130.0" stroke="#000" stroke-width=".3" fill="none"/>
<path d="M127.8 83.3 L131.9 83.4 L137.2 89.2 L133.1 89.0Z" fill="#f6f113" stroke="#f6f113" stroke-width=".4"/>
<path d="M127.8 83.3L131.9 83.4M133.1 89.0L137.2 89.2M127.8 83.3L133.1 89.0" stroke="#000" stroke-width=".45" fill="none"/>
<path d="M102.1 79.6 L106.2 79.0 L111.2 84.7 L107.0 85.3Z" fill="#1def1d" stroke="#1def1d" stroke-width=".4"/>
<path d="M102.1 79.6L106.2 79.0M107.0 85.3L111.2 84.7" stroke="#000" stroke-width=".45" fill="none"/>
<path d="M68.1 79.2 L80.8 76.8 L85.3 82.5 L72.5 85.0Z" fill="#f9f413" stroke="#f9f413" stroke-width=".4"/>
<path d="M68.1 79.2L80.8 76.8M72.5 85.0L85.3 82.5M68.1 79.2L72.5 85.0M80.8 76.8L85.3 82.5" stroke="#000" stroke-width=".45" fill="none"/>
<path d="M147.9 91.3 L150.3 92.3 L156.0 98.2 L153.5 97.2Z" fill="#df1212" stroke="#df1212" stroke-width=".4"/>
<path d="M147.9 91.3L150.3 92.3M153.5 97.2L156.0 98.2" stroke="#000" stroke-width=".45" fill="none"/>
<path d="M189.2 134.1 L191.4 138.6 L197.8 145.2 L195.5 140.7Z" fill="#241008" stroke="#241008" stroke-width=".4"/>
<path d="M189.2 134.1L191.4 138.6M195.5 140.7L197.8 145.2" stroke="#000" stroke-width=".3" fill="none"/>
<path d="M163.2 102.8 L165.6 105.0 L171.5 111.1 L169.1 108.9Z" fill="#abab10" stroke="#abab10" stroke-width=".4"/>
<path d="M163.2 102.8L165.6 105.0M169.1 108.9L171.5 111.1M163.2 102.8L169.1 108.9" stroke="#000" stroke-width=".45" fill="none"/>
<path d="M97.9 80.2 L102.1 79.6 L107.0 85.3 L102.8 86.0Z" fill="#1def1d" stroke="#1def1d" stroke-width=".4"/>
<path d="M97.9 80.2L102.1 79.6M102.8 86.0L107.0 85.3M97.9 80.2L102.8 86.0" stroke="#000" stroke-width=".45" fill="none"/>
<path d="M123.7 83.4 L127.8 83.3 L133.1 89.0 L128.9 89.2Z" fill="#0b0b0b" stroke="#0b0b0b" stroke-width=".4"/>
<path d="M123.7 83.4L127.8 83.3M128.9 89.2L133.1 89.0M127.8 83.3L133.1 89.0" stroke="#000" stroke-width=".45" fill="none"/>
<path d="M145.4 90.5 L147.9 91.3 L153.5 97.2 L151.1 96.4Z" fill="#e41212" stroke="#e41212" stroke-width=".4"/>
<path d="M145.4 90.5L147.9 91.3M151.1 96.4L153.5 97.2M145.4 90.5L151.1 96.4" stroke="#000" stroke-width=".45" fill="none"/>
<path d="M176.3 116.6 L178.6 119.9 L184.7 126.3 L182.4 122.9Z" fill="#247e13" stroke="#247e13" stroke-width=".4"/>
<path d="M176.3 116.6L178.6 119.9M182.4 122.9L184.7 126.3" stroke="#000" stroke-width=".3" fill="none"/>
<path d="M119.5 83.7 L123.7 83.4 L128.9 89.2 L124.8 89.5Z" fill="#0b0b0b" stroke="#0b0b0b" stroke-width=".4"/>
<path d="M119.5 83.7L123.7 83.4M124.8 89.5L128.9 89.2" stroke="#000" stroke-width=".45" fill="none"/>
<path d="M160.8 100.9 L163.2 102.8 L169.1 108.9 L166.7 107.1Z" fill="#0f0b09" stroke="#0f0b09" stroke-width=".4"/>
<path d="M160.8 100.9L163.2 102.8M166.7 107.1L169.1 108.9M163.2 102.8L169.1 108.9" stroke="#000" stroke-width=".45" fill="none"/>
<path d="M141.4 89.6 L145.4 90.5 L151.1 96.4 L146.9 95.6Z" fill="#1ce51c" stroke="#1ce51c" stroke-width=".4"/>
<path d="M141.4 89.6L145.4 90.5M146.9 95.6L151.1 96.4M145.4 90.5L151.1 96.4" stroke="#000" stroke-width=".45" fill="none"/>
<path d="M85.3 82.5 L97.9 80.2 L102.8 86.0 L90.0 88.4Z" fill="#f41313" stroke="#f41313" stroke-width=".4"/>
<path d="M85.3 82.5L97.9 80.2M90.0 88.4L102.8 86.0M85.3 82.5L90.0 88.4M97.9 80.2L102.8 86.0" stroke="#000" stroke-width=".45" fill="none"/>
<path d="M187.0 130.0 L189.2 134.1 L195.5 140.7 L193.3 136.6Z" fill="#210f08" stroke="#210f08" stroke-width=".4"/>
<path d="M187.0 130.0L189.2 134.1M193.3 136.6L195.5 140.7M187.0 130.0L193.3 136.6" stroke="#000" stroke-width=".3" fill="none"/>
<path d="M173.9 113.6 L176.3 116.6 L182.4 122.9 L180.0 120.0Z" fill="#228b14" stroke="#228b14" stroke-width=".4"/>
<path d="M173.9 113.6L176.3 116.6M180.0 120.0L182.4 122.9" stroke="#000" stroke-width=".3" fill="none"/>
<path d="M115.4 84.1 L119.5 83.7 L124.8 89.5 L120.6 90.0Z" fill="#0b0b0b" stroke="#0b0b0b" stroke-width=".4"/>
<path d="M115.4 84.1L119.5 83.7M120.6 90.0L124.8 89.5M115.4 84.1L120.6 90.0" stroke="#000" stroke-width=".45" fill="none"/>
<path d="M158.4 99.4 L160.8 100.9 L166.7 107.1 L164.3 105.5Z" fill="#0d0b0a" stroke="#0d0b0a" stroke-width=".4"/>
<path d="M158.4 99.4L160.8 100.9M164.3 105.5L166.7 107.1" stroke="#000" stroke-width=".45" fill="none"/>
<path d="M137.2 89.2 L141.4 89.6 L146.9 95.6 L142.8 95.1Z" fill="#1de91d" stroke="#1de91d" stroke-width=".4"/>
<path d="M137.2 89.2L141.4 89.6M142.8 95.1L146.9 95.6" stroke="#000" stroke-width=".45" fill="none"/>
<path d="M111.2 84.7 L115.4 84.1 L120.6 90.0 L116.3 90.6Z" fill="#f9f413" stroke="#f9f413" stroke-width=".4"/>
<path d="M111.2 84.7L115.4 84.1M116.3 90.6L120.6 90.0M115.4 84.1L120.6 90.0" stroke="#000" stroke-width=".45" fill="none"/>
<path d="M156.0 98.2 L158.4 99.4 L164.3 105.5 L161.8 104.3Z" fill="#0b0a0a" stroke="#0b0a0a" stroke-width=".4"/>
<path d="M156.0 98.2L158.4 99.4M161.8 104.3L164.3 105.5" stroke="#000" stroke-width=".45" fill="none"/>
<path d="M171.5 111.1 L173.9 113.6 L180.0 120.0 L177.6 117.4Z" fill="#209915" stroke="#209915" stroke-width=".4"/>
<path d="M171.5 111.1L173.9 113.6M177.6 117.4L180.0 120.0" stroke="#000" stroke-width=".45" fill="none"/>
<path d="M184.7 126.3 L187.0 130.0 L193.3 136.6 L191.0 132.8Z" fill="#6e750f" stroke="#6e750f" stroke-width=".4"/>
<path d="M184.7 126.3L187.0 130.0M191.0 132.8L193.3 136.6M187.0 130.0L193.3 136.6" stroke="#000" stroke-width=".3" fill="none"/>
<path d="M133.1 89.0 L137.2 89.2 L142.8 95.1 L138.6 95.0Z" fill="#1dec1d" stroke="#1dec1d" stroke-width=".4"/>
<path d="M133.1 89.0L137.2 89.2M138.6 95.0L142.8 95.1M133.1 89.0L138.6 95.0" stroke="#000" stroke-width=".45" fill="none"/>
<path d="M107.0 85.3 L111.2 84.7 L116.3 90.6 L112.1 91.2Z" fill="#f9f413" stroke="#f9f413" stroke-width=".4"/>
<path d="M107.0 85.3L111.2 84.7M112.1 91.2L116.3 90.6" stroke="#000" stroke-width=".45" fill="none"/>
<path d="M72.5 85.0 L85.3 82.5 L90.0 88.4 L77.1 90.9Z" fill="#1def1d" stroke="#1def1d" stroke-width=".4"/>
<path d="M72.5 85.0L85.3 82.5M77.1 90.9L90.0 88.4M72.5 85.0L77.1 90.9M85.3 82.5L90.0 88.4" stroke="#000" stroke-width=".45" fill="none"/>
<path d="M153.5 97.2 L156.0 98.2 L161.8 104.3 L159.3 103.3Z" fill="#0a0a0a" stroke="#0a0a0a" stroke-width=".4"/>
<path d="M153.5 97.2L156.0 98.2M159.3 103.3L161.8 104.3" stroke="#000" stroke-width=".45" fill="none"/>
<path d="M169.1 108.9 L171.5 111.1 L177.6 117.4 L175.2 115.2Z" fill="#1ea816" stroke="#1ea816" stroke-width=".4"/>
<path d="M169.1 108.9L171.5 111.1M175.2 115.2L177.6 117.4M169.1 108.9L175.2 115.2" stroke="#000" stroke-width=".45" fill="none"/>
<path d="M102.8 86.0 L107.0 85.3 L112.1 91.2 L107.8 92.0Z" fill="#f9f413" stroke="#f9f413" stroke-width=".4"/>
<path d="M102.8 86.0L107.0 85.3M107.8 92.0L112.1 91.2M102.8 86.0L107.8 92.0" stroke="#000" stroke-width=".45" fill="none"/>
<path d="M128.9 89.2 L133.1 89.0 L138.6 95.0 L134.4 95.2Z" fill="#f21313" stroke="#f21313" stroke-width=".4"/>
<path d="M128.9 89.2L133.1 89.0M134.4 95.2L138.6 95.0M133.1 89.0L138.6 95.0" stroke="#000" stroke-width=".45" fill="none"/>
<path d="M151.1 96.4 L153.5 97.2 L159.3 103.3 L156.9 102.5Z" fill="#0b0b0b" stroke="#0b0b0b" stroke-width=".4"/>
<path d="M151.1 96.4L153.5 97.2M156.9 102.5L159.3 103.3M151.1 96.4L156.9 102.5" stroke="#000" stroke-width=".45" fill="none"/>
<path d="M182.4 122.9 L184.7 126.3 L191.0 132.8 L188.7 129.5Z" fill="#7b800f" stroke="#7b800f" stroke-width=".4"/>
<path d="M182.4 122.9L184.7 126.3M188.7 129.5L191.0 132.8" stroke="#000" stroke-width=".3" fill="none"/>
<path d="M124.8 89.5 L128.9 89.2 L134.4 95.2 L130.2 95.5Z" fill="#f31313" stroke="#f31313" stroke-width=".4"/>
<path d="M124.8 89.5L128.9 89.2M130.2 95.5L134.4 95.2" stroke="#000" stroke-width=".45" fill="none"/>
<path d="M166.7 107.1 L169.1 108.9 L175.2 115.2 L172.8 113.4Z" fill="#b7110f" stroke="#b7110f" stroke-width=".4"/>
<path d="M166.7 107.1L169.1 108.9M172.8 113.4L175.2 115.2M169.1 108.9L175.2 115.2" stroke="#000" stroke-width=".45" fill="none"/>
<path d="M146.9 95.6 L151.1 96.4 L156.9 102.5 L152.7 101.7Z" fill="#efea13" stroke="#efea13" stroke-width=".4"/>
<path d="M146.9 95.6L151.1 96.4M152.7 101.7L156.9 102.5M151.1 96.4L156.9 102.5" stroke="#000" stroke-width=".45" fill="none"/>
<path d="M90.0 88.4 L102.8 86.0 L107.8 92.0 L94.9 94.4Z" fill="#0b0b0b" stroke="#0b0b0b" stroke-width=".4"/>
<path d="M90.0 88.4L102.8 86.0M94.9 94.4L107.8 92.0M90.0 88.4L94.9 94.4M102.8 86.0L107.8 92.0" stroke="#000" stroke-width=".45" fill="none"/>
<path d="M180.0 120.0 L182.4 122.9 L188.7 129.5 L186.3 126.5Z" fill="#8a8d0f" stroke="#8a8d0f" stroke-width=".4"/>
<path d="M180.0 120.0L182.4 122.9M186.3 126.5L188.7 129.5" stroke="#000" stroke-width=".3" fill="none"/>
<path d="M120.6 90.0 L124.8 89.5 L130.2 95.5 L125.9 96.0Z" fill="#f41313" stroke="#f41313" stroke-width=".4"/>
<path d="M120.6 90.0L124.8 89.5M125.9 96.0L130.2 95.5M120.6 90.0L125.9 96.0" stroke="#000" stroke-width=".45" fill="none"/>
<path d="M164.3 105.5 L166.7 107.1 L172.8 113.4 L170.3 111.8Z" fill="#c71110" stroke="#c71110" stroke-width=".4"/>
<path d="M164.3 105.5L166.7 107.1M170.3 111.8L172.8 113.4" stroke="#000" stroke-width=".45" fill="none"/>
<path d="M142.8 95.1 L146.9 95.6 L152.7 101.7 L148.5 101.3Z" fill="#f3ee13" stroke="#f3ee13" stroke-width=".4"/>
<path d="M142.8 95.1L146.9 95.6M148.5 101.3L152.7 101.7" stroke="#000" stroke-width=".45" fill="none"/>
<path d="M116.3 90.6 L120.6 90.0 L125.9 96.0 L121.6 96.6Z" fill="#1def1d" stroke="#1def1d" stroke-width=".4"/>
<path d="M116.3 90.6L120.6 90.0M121.6 96.6L125.9 96.0M120.6 90.0L125.9 96.0" stroke="#000" stroke-width=".45" fill="none"/>
<path d="M161.8 104.3 L164.3 105.5 L170.3 111.8 L167.9 110.6Z" fill="#d51111" stroke="#d51111" stroke-width=".4"/>
<path d="M161.8 104.3L164.3 105.5M167.9 110.6L170.3 111.8" stroke="#000" stroke-width=".45" fill="none"/>
<path d="M177.6 117.4 L180.0 120.0 L186.3 126.5 L183.9 123.9Z" fill="#9a9c0f" stroke="#9a9c0f" stroke-width=".4"/>
<path d="M177.6 117.4L180.0 120.0M183.9 123.9L186.3 126.5" stroke="#000" stroke-width=".45" fill="none"/>
<path d="M138.6 95.0 L142.8 95.1 L148.5 101.3 L144.3 101.2Z" fill="#f6f113" stroke="#f6f113" stroke-width=".4"/>
<path d="M138.6 95.0L142.8 95.1M144.3 101.2L148.5 101.3M138.6 95.0L144.3 101.2" stroke="#000" stroke-width=".45" fill="none"/>
<path d="M112.1 91.2 L116.3 90.6 L121.6 96.6 L117.3 97.3Z" fill="#1def1d" stroke="#1def1d" stroke-width=".4"/>
<path d="M112.1 91.2L116.3 90.6M117.3 97.3L121.6 96.6" stroke="#000" stroke-width=".45" fill="none"/>
<path d="M77.1 90.9 L90.0 88.4 L94.9 94.4 L81.7 97.0Z" fill="#f9f413" stroke="#f9f413" stroke-width=".4"/>
<path d="M77.1 90.9L90.0 88.4M81.7 97.0L94.9 94.4M77.1 90.9L81.7 97.0M90.0 88.4L94.9 94.4" stroke="#000" stroke-width=".45" fill="none"/>
<path d="M159.3 103.3 L161.8 104.3 L167.9 110.6 L165.4 109.6Z" fill="#df1212" stroke="#df1212" stroke-width=".4"/>
<path d="M159.3 103.3L161.8 104.3M165.4 109.6L167.9 110.6" stroke="#000" stroke-width=".45" fill="none"/>
<path d="M175.2 115.2 L177.6 117.4 L183.9 123.9 L181.5 121.7Z" fill="#abab10" stroke="#abab10" stroke-width=".4"/>
<path d="M175.2 115.2L177.6 117.4M181.5 121.7L183.9 123.9M175.2 115.2L181.5 121.7" stroke="#000" stroke-width=".45" fill="none"/>
<path d="M107.8 92.0 L112.1 91.2 L117.3 97.3 L113.0 98.1Z" fill="#1def1d" stroke="#1def1d" stroke-width=".4"/>
<path d="M107.8 92.0L112.1 91.2M113.0 98.1L117.3 97.3M107.8 92.0L113.0 98.1" stroke="#000" stroke-width=".45" fill="none"/>
<path d="M134.4 95.2 L138.6 95.0 L144.3 101.2 L140.0 101.4Z" fill="#0b0b0b" stroke="#0b0b0b" stroke-width=".4"/>
<path d="M134.4 95.2L138.6 95.0M140.0 101.4L144.3 101.2M138.6 95.0L144.3 101.2" stroke="#000" stroke-width=".45" fill="none"/>
<path d="M156.9 102.5 L159.3 103.3 L165.4 109.6 L162.9 108.9Z" fill="#e41212" stroke="#e41212" stroke-width=".4"/>
<path d="M156.9 102.5L159.3 103.3M162.9 108.9L165.4 109.6M156.9 102.5L162.9 108.9" stroke="#000" stroke-width=".45" fill="none"/>
<path d="M130.2 95.5 L134.4 95.2 L140.0 101.4 L135.7 101.8Z" fill="#0b0b0b" stroke="#0b0b0b" stroke-width=".4"/>
<path d="M130.2 95.5L134.4 95.2M135.7 101.8L140.0 101.4" stroke="#000" stroke-width=".45" fill="none"/>
<path d="M172.8 113.4 L175.2 115.2 L181.5 121.7 L179.1 119.9Z" fill="#0f0b09" stroke="#0f0b09" stroke-width=".4"/>
<path d="M172.8 113.4L175.2 115.2M179.1 119.9L181.5 121.7M175.2 115.2L181.5 121.7" stroke="#000" stroke-width=".45" fill="none"/>
<path d="M152.7 101.7 L156.9 102.5 L162.9 108.9 L158.6 108.0Z" fill="#1ce51c" stroke="#1ce51c" stroke-width=".4"/>
<path d="M152.7 101.7L156.9 102.5M158.6 108.0L162.9 108.9M156.9 102.5L162.9 108.9" stroke="#000" stroke-width=".45" fill="none"/>
<path d="M94.9 94.4 L107.8 92.0 L113.0 98.1 L99.9 100.6Z" fill="#f41313" stroke="#f41313" stroke-width=".4"/>
<path d="M94.9 94.4L107.8 92.0M99.9 100.6L113.0 98.1M94.9 94.4L99.9 100.6M107.8 92.0L113.0 98.1" stroke="#000" stroke-width=".45" fill="none"/>
<path d="M125.9 96.0 L130.2 95.5 L135.7 101.8 L131.4 102.3Z" fill="#0b0b0b" stroke="#0b0b0b" stroke-width=".4"/>
<path d="M125.9 96.0L130.2 95.5M131.4 102.3L135.7 101.8M125.9 96.0L131.4 102.3" stroke="#000" stroke-width=".45" fill="none"/>
<path d="M170.3 111.8 L172.8 113.4 L179.1 119.9 L176.6 118.4Z" fill="#0d0b0a" stroke="#0d0b0a" stroke-width=".4"/>
<path d="M170.3 111.8L172.8 113.4M176.6 118.4L179.1 119.9" stroke="#000" stroke-width=".45" fill="none"/>
<path d="M148.5 101.3 L152.7 101.7 L158.6 108.0 L154.4 107.6Z" fill="#1de91d" stroke="#1de91d" stroke-width=".4"/>
<path d="M148.5 101.3L152.7 101.7M154.4 107.6L158.6 108.0" stroke="#000" stroke-width=".45" fill="none"/>
<path d="M121.6 96.6 L125.9 96.0 L131.4 102.3 L127.1 102.9Z" fill="#f9f413" stroke="#f9f413" stroke-width=".4"/>
<path d="M121.6 96.6L125.9 96.0M127.1 102.9L131.4 102.3M125.9 96.0L131.4 102.3" stroke="#000" stroke-width=".45" fill="none"/>
<path d="M167.9 110.6 L170.3 111.8 L176.6 118.4 L174.1 117.1Z" fill="#0b0a0a" stroke="#0b0a0a" stroke-width=".4"/>
<path d="M167.9 110.6L170.3 111.8M174.1 117.1L176.6 118.4" stroke="#000" stroke-width=".45" fill="none"/>
<path d="M144.3 101.2 L148.5 101.3 L154.4 107.6 L150.1 107.6Z" fill="#1dec1d" stroke="#1dec1d" stroke-width=".4"/>
<path d="M144.3 101.2L148.5 101.3M150.1 107.6L154.4 107.6M144.3 101.2L150.1 107.6" stroke="#000" stroke-width=".45" fill="none"/>
<path d="M117.3 97.3 L121.6 96.6 L127.1 102.9 L122.7 103.6Z" fill="#f9f413" stroke="#f9f413" stroke-width=".4"/>
<path d="M117.3 97.3L121.6 96.6M122.7 103.6L127.1 102.9" stroke="#000" stroke-width=".45" fill="none"/>
<path d="M81.7 97.0 L94.9 94.4 L99.9 100.6 L86.6 103.4Z" fill="#1def1d" stroke="#1def1d" stroke-width=".4"/>
<path d="M81.7 97.0L94.9 94.4M86.6 103.4L99.9 100.6M81.7 97.0L86.6 103.4M94.9 94.4L99.9 100.6" stroke="#000" stroke-width=".45" fill="none"/>
<path d="M165.4 109.6 L167.9 110.6 L174.1 117.1 L171.6 116.1Z" fill="#0a0a0a" stroke="#0a0a0a" stroke-width=".4"/>
<path d="M165.4 109.6L167.9 110.6M171.6 116.1L174.1 117.1" stroke="#000" stroke-width=".45" fill="none"/>
<path d="M113.0 98.1 L117.3 97.3 L122.7 103.6 L118.4 104.4Z" fill="#f9f413" stroke="#f9f413" stroke-width=".4"/>
<path d="M113.0 98.1L117.3 97.3M118.4 104.4L122.7 103.6M113.0 98.1L118.4 104.4" stroke="#000" stroke-width=".45" fill="none"/>
<path d="M140.0 101.4 L144.3 101.2 L150.1 107.6 L145.8 107.8Z" fill="#f21313" stroke="#f21313" stroke-width=".4"/>
<path d="M140.0 101.4L144.3 101.2M145.8 107.8L150.1 107.6M144.3 101.2L150.1 107.6" stroke="#000" stroke-width=".45" fill="none"/>
<path d="M162.9 108.9 L165.4 109.6 L171.6 116.1 L169.0 115.4Z" fill="#0b0b0b" stroke="#0b0b0b" stroke-width=".4"/>
<path d="M162.9 108.9L165.4 109.6M169.0 115.4L171.6 116.1M162.9 108.9L169.0 115.4" stroke="#000" stroke-width=".45" fill="none"/>
<path d="M135.7 101.8 L140.0 101.4 L145.8 107.8 L141.5 108.2Z" fill="#f31313" stroke="#f31313" stroke-width=".4"/>
<path d="M135.7 101.8L140.0 101.4M141.5 108.2L145.8 107.8" stroke="#000" stroke-width=".45" fill="none"/>
<path d="M158.6 108.0 L162.9 108.9 L169.0 115.4 L164.8 114.6Z" fill="#efea13" stroke="#efea13" stroke-width=".4"/>
<path d="M158.6 108.0L162.9 108.9M164.8 114.6L169.0 115.4M162.9 108.9L169.0 115.4" stroke="#000" stroke-width=".45" fill="none"/>
<path d="M99.9 100.6 L113.0 98.1 L118.4 104.4 L105.1 107.1Z" fill="#0b0b0b" stroke="#0b0b0b" stroke-width=".4"/>
<path d="M99.9 100.6L113.0 98.1M105.1 107.1L118.4 104.4M99.9 100.6L105.1 107.1M113.0 98.1L118.4 104.4" stroke="#000" stroke-width=".45" fill="none"/>
<path d="M131.4 102.3 L135.7 101.8 L141.5 108.2 L137.1 108.7Z" fill="#f41313" stroke="#f41313" stroke-width=".4"/>
<path d="M131.4 102.3L135.7 101.8M137.1 108.7L141.5 108.2M131.4 102.3L137.1 108.7" stroke="#000" stroke-width=".45" fill="none"/>
<path d="M154.4 107.6 L158.6 108.0 L164.8 114.6 L160.5 114.2Z" fill="#f3ee13" stroke="#f3ee13" stroke-width=".4"/>
<path d="M154.4 107.6L158.6 108.0M160.5 114.2L164.8 114.6" stroke="#000" stroke-width=".45" fill="none"/>
<path d="M127.1 102.9 L131.4 102.3 L137.1 108.7 L132.7 109.4Z" fill="#1def1d" stroke="#1def1d" stroke-width=".4"/>
<path d="M127.1 102.9L131.4 102.3M132.7 109.4L137.1 108.7M131.4 102.3L137.1 108.7" stroke="#000" stroke-width=".45" fill="none"/>
<path d="M150.1 107.6 L154.4 107.6 L160.5 114.2 L156.2 114.2Z" fill="#f6f113" stroke="#f6f113" stroke-width=".4"/>
<path d="M150.1 107.6L154.4 107.6M156.2 114.2L160.5 114.2M150.1 107.6L156.2 114.2" stroke="#000" stroke-width=".45" fill="none"/>
<path d="M122.7 103.6 L127.1 102.9 L132.7 109.4 L128.3 110.2Z" fill="#1def1d" stroke="#1def1d" stroke-width=".4"/>
<path d="M122.7 103.6L127.1 102.9M128.3 110.2L132.7 109.4" stroke="#000" stroke-width=".45" fill="none"/>
<path d="M86.6 103.4 L99.9 100.6 L105.1 107.1 L91.6 109.9Z" fill="#f9f413" stroke="#f9f413" stroke-width=".4"/>
<path d="M86.6 103.4L99.9 100.6M91.6 109.9L105.1 107.1M86.6 103.4L91.6 109.9M99.9 100.6L105.1 107.1" stroke="#000" stroke-width=".45" fill="none"/>
<path d="M118.4 104.4 L122.7 103.6 L128.3 110.2 L123.9 111.0Z" fill="#1def1d" stroke="#1def1d" stroke-width=".4"/>
<path d="M118.4 104.4L122.7 103.6M123.9 111.0L128.3 110.2M118.4 104.4L123.9 111.0" stroke="#000" stroke-width=".45" fill="none"/>
<path d="M145.8 107.8 L150.1 107.6 L156.2 114.2 L151.8 114.4Z" fill="#0b0b0b" stroke="#0b0b0b" stroke-width=".4"/>
<path d="M145.8 107.8L150.1 107.6M151.8 114.4L156.2 114.2M150.1 107.6L156.2 114.2" stroke="#000" stroke-width=".45" fill="none"/>
<path d="M141.5 108.2 L145.8 107.8 L151.8 114.4 L147.4 114.8Z" fill="#0b0b0b" stroke="#0b0b0b" stroke-width=".4"/>
<path d="M141.5 108.2L145.8 107.8M147.4 114.8L151.8 114.4" stroke="#000" stroke-width=".45" fill="none"/>
<path d="M105.1 107.1 L118.4 104.4 L123.9 111.0 L110.5 113.7Z" fill="#f41313" stroke="#f41313" stroke-width=".4"/>
<path d="M105.1 107.1L118.4 104.4M110.5 113.7L123.9 111.0M105.1 107.1L110.5 113.7M118.4 104.4L123.9 111.0" stroke="#000" stroke-width=".45" fill="none"/>
<path d="M137.1 108.7 L141.5 108.2 L147.4 114.8 L143.0 115.4Z" fill="#0b0b0b" stroke="#0b0b0b" stroke-width=".4"/>
<path d="M137.1 108.7L141.5 108.2M143.0 115.4L147.4 114.8M137.1 108.7L143.0 115.4" stroke="#000" stroke-width=".45" fill="none"/>
<path d="M132.7 109.4 L137.1 108.7 L143.0 115.4 L138.6 116.1Z" fill="#f9f413" stroke="#f9f413" stroke-width=".4"/>
<path d="M132.7 109.4L137.1 108.7M138.6 116.1L143.0 115.4M137.1 108.7L143.0 115.4" stroke="#000" stroke-width=".45" fill="none"/>
<path d="M128.3 110.2 L132.7 109.4 L138.6 116.1 L134.1 116.9Z" fill="#f9f413" stroke="#f9f413" stroke-width=".4"/>
<path d="M128.3 110.2L132.7 109.4M134.1 116.9L138.6 116.1" stroke="#000" stroke-width=".45" fill="none"/>
<path d="M91.6 109.9 L105.1 107.1 L110.5 113.7 L96.8 116.7Z" fill="#1def1d" stroke="#1def1d" stroke-width=".4"/>
<path d="M91.6 109.9L105.1 107.1M96.8 116.7L110.5 113.7M91.6 109.9L96.8 116.7M105.1 107.1L110.5 113.7" stroke="#000" stroke-width=".45" fill="none"/>
<path d="M123.9 111.0 L128.3 110.2 L134.1 116.9 L129.6 117.8Z" fill="#f9f413" stroke="#f9f413" stroke-width=".4"/>
<path d="M123.9 111.0L128.3 110.2M129.6 117.8L134.1 116.9M123.9 111.0L129.6 117.8" stroke="#000" stroke-width=".45" fill="none"/>
<path d="M110.5 113.7 L123.9 111.0 L129.6 117.8 L116.0 120.6Z" fill="#0b0b0b" stroke="#0b0b0b" stroke-width=".4"/>
<path d="M110.5 113.7L123.9 111.0M116.0 120.6L129.6 117.8M110.5 113.7L116.0 120.6M123.9 111.0L129.6 117.8" stroke="#000" stroke-width=".45" fill="none"/>
<path d="M96.8 116.7 L110.5 113.7 L116.0 120.6 L102.1 123.7Z" fill="#f9f413" stroke="#f9f413" stroke-width=".4"/>
<path d="M96.8 116.7L110.5 113.7M102.1 123.7L116.0 120.6M96.8 116.7L102.1 123.7M110.5 113.7L116.0 120.6" stroke="#000" stroke-width=".45" fill="none"/>
<path d="M28.7 29.8L42.5 150.3L107.3 261.5L288.2 203.7" fill="none" stroke="#666" stroke-width="2.7" stroke-linejoin="miter"/>
<path d="M111.3 260.3L109.4 257.1M43.5 152.0L46.5 151.3M127.4 255.1L125.4 252.0M47.7 159.3L50.8 158.5M143.2 250.1L140.1 245.4M52.1 166.8L56.9 165.6M158.7 245.1L156.6 242.1M56.7 174.6L59.8 173.8M173.8 240.3L171.7 237.3M61.4 182.7L64.5 181.8M188.7 235.5L186.5 232.6M66.2 191.0L69.4 190.1M203.3 230.9L199.8 226.5M71.3 199.6L76.3 198.3M217.6 226.3L215.3 223.5M76.5 208.6L79.8 207.7M231.6 221.8L229.2 219.1M81.9 217.9L85.3 216.9M245.4 217.4L242.9 214.7M87.5 227.6L90.9 226.5M258.9 213.1L255.1 209.1M93.4 237.6L98.7 236.0M272.1 208.9L269.6 206.3M99.5 248.0L103.0 246.9M285.1 204.7L282.5 202.2M105.8 258.9L109.4 257.7M41.5 141.9L44.6 141.2M40.6 133.4L43.6 132.7M39.6 124.8L44.3 123.7M38.6 116.0L41.7 115.3M37.5 107.0L40.7 106.4M36.5 97.9L39.6 97.3M35.4 88.7L38.6 88.1M34.4 79.3L39.3 78.3M33.3 69.7L36.5 69.1M32.1 60.0L35.4 59.4M31.0 50.1L34.3 49.5M29.9 40.1L33.2 39.5" fill="none" stroke="#626262" stroke-width="1.9"/>
<g font-size="18.2" text-anchor="middle">
<text x="35.5" y="177.8"><tspan font-size="22.2" dy="1.44">−</tspan><tspan dy="-1.44">2</tspan></text><text x="61.3" y="211.6">0</text><text x="83.2" y="249.8">2</text>
<text x="150.3" y="272.6"><tspan font-size="22.2" dy="1.44">−</tspan><tspan dy="-1.44">2</tspan></text><text x="208.3" y="252.1">0</text><text x="265.7" y="234.4">2</text></g>
<g font-size="27" text-anchor="middle"><text x="46.1" y="218.6">x</text><text x="220.4" y="276.2">t</text></g>
</g>
<g id="contour">
<rect x="407.0" y="45.0" width="215.0" height="81.1" fill="#781c86"/>
<rect x="407.0" y="125.8" width="215.0" height="13.9" fill="#3f71cf"/>
<rect x="407.0" y="139.4" width="215.0" height="10.1" fill="#67b09e"/>
<rect x="407.0" y="149.2" width="215.0" height="10.6" fill="#a0c05c"/>
<rect x="407.0" y="159.5" width="215.0" height="13.1" fill="#deae40"/>
<rect x="407.0" y="172.3" width="215.0" height="38.4" fill="#e4682e"/>
<rect x="407.0" y="210.4" width="215.0" height="50.4" fill="#db2122"/>
<path d="M407.0 125.8H622.0M407.0 139.4H622.0M407.0 149.2H622.0M407.0 159.5H622.0M407.0 172.3H622.0M407.0 210.4H622.0" stroke="#3a3a3a" stroke-opacity=".75" stroke-width=".7" fill="none"/>
<rect x="402.3" y="40.8" width="224.3" height="224.5" fill="none" stroke="#858585" stroke-width=".9"/><path d="M407.0 265.3v-3.2M407.0 40.8v3.2M402.3 260.5h3.2M626.6 260.5h-3.2M414.2 265.3v-1.8M414.2 40.8v1.8M402.3 253.3h1.8M626.6 253.3h-1.8M421.3 265.3v-1.8M421.3 40.8v1.8M402.3 246.1h1.8M626.6 246.1h-1.8M428.5 265.3v-1.8M428.5 40.8v1.8M402.3 238.9h1.8M626.6 238.9h-1.8M435.7 265.3v-1.8M435.7 40.8v1.8M402.3 231.8h1.8M626.6 231.8h-1.8M442.8 265.3v-3.2M442.8 40.8v3.2M402.3 224.6h3.2M626.6 224.6h-3.2M450.0 265.3v-1.8M450.0 40.8v1.8M402.3 217.4h1.8M626.6 217.4h-1.8M457.2 265.3v-1.8M457.2 40.8v1.8M402.3 210.2h1.8M626.6 210.2h-1.8M464.3 265.3v-1.8M464.3 40.8v1.8M402.3 203.0h1.8M626.6 203.0h-1.8M471.5 265.3v-1.8M471.5 40.8v1.8M402.3 195.8h1.8M626.6 195.8h-1.8M478.7 265.3v-3.2M478.7 40.8v3.2M402.3 188.7h3.2M626.6 188.7h-3.2M485.8 265.3v-1.8M485.8 40.8v1.8M402.3 181.5h1.8M626.6 181.5h-1.8M493.0 265.3v-1.8M493.0 40.8v1.8M402.3 174.3h1.8M626.6 174.3h-1.8M500.2 265.3v-1.8M500.2 40.8v1.8M402.3 167.1h1.8M626.6 167.1h-1.8M507.3 265.3v-1.8M507.3 40.8v1.8M402.3 159.9h1.8M626.6 159.9h-1.8M514.5 265.3v-3.2M514.5 40.8v3.2M402.3 152.8h3.2M626.6 152.8h-3.2M521.7 265.3v-1.8M521.7 40.8v1.8M402.3 145.6h1.8M626.6 145.6h-1.8M528.8 265.3v-1.8M528.8 40.8v1.8M402.3 138.4h1.8M626.6 138.4h-1.8M536.0 265.3v-1.8M536.0 40.8v1.8M402.3 131.2h1.8M626.6 131.2h-1.8M543.2 265.3v-1.8M543.2 40.8v1.8M402.3 124.0h1.8M626.6 124.0h-1.8M550.3 265.3v-3.2M550.3 40.8v3.2M402.3 116.8h3.2M626.6 116.8h-3.2M557.5 265.3v-1.8M557.5 40.8v1.8M402.3 109.7h1.8M626.6 109.7h-1.8M564.7 265.3v-1.8M564.7 40.8v1.8M402.3 102.5h1.8M626.6 102.5h-1.8M571.8 265.3v-1.8M571.8 40.8v1.8M402.3 95.3h1.8M626.6 95.3h-1.8M579.0 265.3v-1.8M579.0 40.8v1.8M402.3 88.1h1.8M626.6 88.1h-1.8M586.2 265.3v-3.2M586.2 40.8v3.2M402.3 80.9h3.2M626.6 80.9h-3.2M593.3 265.3v-1.8M593.3 40.8v1.8M402.3 73.7h1.8M626.6 73.7h-1.8M600.5 265.3v-1.8M600.5 40.8v1.8M402.3 66.5h1.8M626.6 66.5h-1.8M607.7 265.3v-1.8M607.7 40.8v1.8M402.3 59.4h1.8M626.6 59.4h-1.8M614.8 265.3v-1.8M614.8 40.8v1.8M402.3 52.2h1.8M626.6 52.2h-1.8M622.0 265.3v-3.2M622.0 40.8v3.2M402.3 45.0h3.2M626.6 45.0h-3.2" stroke="#484848" stroke-width=".75" fill="none"/>
<g font-size="16.2" text-anchor="end">
<text x="399.9" y="266.3"><tspan font-size="19.8" dy="1.28">−</tspan><tspan dy="-1.28">3</tspan></text>
<text x="399.9" y="230.4"><tspan font-size="19.8" dy="1.28">−</tspan><tspan dy="-1.28">2</tspan></text>
<text x="399.9" y="194.5"><tspan font-size="19.8" dy="1.28">−</tspan><tspan dy="-1.28">1</tspan></text>
<text x="399.9" y="158.6">0</text>
<text x="399.9" y="122.6">1</text>
<text x="399.9" y="86.7">2</text>
<text x="399.9" y="50.8">3</text>
</g><g font-size="16.2" text-anchor="middle">
<text x="406.0" y="282.9"><tspan font-size="19.8" dy="1.28">−</tspan><tspan dy="-1.28">3</tspan></text>
<text x="441.8" y="282.9"><tspan font-size="19.8" dy="1.28">−</tspan><tspan dy="-1.28">2</tspan></text>
<text x="477.6" y="282.9"><tspan font-size="19.8" dy="1.28">−</tspan><tspan dy="-1.28">1</tspan></text>
<text x="514.5" y="282.9">0</text>
<text x="550.3" y="282.9">1</text>
<text x="586.2" y="282.9">2</text>
<text x="622.0" y="282.9">3</text>
</g>
<rect x="636.7" y="86.9" width="9.3" height="19.9" fill="#db2122"/>
<rect x="636.7" y="106.6" width="9.3" height="19.9" fill="#e4682e"/>
<rect x="636.7" y="126.3" width="9.3" height="19.9" fill="#deae40"/>
<rect x="636.7" y="146.0" width="9.3" height="19.9" fill="#a0c05c"/>
<rect x="636.7" y="165.7" width="9.3" height="19.9" fill="#67b09e"/>
<rect x="636.7" y="185.4" width="9.3" height="19.9" fill="#3f71cf"/>
<rect x="636.7" y="205.1" width="9.3" height="19.9" fill="#781c86"/>
<path d="M636.7 106.6h9.3M636.7 126.3h9.3M636.7 146.0h9.3M636.7 165.7h9.3M636.7 185.4h9.3M636.7 205.1h9.3" stroke="#3a3a3a" stroke-opacity=".7" stroke-width=".6" fill="none"/>
<path d="M646.0 106.6h2.6M646.0 126.3h2.6M646.0 146.0h2.6M646.0 165.7h2.6M646.0 185.4h2.6M646.0 205.1h2.6" stroke="#666" stroke-width=".7" fill="none"/>
<g font-size="16.2">
<text x="652.3" y="112.4">120</text>
<text x="652.3" y="132.1">100</text>
<text x="652.3" y="151.8">80</text>
<text x="652.3" y="171.5">60</text>
<text x="652.3" y="191.2">40</text>
<text x="652.3" y="210.9">20</text>
</g></g>
<defs><linearGradient id="dg" x1="0" y1="0" x2="0" y2="1"><stop offset="0.0000" stop-color="#781c86"/><stop offset="0.0167" stop-color="#781c86"/><stop offset="0.0333" stop-color="#771c87"/><stop offset="0.0500" stop-color="#771c87"/><stop offset="0.0667" stop-color="#771c87"/><stop offset="0.0833" stop-color="#771c87"/><stop offset="0.1000" stop-color="#771d87"/><stop offset="0.1167" stop-color="#761d88"/><stop offset="0.1333" stop-color="#761d88"/><stop offset="0.1500" stop-color="#751d89"/><stop offset="0.1667" stop-color="#741d8a"/><stop offset="0.1833" stop-color="#731e8b"/><stop offset="0.2000" stop-color="#721e8c"/><stop offset="0.2167" stop-color="#701f8e"/><stop offset="0.2333" stop-color="#6e2090"/><stop offset="0.2500" stop-color="#6c2093"/><stop offset="0.2667" stop-color="#682296"/><stop offset="0.2833" stop-color="#64239a"/><stop offset="0.3000" stop-color="#5f259f"/><stop offset="0.3167" stop-color="#5927a6"/><stop offset="0.3333" stop-color="#512aae"/><stop offset="0.3500" stop-color="#472eb8"/><stop offset="0.3667" stop-color="#443abe"/><stop offset="0.3833" stop-color="#4249c5"/><stop offset="0.4000" stop-color="#405bcc"/><stop offset="0.4167" stop-color="#426ecb"/><stop offset="0.4333" stop-color="#4783c1"/><stop offset="0.4500" stop-color="#4f96b3"/><stop offset="0.4667" stop-color="#5ca69e"/><stop offset="0.4833" stop-color="#6db289"/><stop offset="0.5000" stop-color="#80b973"/><stop offset="0.5167" stop-color="#98bc62"/><stop offset="0.5333" stop-color="#b0bc54"/><stop offset="0.5500" stop-color="#c5ba49"/><stop offset="0.5667" stop-color="#d6b341"/><stop offset="0.5833" stop-color="#dea63c"/><stop offset="0.6000" stop-color="#e59937"/><stop offset="0.6167" stop-color="#e58533"/><stop offset="0.6333" stop-color="#e47430"/><stop offset="0.6500" stop-color="#e4662d"/><stop offset="0.6667" stop-color="#e2592b"/><stop offset="0.6833" stop-color="#e14e29"/><stop offset="0.7000" stop-color="#e04428"/><stop offset="0.7167" stop-color="#df3d27"/><stop offset="0.7333" stop-color="#de3726"/><stop offset="0.7500" stop-color="#dd3325"/><stop offset="0.7667" stop-color="#dd2f24"/><stop offset="0.7833" stop-color="#dc2c24"/><stop offset="0.8000" stop-color="#dc2a23"/><stop offset="0.8167" stop-color="#dc2823"/><stop offset="0.8333" stop-color="#dc2623"/><stop offset="0.8500" stop-color="#dc2523"/><stop offset="0.8667" stop-color="#db2423"/><stop offset="0.8833" stop-color="#db2422"/><stop offset="0.9000" stop-color="#db2322"/><stop offset="0.9167" stop-color="#db2322"/><stop offset="0.9333" stop-color="#db2222"/><stop offset="0.9500" stop-color="#db2222"/><stop offset="0.9667" stop-color="#db2222"/><stop offset="0.9833" stop-color="#db2222"/><stop offset="1.0000" stop-color="#db2122"/></linearGradient>
<linearGradient id="lg" x1="0" y1="1" x2="0" y2="0"><stop offset="0.00" stop-color="#781c86"/><stop offset="0.10" stop-color="#462eb9"/><stop offset="0.20" stop-color="#3f64d0"/><stop offset="0.30" stop-color="#4a91ba"/><stop offset="0.40" stop-color="#63ae94"/><stop offset="0.50" stop-color="#83ba70"/><stop offset="0.60" stop-color="#abbd56"/><stop offset="0.70" stop-color="#d2b843"/><stop offset="0.80" stop-color="#e59d38"/><stop offset="0.90" stop-color="#e4642d"/><stop offset="1.00" stop-color="#db2122"/></linearGradient></defs>
<g id="density">
<rect x="27.4" y="341.9" width="214.8" height="215.4" fill="url(#dg)"/>
<rect x="22.8" y="337.6" width="224.0" height="224.3" fill="none" stroke="#858585" stroke-width=".9"/><path d="M27.4 561.9v-3.2M27.4 337.6v3.2M22.8 557.3h3.2M246.8 557.3h-3.2M34.6 561.9v-1.8M34.6 337.6v1.8M22.8 550.1h1.8M246.8 550.1h-1.8M41.7 561.9v-1.8M41.7 337.6v1.8M22.8 542.9h1.8M246.8 542.9h-1.8M48.9 561.9v-1.8M48.9 337.6v1.8M22.8 535.8h1.8M246.8 535.8h-1.8M56.0 561.9v-1.8M56.0 337.6v1.8M22.8 528.6h1.8M246.8 528.6h-1.8M63.2 561.9v-3.2M63.2 337.6v3.2M22.8 521.4h3.2M246.8 521.4h-3.2M70.4 561.9v-1.8M70.4 337.6v1.8M22.8 514.2h1.8M246.8 514.2h-1.8M77.5 561.9v-1.8M77.5 337.6v1.8M22.8 507.0h1.8M246.8 507.0h-1.8M84.7 561.9v-1.8M84.7 337.6v1.8M22.8 499.9h1.8M246.8 499.9h-1.8M91.8 561.9v-1.8M91.8 337.6v1.8M22.8 492.7h1.8M246.8 492.7h-1.8M99.0 561.9v-3.2M99.0 337.6v3.2M22.8 485.5h3.2M246.8 485.5h-3.2M106.2 561.9v-1.8M106.2 337.6v1.8M22.8 478.3h1.8M246.8 478.3h-1.8M113.3 561.9v-1.8M113.3 337.6v1.8M22.8 471.1h1.8M246.8 471.1h-1.8M120.5 561.9v-1.8M120.5 337.6v1.8M22.8 464.0h1.8M246.8 464.0h-1.8M127.6 561.9v-1.8M127.6 337.6v1.8M22.8 456.8h1.8M246.8 456.8h-1.8M134.8 561.9v-3.2M134.8 337.6v3.2M22.8 449.6h3.2M246.8 449.6h-3.2M142.0 561.9v-1.8M142.0 337.6v1.8M22.8 442.4h1.8M246.8 442.4h-1.8M149.1 561.9v-1.8M149.1 337.6v1.8M22.8 435.2h1.8M246.8 435.2h-1.8M156.3 561.9v-1.8M156.3 337.6v1.8M22.8 428.1h1.8M246.8 428.1h-1.8M163.4 561.9v-1.8M163.4 337.6v1.8M22.8 420.9h1.8M246.8 420.9h-1.8M170.6 561.9v-3.2M170.6 337.6v3.2M22.8 413.7h3.2M246.8 413.7h-3.2M177.8 561.9v-1.8M177.8 337.6v1.8M22.8 406.5h1.8M246.8 406.5h-1.8M184.9 561.9v-1.8M184.9 337.6v1.8M22.8 399.3h1.8M246.8 399.3h-1.8M192.1 561.9v-1.8M192.1 337.6v1.8M22.8 392.2h1.8M246.8 392.2h-1.8M199.2 561.9v-1.8M199.2 337.6v1.8M22.8 385.0h1.8M246.8 385.0h-1.8M206.4 561.9v-3.2M206.4 337.6v3.2M22.8 377.8h3.2M246.8 377.8h-3.2M213.6 561.9v-1.8M213.6 337.6v1.8M22.8 370.6h1.8M246.8 370.6h-1.8M220.7 561.9v-1.8M220.7 337.6v1.8M22.8 363.4h1.8M246.8 363.4h-1.8M227.9 561.9v-1.8M227.9 337.6v1.8M22.8 356.3h1.8M246.8 356.3h-1.8M235.0 561.9v-1.8M235.0 337.6v1.8M22.8 349.1h1.8M246.8 349.1h-1.8M242.2 561.9v-3.2M242.2 337.6v3.2M22.8 341.9h3.2M246.8 341.9h-3.2" stroke="#484848" stroke-width=".75" fill="none"/>
<g font-size="16.2" text-anchor="end">
<text x="21" y="563.1"><tspan font-size="19.8" dy="1.28">−</tspan><tspan dy="-1.28">3</tspan></text>
<text x="21" y="527.2"><tspan font-size="19.8" dy="1.28">−</tspan><tspan dy="-1.28">2</tspan></text>
<text x="21" y="491.3"><tspan font-size="19.8" dy="1.28">−</tspan><tspan dy="-1.28">1</tspan></text>
<text x="21" y="455.4">0</text>
<text x="21" y="419.5">1</text>
<text x="21" y="383.6">2</text>
<text x="21" y="347.7">3</text>
</g><g font-size="16.2" text-anchor="middle">
<text x="26.4" y="580.2"><tspan font-size="19.8" dy="1.28">−</tspan><tspan dy="-1.28">3</tspan></text>
<text x="62.2" y="580.2"><tspan font-size="19.8" dy="1.28">−</tspan><tspan dy="-1.28">2</tspan></text>
<text x="98.0" y="580.2"><tspan font-size="19.8" dy="1.28">−</tspan><tspan dy="-1.28">1</tspan></text>
<text x="134.8" y="580.2">0</text>
<text x="170.6" y="580.2">1</text>
<text x="206.4" y="580.2">2</text>
<text x="242.2" y="580.2">3</text>
</g>
<rect x="257.5" y="383.8" width="10" height="138" fill="url(#lg)"/>
<path d="M267.5 409.1h2.4M267.5 437.7h2.4M267.5 466.3h2.4M267.5 494.9h2.4" stroke="#666" stroke-width=".7" fill="none"/>
<g font-size="16.2">
<text x="272.4" y="414.9">100</text>
<text x="272.4" y="443.5">75</text>
<text x="272.4" y="472.1">50</text>
<text x="272.4" y="500.7">25</text>
</g></g>
<g id="line">
<path d="M391 481.2H656" stroke="#702a80" stroke-width="1.5" fill="none"/>
<g font-size="20.6" text-anchor="end">
<text x="521" y="414.7">2.0</text>
<text x="521" y="452.3">1.5</text>
<text x="521" y="489.8">1.0</text>
<text x="521" y="527.4">0.5</text>
</g>
<path d="M400.9 557.2v-2.4M409.7 557.2v-2.4M418.4 557.2v-2.4M427.2 557.2v-2.4M444.8 557.2v-2.4M453.6 557.2v-2.4M462.3 557.2v-2.4M471.1 557.2v-2.4M488.7 557.2v-2.4M497.5 557.2v-2.4M506.2 557.2v-2.4M515.0 557.2v-2.4M532.6 557.2v-2.4M541.4 557.2v-2.4M550.1 557.2v-2.4M558.9 557.2v-2.4M576.5 557.2v-2.4M585.3 557.2v-2.4M594.0 557.2v-2.4M602.8 557.2v-2.4M620.4 557.2v-2.4M629.2 557.2v-2.4M637.9 557.2v-2.4M646.7 557.2v-2.4M523.9 549.7h2.4M523.9 542.2h2.4M523.9 534.7h2.4M523.9 527.2h2.4M523.9 512.1h2.4M523.9 504.6h2.4M523.9 497.1h2.4M523.9 489.6h2.4M523.9 474.6h2.4M523.9 467.1h2.4M523.9 459.6h2.4M523.9 452.1h2.4M523.9 437.0h2.4M523.9 429.5h2.4M523.9 422.0h2.4M523.9 414.5h2.4M523.9 399.5h2.4" stroke="#6a6a6a" stroke-width=".9" fill="none"/>
<path d="M392.1 557.2v-3.3M436.0 557.2v-3.3M479.9 557.2v-3.3M523.8 557.2v-3.3M567.7 557.2v-3.3M611.6 557.2v-3.3M655.5 557.2v-3.3M523.9 519.7h3.3M523.9 482.1h3.3M523.9 444.6h3.3M523.9 407.0h3.3" stroke="#666" stroke-width="1.5" fill="none"/>
<path d="M386.8 557.3H660.9M523.9 396.7V565.2" stroke="#6a6a6a" stroke-width="2.5" fill="none"/>
<g font-size="20.6" text-anchor="middle">
<text x="392.6" y="578.6">−3</text>
<text x="436.5" y="578.6">−2</text>
<text x="480.4" y="578.6">−1</text>
<text x="568.2" y="578.6">1</text>
<text x="612.1" y="578.6">2</text>
<text x="656.0" y="578.6">3</text>
</g>
<g font-size="28" text-anchor="middle"><text x="524" y="385.2">t</text><text x="675.7" y="567.4">x</text></g>
</g>
</svg></body></html>
